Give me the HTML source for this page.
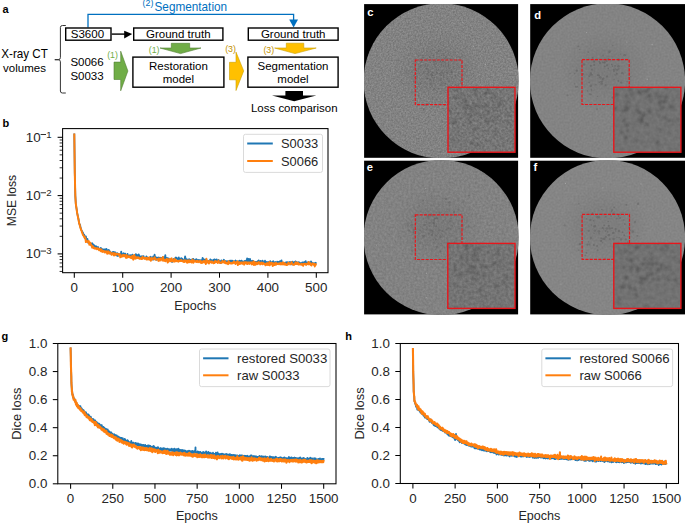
<!DOCTYPE html>
<html><head><meta charset="utf-8"><title>Figure</title>
<style>html,body{margin:0;padding:0;background:#fff;}svg{display:block;}text{font-family:"Liberation Sans",sans-serif;}</style>
</head><body>
<svg width="685" height="523" viewBox="0 0 685 523" font-family="Liberation Sans, sans-serif">
<rect width="685" height="523" fill="#fff"/>
<defs>
<clipPath id="clipb"><rect x="62.6" y="128.6" width="265.4" height="144.1"/></clipPath>
<clipPath id="clipg"><rect x="57.8" y="343.5" width="278.2" height="140.3"/></clipPath>
<clipPath id="cliph"><rect x="400.3" y="343.5" width="278.2" height="140"/></clipPath>
<filter id="hblur" x="-50%" y="-50%" width="200%" height="200%"><feGaussianBlur stdDeviation="10"/></filter>
<filter id="pblur" x="-50%" y="-50%" width="200%" height="200%"><feGaussianBlur stdDeviation="0.75"/></filter>
<filter id="pblur2" x="-50%" y="-50%" width="200%" height="200%"><feGaussianBlur stdDeviation="1.1"/></filter>
<filter id="nc" x="0" y="0" width="100%" height="100%" color-interpolation-filters="sRGB"><feTurbulence type="fractalNoise" baseFrequency="0.6" numOctaves="2" seed="1"/><feColorMatrix type="matrix" values="0.2028 0 0 0 0.4084  0.2028 0 0 0 0.4084  0.2028 0 0 0 0.4084  0 0 0 0 1"/></filter>
<filter id="nic" x="0" y="0" width="100%" height="100%" color-interpolation-filters="sRGB"><feTurbulence type="fractalNoise" baseFrequency="0.4" numOctaves="2" seed="21"/><feColorMatrix type="matrix" values="0.2197 0 0 0 0.3529  0.2197 0 0 0 0.3529  0.2197 0 0 0 0.3529  0 0 0 0 1"/></filter>
<filter id="nd" x="0" y="0" width="100%" height="100%" color-interpolation-filters="sRGB"><feTurbulence type="fractalNoise" baseFrequency="0.5" numOctaves="2" seed="2"/><feColorMatrix type="matrix" values="0.0744 0 0 0 0.4765  0.0744 0 0 0 0.4765  0.0744 0 0 0 0.4765  0 0 0 0 1"/></filter>
<filter id="nid" x="0" y="0" width="100%" height="100%" color-interpolation-filters="sRGB"><feTurbulence type="fractalNoise" baseFrequency="0.25" numOctaves="2" seed="22"/><feColorMatrix type="matrix" values="0.0845 0 0 0 0.4048  0.0845 0 0 0 0.4048  0.0845 0 0 0 0.4048  0 0 0 0 1"/></filter>
<filter id="ne" x="0" y="0" width="100%" height="100%" color-interpolation-filters="sRGB"><feTurbulence type="fractalNoise" baseFrequency="0.45" numOctaves="2" seed="3"/><feColorMatrix type="matrix" values="0.1285 0 0 0 0.4456  0.1285 0 0 0 0.4456  0.1285 0 0 0 0.4456  0 0 0 0 1"/></filter>
<filter id="nie" x="0" y="0" width="100%" height="100%" color-interpolation-filters="sRGB"><feTurbulence type="fractalNoise" baseFrequency="0.35" numOctaves="2" seed="23"/><feColorMatrix type="matrix" values="0.1521 0 0 0 0.3788  0.1521 0 0 0 0.3788  0.1521 0 0 0 0.3788  0 0 0 0 1"/></filter>
<filter id="nf" x="0" y="0" width="100%" height="100%" color-interpolation-filters="sRGB"><feTurbulence type="fractalNoise" baseFrequency="0.5" numOctaves="2" seed="4"/><feColorMatrix type="matrix" values="0.0744 0 0 0 0.4844  0.0744 0 0 0 0.4844  0.0744 0 0 0 0.4844  0 0 0 0 1"/></filter>
<filter id="nif" x="0" y="0" width="100%" height="100%" color-interpolation-filters="sRGB"><feTurbulence type="fractalNoise" baseFrequency="0.25" numOctaves="2" seed="24"/><feColorMatrix type="matrix" values="0.0845 0 0 0 0.4048  0.0845 0 0 0 0.4048  0.0845 0 0 0 0.4048  0 0 0 0 1"/></filter>
</defs>
<g font-family="Liberation Sans, sans-serif">
<text x="2.5" y="13.2" font-size="11" font-weight="bold" fill="#000">a</text>
<path d="M88,27.6 V14.3 H293.6 V20.5" fill="none" stroke="#0070C0" stroke-width="1.3"/>
<polygon points="289.2,19.4 298,19.4 293.6,27.6" fill="#0070C0"/>
<text x="142.6" y="6.0" font-size="8.8" fill="#0070C0">(2)</text>
<text x="154.5" y="10.9" font-size="11.9" fill="#0070C0" textLength="72.6" lengthAdjust="spacingAndGlyphs">Segmentation</text>
<path d="M65.8,25.5 H62.4 Q60.4,25.5 60.4,27.5 V57.6 Q60.4,59.7 58.2,59.7 H54.8 H58.2 Q60.4,59.7 60.4,61.8 V91 Q60.4,93 62.4,93 H65.8" fill="none" stroke="#333" stroke-width="1"/>
<text x="24.6" y="57.9" font-size="12.2" text-anchor="middle" fill="#000" textLength="46.6" lengthAdjust="spacingAndGlyphs">X-ray CT</text>
<text x="24.5" y="71.6" font-size="11.5" text-anchor="middle" fill="#000">volumes</text>
<text x="70.4" y="66.4" font-size="11.5" fill="#000">S0066</text>
<text x="70.4" y="79.9" font-size="11.5" fill="#000">S0033</text>
<rect x="65.70" y="28.00" width="45.30" height="12.20" fill="#fff" stroke="#000" stroke-width="1.4"/>
<rect x="133.70" y="28.00" width="89.20" height="12.20" fill="#fff" stroke="#000" stroke-width="1.4"/>
<rect x="248.30" y="28.00" width="89.80" height="12.20" fill="#fff" stroke="#000" stroke-width="1.4"/>
<rect x="132.90" y="57.10" width="91.00" height="30.10" fill="#fff" stroke="#000" stroke-width="1.4"/>
<rect x="247.90" y="57.10" width="90.20" height="30.10" fill="#fff" stroke="#000" stroke-width="1.4"/>
<text x="87.4" y="38.1" font-size="11.5" text-anchor="middle" fill="#000" textLength="33.4" lengthAdjust="spacingAndGlyphs">S3600</text>
<text x="178.3" y="38.1" font-size="11.5" text-anchor="middle" fill="#000">Ground truth</text>
<text x="293.2" y="38.1" font-size="11.5" text-anchor="middle" fill="#000">Ground truth</text>
<text x="178.4" y="69.7" font-size="11.5" text-anchor="middle" fill="#000">Restoration</text>
<text x="178.4" y="83.3" font-size="11.5" text-anchor="middle" fill="#000">model</text>
<text x="293" y="69.7" font-size="11.5" text-anchor="middle" fill="#000">Segmentation</text>
<text x="293" y="83.3" font-size="11.5" text-anchor="middle" fill="#000">model</text>
<path d="M111.7,34.1 H125" stroke="#000" stroke-width="1.4"/>
<polygon points="124.2,30.7 132.2,34.1 124.2,38.4" fill="#000"/>
<polygon points="114,62.1 120.7,62.1 120.7,51.2 127.9,71 120.7,90.8 120.7,79.5 114,79.5" fill="#70AD47" stroke="#507E32" stroke-width="0.6"/>
<polygon points="171.3,43.3 189.7,43.3 189.7,48 201,48 180.5,53.6 160,48 171.3,48" fill="#70AD47" stroke="#507E32" stroke-width="0.6"/>
<text x="107.2" y="58.3" font-size="8.8" fill="#70AD47">(1)</text>
<text x="148.8" y="53.4" font-size="8.8" fill="#70AD47">(1)</text>
<polygon points="229.5,62.3 236,62.3 236,52.1 243.7,70.9 236,90.5 236,79.8 229.5,79.8" fill="#FFC000" stroke="#C9A000" stroke-width="0.6"/>
<polygon points="286.3,43.2 303.8,43.2 303.8,48 316.2,48 295,53.6 274.6,48 286.3,48" fill="#FFC000" stroke="#C9A000" stroke-width="0.6"/>
<text x="225.2" y="52.3" font-size="8.8" fill="#BF9000">(3)</text>
<text x="263.4" y="53.4" font-size="8.8" fill="#BF9000">(3)</text>
<polygon points="285.4,91 303,91 303,95.4 316.3,95.4 294.2,101.2 272,95.4 285.4,95.4" fill="#000"/>
<text x="294.3" y="111.5" font-size="11.5" text-anchor="middle" fill="#000" textLength="86.6" lengthAdjust="spacingAndGlyphs">Loss comparison</text>
</g>
<g clip-path="url(#clipb)">
<polyline points="74.3,134.5 74.8,173.3 75.3,195.6 75.8,203.4 76.2,206.6 76.7,209.4 77.2,213.1 77.7,215.4 78.2,217.7 78.7,220.1 79.1,223.1 79.6,224.4 80.1,224.9 80.6,227.9 81.1,229.3 81.6,230.5 82.0,231.0 82.5,232.2 83.0,232.8 83.5,235.1 84.0,234.4 84.5,235.7 84.9,238.4 85.4,236.6 85.9,236.5 86.4,239.6 86.9,239.5 87.4,239.0 87.9,241.9 88.3,242.9 88.8,242.9 89.3,242.9 89.8,243.5 90.3,243.1 90.8,243.7 91.2,245.2 91.7,244.1 92.2,243.3 92.7,244.2 93.2,244.7 93.7,245.8 94.1,245.3 94.6,247.2 95.1,246.1 95.6,247.1 96.1,246.3 96.6,247.0 97.0,248.4 97.5,247.6 98.0,246.9 98.5,249.0 99.0,248.7 99.5,249.1 100.0,249.9 100.4,248.1 100.9,248.0 101.4,248.6 101.9,249.2 102.4,249.6 102.9,249.5 103.3,250.5 103.8,249.3 104.3,249.3 104.8,249.5 105.3,250.9 105.8,250.5 106.2,248.8 106.7,249.4 107.2,250.9 107.7,252.7 108.2,251.0 108.7,249.9 109.1,251.1 109.6,251.1 110.1,251.9 110.6,253.7 111.1,253.7 111.6,253.3 112.1,252.5 112.5,252.2 113.0,252.0 113.5,252.9 114.0,252.0 114.5,253.1 115.0,253.5 115.4,252.3 115.9,253.9 116.4,255.5 116.9,254.2 117.4,253.3 117.9,256.0 118.3,253.9 118.8,254.0 119.3,255.0 119.8,255.1 120.3,254.4 120.8,254.6 121.2,251.7 121.7,254.0 122.2,255.7 122.7,255.2 123.2,254.1 123.7,253.2 124.2,254.6 124.6,254.7 125.1,253.6 125.6,255.2 126.1,255.5 126.6,256.6 127.1,255.9 127.5,253.8 128.0,256.8 128.5,255.6 129.0,256.8 129.5,255.6 130.0,255.1 130.4,256.0 130.9,255.3 131.4,255.3 131.9,255.6 132.4,254.6 132.9,255.4 133.3,256.3 133.8,256.7 134.3,256.9 134.8,255.8 135.3,256.5 135.8,254.1 136.3,254.8 136.7,254.8 137.2,256.7 137.7,255.1 138.2,258.1 138.7,254.3 139.2,255.8 139.6,257.4 140.1,257.1 140.6,257.0 141.1,256.3 141.6,256.7 142.1,256.6 142.5,256.4 143.0,256.9 143.5,256.1 144.0,257.7 144.5,258.3 145.0,258.6 145.4,258.5 145.9,257.7 146.4,256.4 146.9,257.2 147.4,257.8 147.9,258.2 148.4,257.8 148.8,257.8 149.3,257.9 149.8,258.7 150.3,257.9 150.8,256.8 151.3,259.4 151.7,257.9 152.2,259.4 152.7,257.6 153.2,256.5 153.7,259.5 154.2,257.8 154.6,254.7 155.1,257.8 155.6,257.0 156.1,258.0 156.6,259.8 157.1,257.7 157.5,258.4 158.0,259.3 158.5,257.5 159.0,258.0 159.5,258.7 160.0,257.6 160.5,259.0 160.9,257.8 161.4,259.1 161.9,258.0 162.4,259.4 162.9,257.3 163.4,258.3 163.8,257.4 164.3,259.3 164.8,259.0 165.3,255.2 165.8,260.9 166.3,259.6 166.7,257.9 167.2,258.4 167.7,258.1 168.2,259.1 168.7,258.5 169.2,259.6 169.6,260.1 170.1,260.4 170.6,259.5 171.1,259.6 171.6,259.6 172.1,262.0 172.6,260.8 173.0,259.6 173.5,259.0 174.0,259.7 174.5,260.0 175.0,261.1 175.5,257.6 175.9,257.5 176.4,257.9 176.9,258.1 177.4,259.1 177.9,259.8 178.4,259.3 178.8,257.5 179.3,259.2 179.8,259.4 180.3,259.0 180.8,258.7 181.3,258.1 181.7,259.8 182.2,258.7 182.7,260.2 183.2,260.3 183.7,260.1 184.2,260.4 184.7,258.8 185.1,256.5 185.6,258.6 186.1,259.7 186.6,259.5 187.1,260.2 187.6,260.7 188.0,259.4 188.5,259.6 189.0,260.7 189.5,259.3 190.0,261.3 190.5,260.0 190.9,260.4 191.4,260.3 191.9,260.8 192.4,259.2 192.9,259.5 193.4,259.0 193.8,259.9 194.3,261.1 194.8,260.3 195.3,261.0 195.8,259.7 196.3,259.1 196.8,259.9 197.2,260.6 197.7,260.5 198.2,260.0 198.7,261.4 199.2,260.1 199.7,260.1 200.1,260.7 200.6,260.6 201.1,260.2 201.6,261.0 202.1,261.0 202.6,257.9 203.0,260.2 203.5,259.0 204.0,261.2 204.5,261.9 205.0,259.7 205.5,259.7 205.9,261.1 206.4,261.7 206.9,260.6 207.4,262.0 207.9,260.8 208.4,262.4 208.9,260.8 209.3,262.4 209.8,260.8 210.3,259.4 210.8,260.9 211.3,260.1 211.8,261.3 212.2,261.5 212.7,262.0 213.2,259.9 213.7,260.9 214.2,259.5 214.7,259.5 215.1,261.0 215.6,260.8 216.1,259.8 216.6,259.4 217.1,261.5 217.6,261.9 218.0,262.4 218.5,259.9 219.0,261.1 219.5,261.6 220.0,261.1 220.5,263.2 221.0,262.5 221.4,260.3 221.9,260.8 222.4,261.0 222.9,262.0 223.4,260.7 223.9,259.7 224.3,262.2 224.8,261.2 225.3,261.6 225.8,261.0 226.3,261.3 226.8,261.4 227.2,262.0 227.7,261.3 228.2,261.8 228.7,261.5 229.2,261.4 229.7,260.8 230.1,261.9 230.6,261.7 231.1,260.5 231.6,261.6 232.1,261.7 232.6,260.8 233.1,261.3 233.5,261.4 234.0,261.3 234.5,262.5 235.0,261.2 235.5,260.5 236.0,261.1 236.4,262.9 236.9,261.4 237.4,262.4 237.9,261.8 238.4,261.5 238.9,262.6 239.3,260.6 239.8,261.7 240.3,261.1 240.8,261.2 241.3,260.6 241.8,260.8 242.2,263.0 242.7,261.7 243.2,263.5 243.7,262.2 244.2,261.2 244.7,261.1 245.2,260.8 245.6,262.2 246.1,261.6 246.6,261.8 247.1,258.3 247.6,260.6 248.1,262.2 248.5,258.9 249.0,262.0 249.5,262.3 250.0,258.9 250.5,261.4 251.0,261.6 251.4,262.6 251.9,260.9 252.4,262.0 252.9,260.8 253.4,261.0 253.9,263.2 254.3,262.9 254.8,263.0 255.3,262.0 255.8,262.1 256.3,262.0 256.8,262.9 257.3,261.9 257.7,261.1 258.2,263.3 258.7,260.5 259.2,262.1 259.7,262.4 260.2,262.5 260.6,260.9 261.1,261.3 261.6,261.7 262.1,263.0 262.6,260.6 263.1,262.1 263.5,262.9 264.0,262.7 264.5,262.9 265.0,260.7 265.5,262.3 266.0,262.5 266.4,264.3 266.9,261.9 267.4,263.4 267.9,263.5 268.4,262.1 268.9,263.3 269.4,261.9 269.8,261.7 270.3,261.2 270.8,262.7 271.3,263.9 271.8,262.7 272.3,261.9 272.7,263.7 273.2,261.2 273.7,262.9 274.2,263.6 274.7,262.7 275.2,262.0 275.6,263.8 276.1,262.7 276.6,263.8 277.1,261.7 277.6,262.6 278.1,263.0 278.5,261.8 279.0,263.7 279.5,263.0 280.0,261.2 280.5,262.8 281.0,261.6 281.5,260.4 281.9,263.3 282.4,262.9 282.9,262.7 283.4,263.1 283.9,263.4 284.4,263.4 284.8,264.0 285.3,262.7 285.8,262.5 286.3,262.2 286.8,264.3 287.3,262.1 287.7,262.8 288.2,264.0 288.7,262.7 289.2,262.2 289.7,262.4 290.2,262.2 290.6,262.1 291.1,262.1 291.6,262.9 292.1,264.5 292.6,261.6 293.1,262.6 293.6,263.2 294.0,262.3 294.5,262.2 295.0,262.8 295.5,261.4 296.0,263.7 296.5,262.1 296.9,263.3 297.4,263.5 297.9,262.4 298.4,263.4 298.9,262.2 299.4,263.9 299.8,262.9 300.3,263.6 300.8,263.1 301.3,263.3 301.8,263.9 302.3,262.4 302.7,264.0 303.2,263.8 303.7,262.3 304.2,262.2 304.7,262.4 305.2,262.7 305.7,261.1 306.1,264.0 306.6,263.6 307.1,263.8 307.6,262.3 308.1,262.8 308.6,262.1 309.0,262.2 309.5,263.2 310.0,263.7 310.5,263.9 311.0,261.3 311.5,262.3 311.9,262.6 312.4,263.4 312.9,263.2 313.4,263.4 313.9,263.4 314.4,265.1 314.8,263.2 315.3,263.4 315.8,262.9" fill="none" stroke="#1f77b4" stroke-width="1.8" stroke-linejoin="round" stroke-linecap="square" />
<polyline points="74.3,134.5 74.8,173.4 75.3,195.6 75.8,203.6 76.2,206.5 76.7,209.9 77.2,213.4 77.7,215.8 78.2,218.2 78.7,220.6 79.1,223.1 79.6,224.5 80.1,226.8 80.6,228.1 81.1,229.9 81.6,230.8 82.0,232.4 82.5,233.6 83.0,235.0 83.5,235.6 84.0,236.3 84.5,237.6 84.9,237.1 85.4,238.0 85.9,242.1 86.4,241.9 86.9,240.9 87.4,241.7 87.9,241.7 88.3,242.3 88.8,241.1 89.3,244.7 89.8,244.6 90.3,242.8 90.8,244.5 91.2,244.8 91.7,246.2 92.2,247.6 92.7,246.2 93.2,246.5 93.7,248.1 94.1,247.9 94.6,247.7 95.1,248.8 95.6,248.3 96.1,248.3 96.6,248.5 97.0,249.2 97.5,248.3 98.0,248.3 98.5,249.0 99.0,250.2 99.5,249.0 100.0,250.3 100.4,249.2 100.9,251.2 101.4,249.5 101.9,250.6 102.4,251.9 102.9,251.2 103.3,251.0 103.8,250.9 104.3,252.2 104.8,252.5 105.3,251.4 105.8,252.2 106.2,251.7 106.7,251.4 107.2,253.7 107.7,252.1 108.2,251.4 108.7,252.9 109.1,253.6 109.6,252.2 110.1,252.9 110.6,252.4 111.1,253.7 111.6,254.8 112.1,253.7 112.5,254.1 113.0,253.0 113.5,253.7 114.0,255.5 114.5,255.1 115.0,253.3 115.4,253.6 115.9,254.9 116.4,254.4 116.9,254.1 117.4,254.2 117.9,253.9 118.3,254.5 118.8,255.0 119.3,255.2 119.8,254.1 120.3,257.3 120.8,255.4 121.2,255.4 121.7,256.8 122.2,255.3 122.7,256.3 123.2,255.0 123.7,256.1 124.2,255.4 124.6,255.0 125.1,255.9 125.6,257.2 126.1,257.9 126.6,255.0 127.1,256.8 127.5,257.4 128.0,256.7 128.5,257.0 129.0,256.1 129.5,256.9 130.0,257.0 130.4,257.7 130.9,256.6 131.4,258.1 131.9,256.5 132.4,255.8 132.9,258.7 133.3,259.6 133.8,256.7 134.3,255.0 134.8,258.3 135.3,258.6 135.8,256.9 136.3,258.3 136.7,258.1 137.2,258.0 137.7,257.2 138.2,258.1 138.7,257.5 139.2,258.0 139.6,258.6 140.1,258.2 140.6,258.8 141.1,258.0 141.6,259.1 142.1,259.1 142.5,256.8 143.0,258.2 143.5,258.3 144.0,257.8 144.5,258.7 145.0,258.6 145.4,258.0 145.9,258.2 146.4,259.5 146.9,257.7 147.4,259.1 147.9,259.6 148.4,259.4 148.8,259.0 149.3,257.2 149.8,259.8 150.3,258.6 150.8,260.8 151.3,258.8 151.7,258.0 152.2,259.1 152.7,259.5 153.2,258.8 153.7,258.4 154.2,258.4 154.6,257.2 155.1,258.9 155.6,259.7 156.1,259.3 156.6,259.3 157.1,259.2 157.5,259.3 158.0,259.2 158.5,260.9 159.0,258.6 159.5,260.0 160.0,260.6 160.5,258.9 160.9,258.3 161.4,259.1 161.9,259.5 162.4,260.5 162.9,257.0 163.4,258.9 163.8,260.8 164.3,260.5 164.8,259.8 165.3,261.3 165.8,259.8 166.3,260.4 166.7,258.8 167.2,259.1 167.7,262.6 168.2,260.1 168.7,261.6 169.2,259.1 169.6,260.0 170.1,259.7 170.6,261.3 171.1,258.6 171.6,258.4 172.1,261.3 172.6,260.0 173.0,261.0 173.5,260.4 174.0,261.6 174.5,258.7 175.0,261.4 175.5,260.8 175.9,260.0 176.4,261.1 176.9,260.8 177.4,261.1 177.9,260.7 178.4,261.7 178.8,261.0 179.3,260.8 179.8,261.0 180.3,260.6 180.8,261.0 181.3,260.0 181.7,261.0 182.2,260.9 182.7,261.4 183.2,261.3 183.7,262.0 184.2,260.3 184.7,261.9 185.1,261.6 185.6,260.6 186.1,260.5 186.6,261.3 187.1,262.8 187.6,260.6 188.0,260.7 188.5,262.3 189.0,260.3 189.5,261.7 190.0,262.1 190.5,261.0 190.9,261.3 191.4,260.9 191.9,262.6 192.4,259.5 192.9,261.7 193.4,262.6 193.8,260.6 194.3,261.6 194.8,261.0 195.3,261.6 195.8,261.3 196.3,261.1 196.8,262.0 197.2,260.7 197.7,261.8 198.2,262.2 198.7,261.3 199.2,261.0 199.7,261.7 200.1,262.3 200.6,260.9 201.1,263.1 201.6,262.5 202.1,261.5 202.6,262.8 203.0,261.6 203.5,261.7 204.0,260.8 204.5,262.5 205.0,262.2 205.5,261.4 205.9,264.0 206.4,258.8 206.9,262.4 207.4,262.4 207.9,261.0 208.4,261.8 208.9,263.5 209.3,261.2 209.8,261.1 210.3,262.3 210.8,262.2 211.3,261.5 211.8,262.8 212.2,261.5 212.7,261.8 213.2,262.6 213.7,263.3 214.2,262.2 214.7,262.9 215.1,261.1 215.6,261.9 216.1,261.4 216.6,262.0 217.1,261.9 217.6,262.9 218.0,261.6 218.5,260.5 219.0,262.5 219.5,262.8 220.0,262.4 220.5,262.7 221.0,262.9 221.4,262.2 221.9,262.6 222.4,261.0 222.9,262.3 223.4,262.1 223.9,261.5 224.3,262.7 224.8,261.1 225.3,263.0 225.8,263.2 226.3,262.8 226.8,262.6 227.2,263.8 227.7,262.5 228.2,264.1 228.7,261.2 229.2,262.6 229.7,263.2 230.1,263.4 230.6,263.0 231.1,262.8 231.6,263.6 232.1,263.5 232.6,262.8 233.1,263.2 233.5,261.8 234.0,261.6 234.5,262.7 235.0,262.3 235.5,264.0 236.0,262.2 236.4,262.8 236.9,262.4 237.4,261.3 237.9,265.0 238.4,262.6 238.9,263.9 239.3,262.3 239.8,264.1 240.3,263.4 240.8,262.7 241.3,262.4 241.8,262.9 242.2,263.7 242.7,263.5 243.2,262.2 243.7,263.0 244.2,264.6 244.7,262.3 245.2,262.7 245.6,262.3 246.1,263.4 246.6,262.3 247.1,264.1 247.6,262.6 248.1,263.6 248.5,262.6 249.0,262.3 249.5,263.9 250.0,263.3 250.5,263.2 251.0,262.2 251.4,262.6 251.9,264.4 252.4,262.9 252.9,262.6 253.4,261.4 253.9,264.9 254.3,263.9 254.8,262.1 255.3,264.7 255.8,264.5 256.3,263.0 256.8,262.5 257.3,264.1 257.7,263.0 258.2,263.4 258.7,262.1 259.2,263.5 259.7,262.6 260.2,264.4 260.6,263.7 261.1,263.7 261.6,262.5 262.1,263.1 262.6,264.3 263.1,263.0 263.5,263.0 264.0,263.8 264.5,263.9 265.0,263.9 265.5,265.3 266.0,263.6 266.4,263.5 266.9,264.6 267.4,263.1 267.9,265.1 268.4,264.3 268.9,264.3 269.4,262.0 269.8,265.3 270.3,263.3 270.8,263.0 271.3,263.5 271.8,262.8 272.3,264.8 272.7,266.0 273.2,263.2 273.7,265.0 274.2,264.2 274.7,265.0 275.2,262.9 275.6,263.1 276.1,264.6 276.6,263.1 277.1,263.8 277.6,264.1 278.1,263.9 278.5,264.1 279.0,263.4 279.5,263.7 280.0,264.3 280.5,263.0 281.0,264.5 281.5,263.7 281.9,263.6 282.4,262.6 282.9,264.5 283.4,262.4 283.9,263.8 284.4,264.2 284.8,264.6 285.3,263.5 285.8,264.0 286.3,265.1 286.8,265.1 287.3,264.6 287.7,264.7 288.2,263.0 288.7,262.8 289.2,263.3 289.7,263.7 290.2,264.5 290.6,264.0 291.1,263.3 291.6,262.1 292.1,263.3 292.6,264.4 293.1,264.1 293.6,264.6 294.0,264.9 294.5,264.3 295.0,264.0 295.5,262.4 296.0,264.1 296.5,262.9 296.9,262.5 297.4,264.1 297.9,262.7 298.4,263.5 298.9,264.6 299.4,263.9 299.8,264.2 300.3,264.4 300.8,264.4 301.3,264.1 301.8,263.8 302.3,265.1 302.7,264.2 303.2,265.7 303.7,264.0 304.2,263.7 304.7,264.1 305.2,264.0 305.7,263.7 306.1,264.9 306.6,264.5 307.1,263.8 307.6,263.4 308.1,263.9 308.6,261.9 309.0,264.4 309.5,263.4 310.0,263.1 310.5,264.4 311.0,265.1 311.5,265.4 311.9,264.2 312.4,263.3 312.9,264.1 313.4,264.2 313.9,264.7 314.4,263.8 314.8,266.4 315.3,264.2 315.8,264.4" fill="none" stroke="#ff7f0e" stroke-width="2.0" stroke-linejoin="round" stroke-linecap="square" />
</g>
<rect x="62.6" y="128.6" width="265.4" height="144.1" fill="none" stroke="#000" stroke-width="1.05"/>
<line x1="57.6" y1="137.30" x2="62.6" y2="137.30" stroke="#000" stroke-width="1.05"/>
<text x="25.800000000000004" y="141.60" font-size="12.2" fill="#262626" textLength="14.89" lengthAdjust="spacingAndGlyphs">10</text>
<rect x="40.60" y="134.00" width="5.4" height="0.95" fill="#262626"/>
<text x="46.20" y="137.70" font-size="9.6" fill="#262626">1</text>
<line x1="57.6" y1="195.60" x2="62.6" y2="195.60" stroke="#000" stroke-width="1.05"/>
<text x="25.800000000000004" y="199.90" font-size="12.2" fill="#262626" textLength="14.89" lengthAdjust="spacingAndGlyphs">10</text>
<rect x="40.60" y="192.30" width="5.4" height="0.95" fill="#262626"/>
<text x="46.20" y="196.00" font-size="9.6" fill="#262626">2</text>
<line x1="57.6" y1="253.90" x2="62.6" y2="253.90" stroke="#000" stroke-width="1.05"/>
<text x="25.800000000000004" y="258.20" font-size="12.2" fill="#262626" textLength="14.89" lengthAdjust="spacingAndGlyphs">10</text>
<rect x="40.60" y="250.60" width="5.4" height="0.95" fill="#262626"/>
<text x="46.20" y="254.30" font-size="9.6" fill="#262626">3</text>
<line x1="59.6" y1="271.45" x2="62.6" y2="271.45" stroke="#000" stroke-width="0.8"/>
<line x1="59.6" y1="266.83" x2="62.6" y2="266.83" stroke="#000" stroke-width="0.8"/>
<line x1="59.6" y1="262.93" x2="62.6" y2="262.93" stroke="#000" stroke-width="0.8"/>
<line x1="59.6" y1="259.55" x2="62.6" y2="259.55" stroke="#000" stroke-width="0.8"/>
<line x1="59.6" y1="256.57" x2="62.6" y2="256.57" stroke="#000" stroke-width="0.8"/>
<line x1="59.6" y1="236.35" x2="62.6" y2="236.35" stroke="#000" stroke-width="0.8"/>
<line x1="59.6" y1="226.08" x2="62.6" y2="226.08" stroke="#000" stroke-width="0.8"/>
<line x1="59.6" y1="218.80" x2="62.6" y2="218.80" stroke="#000" stroke-width="0.8"/>
<line x1="59.6" y1="213.15" x2="62.6" y2="213.15" stroke="#000" stroke-width="0.8"/>
<line x1="59.6" y1="208.53" x2="62.6" y2="208.53" stroke="#000" stroke-width="0.8"/>
<line x1="59.6" y1="204.63" x2="62.6" y2="204.63" stroke="#000" stroke-width="0.8"/>
<line x1="59.6" y1="201.25" x2="62.6" y2="201.25" stroke="#000" stroke-width="0.8"/>
<line x1="59.6" y1="198.27" x2="62.6" y2="198.27" stroke="#000" stroke-width="0.8"/>
<line x1="59.6" y1="178.05" x2="62.6" y2="178.05" stroke="#000" stroke-width="0.8"/>
<line x1="59.6" y1="167.78" x2="62.6" y2="167.78" stroke="#000" stroke-width="0.8"/>
<line x1="59.6" y1="160.50" x2="62.6" y2="160.50" stroke="#000" stroke-width="0.8"/>
<line x1="59.6" y1="154.85" x2="62.6" y2="154.85" stroke="#000" stroke-width="0.8"/>
<line x1="59.6" y1="150.23" x2="62.6" y2="150.23" stroke="#000" stroke-width="0.8"/>
<line x1="59.6" y1="146.33" x2="62.6" y2="146.33" stroke="#000" stroke-width="0.8"/>
<line x1="59.6" y1="142.95" x2="62.6" y2="142.95" stroke="#000" stroke-width="0.8"/>
<line x1="59.6" y1="139.97" x2="62.6" y2="139.97" stroke="#000" stroke-width="0.8"/>
<line x1="74.30" y1="272.7" x2="74.30" y2="277.7" stroke="#000" stroke-width="1.05"/>
<text x="74.30" y="292.00" font-size="12.2" text-anchor="middle" fill="#262626" textLength="7.44" lengthAdjust="spacingAndGlyphs" >0</text>
<line x1="122.70" y1="272.7" x2="122.70" y2="277.7" stroke="#000" stroke-width="1.05"/>
<text x="122.70" y="292.00" font-size="12.2" text-anchor="middle" fill="#262626" textLength="22.33" lengthAdjust="spacingAndGlyphs" >100</text>
<line x1="171.10" y1="272.7" x2="171.10" y2="277.7" stroke="#000" stroke-width="1.05"/>
<text x="171.10" y="292.00" font-size="12.2" text-anchor="middle" fill="#262626" textLength="22.33" lengthAdjust="spacingAndGlyphs" >200</text>
<line x1="219.50" y1="272.7" x2="219.50" y2="277.7" stroke="#000" stroke-width="1.05"/>
<text x="219.50" y="292.00" font-size="12.2" text-anchor="middle" fill="#262626" textLength="22.33" lengthAdjust="spacingAndGlyphs" >300</text>
<line x1="267.90" y1="272.7" x2="267.90" y2="277.7" stroke="#000" stroke-width="1.05"/>
<text x="267.90" y="292.00" font-size="12.2" text-anchor="middle" fill="#262626" textLength="22.33" lengthAdjust="spacingAndGlyphs" >400</text>
<line x1="316.30" y1="272.7" x2="316.30" y2="277.7" stroke="#000" stroke-width="1.05"/>
<text x="316.30" y="292.00" font-size="12.2" text-anchor="middle" fill="#262626" textLength="22.33" lengthAdjust="spacingAndGlyphs" >500</text>
<text x="195.30" y="309.50" font-size="12.2" text-anchor="middle" fill="#262626" textLength="41.92" lengthAdjust="spacingAndGlyphs" >Epochs</text>
<text transform="translate(16.1,200.6) rotate(-90)" font-size="12.2" text-anchor="middle" fill="#262626" textLength="51.23" lengthAdjust="spacingAndGlyphs">MSE loss</text>
<rect x="243.5" y="134.3" width="79.0" height="38.099999999999994" rx="2" fill="#fff" fill-opacity="0.8" stroke="#d6d6d6" stroke-width="0.9"/>
<line x1="247.2" y1="143.5" x2="272.8" y2="143.5" stroke="#1f77b4" stroke-width="2"/>
<text x="281.00" y="148.10" font-size="12.2" text-anchor="start" fill="#262626" textLength="37.20" lengthAdjust="spacingAndGlyphs" >S0033</text>
<line x1="247.2" y1="161.0" x2="272.8" y2="161.0" stroke="#ff7f0e" stroke-width="2"/>
<text x="281.00" y="165.50" font-size="12.2" text-anchor="start" fill="#262626" textLength="37.20" lengthAdjust="spacingAndGlyphs" >S0066</text>
<text x="2.6" y="126.5" font-size="11" font-weight="bold" fill="#000">b</text>
<g clip-path="url(#clipg)">
<polyline points="70.6,348.4 70.8,356.6 70.9,364.6 71.1,370.5 71.3,376.4 71.4,382.7 71.6,385.8 71.8,388.8 71.9,390.8 72.1,391.0 72.3,392.8 72.5,394.7 72.6,395.4 72.8,394.5 73.0,396.1 73.1,397.8 73.3,397.0 73.5,398.1 73.6,398.0 73.8,398.3 74.0,398.8 74.1,398.2 74.3,399.0 74.5,399.7 74.6,399.3 74.8,399.3 75.0,401.4 75.2,400.8 75.3,401.6 75.5,401.4 75.7,402.5 75.8,401.9 76.0,402.3 76.2,402.8 76.3,403.7 76.5,403.6 76.7,404.4 76.8,404.9 77.0,404.1 77.2,405.4 77.3,404.1 77.5,404.6 77.7,406.7 77.9,405.3 78.0,406.4 78.2,405.8 78.4,405.9 78.5,407.5 78.7,406.4 78.9,406.6 79.0,405.9 79.2,407.6 79.4,406.4 79.5,407.9 79.7,407.5 79.9,408.0 80.0,406.6 80.2,407.4 80.4,406.2 80.6,407.6 80.7,407.7 80.9,407.8 81.1,409.0 81.2,408.8 81.4,408.0 81.6,409.3 81.7,409.1 81.9,409.4 82.1,409.1 82.2,410.0 82.4,410.0 82.6,409.9 82.7,410.1 82.9,411.0 83.1,409.9 83.3,411.6 83.4,411.7 83.6,411.9 83.8,410.5 83.9,411.6 84.1,412.2 84.3,412.5 84.4,411.6 84.6,412.8 84.8,413.1 84.9,411.9 85.1,413.4 85.3,412.9 85.4,412.9 85.6,413.3 85.8,413.2 86.0,412.4 86.1,413.9 86.3,414.5 86.5,415.1 86.6,414.1 86.8,414.4 87.0,414.1 87.1,414.8 87.3,415.0 87.5,415.3 87.6,415.3 87.8,415.0 88.0,415.6 88.1,415.4 88.3,414.3 88.5,415.4 88.7,417.0 88.8,414.9 89.0,416.0 89.2,417.1 89.3,415.9 89.5,416.7 89.7,417.3 89.8,417.5 90.0,417.9 90.2,417.4 90.3,416.8 90.5,417.9 90.7,417.6 90.8,416.7 91.0,419.1 91.2,418.2 91.4,418.7 91.5,419.4 91.7,419.6 91.9,419.0 92.0,418.9 92.2,419.7 92.4,419.5 92.5,419.2 92.7,419.6 92.9,419.3 93.0,419.8 93.2,419.9 93.4,419.1 93.5,420.1 93.7,420.5 93.9,420.3 94.1,421.5 94.2,421.3 94.4,420.6 94.6,420.9 94.7,420.3 94.9,421.6 95.1,422.7 95.2,420.5 95.4,421.2 95.6,422.8 95.7,421.3 95.9,422.4 96.1,423.8 96.2,422.9 96.4,423.1 96.6,421.8 96.8,423.6 96.9,423.4 97.1,423.5 97.3,423.7 97.4,424.2 97.6,423.6 97.8,423.1 97.9,423.5 98.1,424.8 98.3,425.1 98.4,424.3 98.6,425.0 98.8,425.1 98.9,426.0 99.1,423.6 99.3,424.4 99.5,425.9 99.6,424.7 99.8,424.5 100.0,427.3 100.1,426.1 100.3,426.1 100.5,425.5 100.6,426.2 100.8,426.4 101.0,426.4 101.1,425.2 101.3,425.1 101.5,427.1 101.6,427.5 101.8,425.1 102.0,427.8 102.2,427.6 102.3,427.3 102.5,427.2 102.7,426.9 102.8,427.5 103.0,428.5 103.2,427.6 103.3,427.9 103.5,426.9 103.7,428.4 103.8,429.4 104.0,429.3 104.2,427.7 104.3,429.2 104.5,430.5 104.7,429.5 104.9,429.2 105.0,428.5 105.2,430.2 105.4,429.1 105.5,429.2 105.7,430.4 105.9,430.1 106.0,428.9 106.2,429.0 106.4,429.8 106.5,430.3 106.7,429.8 106.9,430.8 107.0,430.9 107.2,431.6 107.4,431.1 107.6,431.3 107.7,429.4 107.9,431.6 108.1,430.7 108.2,430.8 108.4,431.9 108.6,431.1 108.7,433.5 108.9,432.0 109.1,431.6 109.2,434.0 109.4,433.2 109.6,431.7 109.7,432.8 109.9,433.5 110.1,433.0 110.3,433.3 110.4,432.5 110.6,432.8 110.8,433.4 110.9,433.7 111.1,433.4 111.3,432.5 111.4,433.3 111.6,433.2 111.8,433.9 111.9,434.8 112.1,434.4 112.3,433.6 112.4,434.1 112.6,434.9 112.8,435.5 113.0,434.4 113.1,434.8 113.3,434.9 113.5,435.0 113.6,434.6 113.8,434.7 114.0,434.3 114.1,434.5 114.3,434.3 114.5,434.8 114.6,435.7 114.8,435.6 115.0,435.3 115.1,435.9 115.3,435.4 115.5,435.1 115.7,436.6 115.8,437.3 116.0,435.3 116.2,436.3 116.3,435.9 116.5,437.4 116.7,435.3 116.8,436.1 117.0,436.8 117.2,437.0 117.3,436.8 117.5,437.1 117.7,437.2 117.8,437.9 118.0,436.3 118.2,437.3 118.4,437.3 118.5,437.4 118.7,439.2 118.9,437.2 119.0,437.9 119.2,438.0 119.4,437.8 119.5,438.6 119.7,437.4 119.9,438.6 120.0,438.8 120.2,438.9 120.4,438.3 120.5,437.9 120.7,439.0 120.9,439.7 121.1,438.0 121.2,439.5 121.4,438.0 121.6,439.0 121.7,439.5 121.9,439.6 122.1,438.9 122.2,438.7 122.4,439.5 122.6,438.8 122.7,438.1 122.9,439.8 123.1,440.5 123.2,440.5 123.4,440.9 123.6,440.4 123.7,440.5 123.9,441.0 124.1,439.8 124.3,442.1 124.4,441.2 124.6,438.9 124.8,439.7 124.9,440.1 125.1,440.2 125.3,439.4 125.4,440.3 125.6,440.7 125.8,441.7 125.9,440.9 126.1,441.5 126.3,441.5 126.4,441.6 126.6,441.2 126.8,441.5 127.0,440.7 127.1,442.3 127.3,441.5 127.5,440.2 127.6,441.5 127.8,440.8 128.0,440.9 128.1,440.8 128.3,441.3 128.5,442.9 128.6,442.2 128.8,442.3 129.0,443.2 129.1,442.5 129.3,443.1 129.5,443.5 129.7,442.2 129.8,442.5 130.0,443.0 130.2,443.2 130.3,443.0 130.5,443.0 130.7,443.1 130.8,442.9 131.0,443.2 131.2,442.7 131.3,441.0 131.5,442.8 131.7,443.6 131.8,443.6 132.0,442.9 132.2,443.4 132.4,443.3 132.5,445.1 132.7,445.3 132.9,443.2 133.0,443.2 133.2,442.5 133.4,443.0 133.5,443.4 133.7,443.6 133.9,444.7 134.0,443.1 134.2,444.2 134.4,443.4 134.5,443.7 134.7,443.7 134.9,443.3 135.1,444.3 135.2,444.3 135.4,444.7 135.6,444.4 135.7,443.0 135.9,444.4 136.1,443.4 136.2,443.7 136.4,443.8 136.6,443.8 136.7,445.1 136.9,444.2 137.1,443.4 137.2,445.0 137.4,444.6 137.6,445.1 137.8,444.5 137.9,445.5 138.1,443.6 138.3,445.1 138.4,445.9 138.6,443.6 138.8,444.3 138.9,444.6 139.1,444.6 139.3,445.3 139.4,445.2 139.6,444.6 139.8,444.5 139.9,444.5 140.1,445.1 140.3,445.6 140.5,445.4 140.6,444.5 140.8,444.3 141.0,445.6 141.1,445.7 141.3,444.6 141.5,445.0 141.6,445.0 141.8,446.5 142.0,445.8 142.1,446.0 142.3,445.5 142.5,446.9 142.6,444.8 142.8,445.5 143.0,445.5 143.2,446.6 143.3,445.9 143.5,444.9 143.7,447.0 143.8,445.7 144.0,445.5 144.2,446.5 144.3,445.5 144.5,446.3 144.7,445.2 144.8,445.8 145.0,446.0 145.2,444.8 145.3,445.7 145.5,445.4 145.7,447.1 145.9,446.8 146.0,445.8 146.2,445.8 146.4,446.5 146.5,445.9 146.7,447.2 146.9,446.4 147.0,447.4 147.2,446.3 147.4,446.9 147.5,447.1 147.7,446.6 147.9,445.4 148.0,447.4 148.2,447.1 148.4,446.0 148.6,447.0 148.7,445.5 148.9,446.6 149.1,446.7 149.2,446.6 149.4,445.6 149.6,446.4 149.7,446.5 149.9,446.7 150.1,448.0 150.2,447.6 150.4,445.9 150.6,446.4 150.7,446.7 150.9,446.6 151.1,447.5 151.3,446.9 151.4,447.7 151.6,446.9 151.8,447.7 151.9,447.3 152.1,446.9 152.3,447.5 152.4,446.8 152.6,446.9 152.8,447.0 152.9,446.4 153.1,448.4 153.3,448.5 153.4,446.9 153.6,446.7 153.8,446.0 154.0,446.9 154.1,446.9 154.3,448.1 154.5,447.0 154.6,447.1 154.8,448.4 155.0,448.3 155.1,447.8 155.3,447.6 155.5,449.9 155.6,447.8 155.8,447.8 156.0,448.1 156.1,447.8 156.3,447.8 156.5,448.8 156.7,447.9 156.8,448.4 157.0,448.9 157.2,448.2 157.3,447.3 157.5,449.4 157.7,449.6 157.8,449.7 158.0,447.2 158.2,448.8 158.3,448.7 158.5,449.2 158.7,449.4 158.8,450.2 159.0,448.7 159.2,448.7 159.4,450.3 159.5,449.7 159.7,449.5 159.9,449.0 160.0,448.9 160.2,448.3 160.4,448.1 160.5,448.3 160.7,448.2 160.9,449.9 161.0,449.5 161.2,448.3 161.4,448.9 161.5,449.2 161.7,450.6 161.9,450.5 162.1,448.7 162.2,449.0 162.4,449.4 162.6,449.5 162.7,450.5 162.9,449.0 163.1,448.6 163.2,448.2 163.4,449.3 163.6,449.5 163.7,450.1 163.9,448.5 164.1,448.2 164.2,449.8 164.4,449.2 164.6,449.4 164.8,449.8 164.9,451.2 165.1,449.7 165.3,449.1 165.4,450.5 165.6,450.1 165.8,451.8 165.9,448.6 166.1,449.2 166.3,449.5 166.4,449.8 166.6,450.0 166.8,449.7 166.9,449.8 167.1,449.8 167.3,449.7 167.5,449.6 167.6,448.6 167.8,450.7 168.0,449.5 168.1,450.2 168.3,450.5 168.5,451.4 168.6,449.3 168.8,450.5 169.0,450.3 169.1,449.5 169.3,450.6 169.5,449.8 169.6,449.9 169.8,449.3 170.0,449.2 170.2,450.5 170.3,449.3 170.5,450.0 170.7,449.9 170.8,450.1 171.0,449.5 171.2,450.9 171.3,449.9 171.5,449.2 171.7,450.3 171.8,448.7 172.0,450.6 172.2,450.0 172.3,450.5 172.5,450.6 172.7,451.0 172.9,450.6 173.0,450.3 173.2,450.8 173.4,449.6 173.5,449.2 173.7,451.4 173.9,449.7 174.0,450.2 174.2,450.2 174.4,448.6 174.5,449.5 174.7,450.2 174.9,450.3 175.0,451.9 175.2,449.9 175.4,451.0 175.6,450.3 175.7,450.4 175.9,449.8 176.1,449.1 176.2,449.8 176.4,449.7 176.6,450.7 176.7,450.3 176.9,450.1 177.1,451.6 177.2,449.2 177.4,451.2 177.6,451.6 177.7,449.5 177.9,449.2 178.1,451.2 178.2,451.2 178.4,448.6 178.6,450.7 178.8,452.2 178.9,451.2 179.1,449.4 179.3,450.4 179.4,450.3 179.6,450.0 179.8,450.4 179.9,451.1 180.1,452.0 180.3,450.6 180.4,451.7 180.6,451.0 180.8,449.8 180.9,450.6 181.1,451.0 181.3,451.0 181.5,450.6 181.6,450.4 181.8,452.0 182.0,451.0 182.1,449.9 182.3,450.6 182.5,451.7 182.6,451.7 182.8,452.7 183.0,451.8 183.1,450.1 183.3,451.3 183.5,451.9 183.6,451.7 183.8,451.4 184.0,451.4 184.2,451.6 184.3,451.9 184.5,450.9 184.7,450.3 184.8,451.8 185.0,451.8 185.2,450.6 185.3,452.5 185.5,451.9 185.7,451.8 185.8,451.4 186.0,451.7 186.2,452.2 186.3,451.3 186.5,452.4 186.7,452.8 186.9,453.0 187.0,451.1 187.2,452.9 187.4,451.4 187.5,451.2 187.7,451.1 187.9,451.8 188.0,452.1 188.2,451.7 188.4,452.2 188.5,452.7 188.7,450.9 188.9,452.5 189.0,450.6 189.2,451.5 189.4,452.2 189.6,451.6 189.7,451.0 189.9,452.9 190.1,452.6 190.2,452.7 190.4,451.9 190.6,451.7 190.7,452.0 190.9,452.5 191.1,452.4 191.2,451.2 191.4,451.3 191.6,452.0 191.7,453.0 191.9,451.7 192.1,451.9 192.3,452.0 192.4,451.0 192.6,451.6 192.8,452.9 192.9,452.9 193.1,451.3 193.3,452.1 193.4,451.7 193.6,452.4 193.8,453.0 193.9,452.1 194.1,451.2 194.3,452.1 194.4,453.1 194.6,452.6 194.8,452.7 195.0,452.3 195.1,451.7 195.3,451.0 195.5,447.3 195.6,452.7 195.8,452.4 196.0,452.4 196.1,452.8 196.3,452.5 196.5,452.5 196.6,453.3 196.8,452.2 197.0,452.8 197.1,453.3 197.3,452.2 197.5,452.9 197.7,451.4 197.8,452.3 198.0,452.6 198.2,453.2 198.3,453.0 198.5,452.1 198.7,453.2 198.8,452.2 199.0,454.2 199.2,452.6 199.3,452.2 199.5,452.6 199.7,452.8 199.8,452.1 200.0,453.4 200.2,453.5 200.4,452.8 200.5,452.0 200.7,452.6 200.9,453.1 201.0,452.7 201.2,452.6 201.4,453.8 201.5,455.0 201.7,453.7 201.9,454.1 202.0,453.4 202.2,453.9 202.4,453.7 202.5,452.8 202.7,453.0 202.9,453.1 203.1,452.0 203.2,453.5 203.4,453.4 203.6,452.3 203.7,454.0 203.9,454.3 204.1,452.3 204.2,453.0 204.4,452.8 204.6,452.8 204.7,452.6 204.9,453.6 205.1,453.3 205.2,454.1 205.4,453.2 205.6,453.2 205.8,453.7 205.9,452.9 206.1,451.3 206.3,454.2 206.4,452.8 206.6,452.7 206.8,452.7 206.9,454.0 207.1,452.6 207.3,453.0 207.4,453.6 207.6,453.7 207.8,453.3 207.9,452.9 208.1,452.9 208.3,451.9 208.5,453.8 208.6,453.1 208.8,453.9 209.0,453.1 209.1,453.5 209.3,454.0 209.5,454.6 209.6,454.2 209.8,453.5 210.0,452.7 210.1,453.2 210.3,454.6 210.5,454.1 210.6,453.7 210.8,453.9 211.0,453.8 211.2,453.3 211.3,453.7 211.5,454.4 211.7,455.2 211.8,454.2 212.0,455.1 212.2,454.1 212.3,453.8 212.5,454.9 212.7,454.1 212.8,454.3 213.0,452.7 213.2,453.8 213.3,455.4 213.5,453.8 213.7,453.9 213.9,454.3 214.0,454.5 214.2,453.8 214.4,453.8 214.5,453.9 214.7,455.0 214.9,454.5 215.0,455.4 215.2,455.4 215.4,454.7 215.5,455.1 215.7,454.7 215.9,452.7 216.0,454.1 216.2,455.1 216.4,456.0 216.6,455.1 216.7,455.5 216.9,456.1 217.1,454.0 217.2,454.9 217.4,454.3 217.6,452.4 217.7,454.4 217.9,454.5 218.1,454.4 218.2,454.8 218.4,455.2 218.6,454.8 218.7,453.9 218.9,454.9 219.1,455.7 219.3,455.6 219.4,455.5 219.6,454.8 219.8,454.4 219.9,454.4 220.1,454.0 220.3,455.0 220.4,454.2 220.6,454.6 220.8,454.3 220.9,456.1 221.1,454.0 221.3,456.0 221.4,455.7 221.6,454.3 221.8,455.2 222.0,453.7 222.1,454.8 222.3,455.7 222.5,454.8 222.6,455.3 222.8,453.9 223.0,453.9 223.1,454.5 223.3,455.3 223.5,455.0 223.6,454.3 223.8,455.6 224.0,455.6 224.1,454.5 224.3,454.6 224.5,455.3 224.7,455.3 224.8,456.5 225.0,454.3 225.2,455.3 225.3,456.2 225.5,456.0 225.7,455.9 225.8,454.1 226.0,454.8 226.2,456.2 226.3,454.0 226.5,454.4 226.7,456.1 226.8,457.2 227.0,454.7 227.2,455.8 227.4,455.5 227.5,455.8 227.7,454.5 227.9,454.4 228.0,454.9 228.2,455.6 228.4,455.3 228.5,455.1 228.7,456.6 228.9,454.6 229.0,455.8 229.2,455.4 229.4,455.5 229.5,454.9 229.7,454.8 229.9,454.1 230.0,455.9 230.2,456.3 230.4,455.6 230.6,456.1 230.7,455.1 230.9,456.3 231.1,455.6 231.2,455.1 231.4,455.0 231.6,455.6 231.7,454.8 231.9,454.9 232.1,457.0 232.2,455.6 232.4,455.7 232.6,456.0 232.7,456.3 232.9,455.8 233.1,455.6 233.3,455.7 233.4,455.0 233.6,455.2 233.8,456.4 233.9,456.5 234.1,455.4 234.3,456.5 234.4,455.9 234.6,455.7 234.8,455.3 234.9,455.7 235.1,455.0 235.3,456.4 235.4,455.6 235.6,456.6 235.8,456.0 236.0,456.0 236.1,456.8 236.3,458.0 236.5,455.5 236.6,455.9 236.8,456.1 237.0,456.7 237.1,456.5 237.3,455.9 237.5,456.3 237.6,455.5 237.8,456.2 238.0,456.9 238.1,455.9 238.3,456.8 238.5,456.2 238.7,457.7 238.8,456.6 239.0,456.0 239.2,456.9 239.3,456.5 239.5,456.0 239.7,456.4 239.8,455.2 240.0,456.6 240.2,456.6 240.3,456.6 240.5,457.9 240.7,457.6 240.8,456.1 241.0,456.7 241.2,455.5 241.4,456.6 241.5,456.7 241.7,455.8 241.9,456.4 242.0,455.4 242.2,457.3 242.4,456.3 242.5,456.1 242.7,456.2 242.9,455.8 243.0,455.9 243.2,456.6 243.4,457.0 243.5,455.9 243.7,456.6 243.9,456.0 244.1,455.7 244.2,456.5 244.4,457.3 244.6,456.8 244.7,456.1 244.9,456.8 245.1,455.8 245.2,456.6 245.4,456.6 245.6,457.1 245.7,456.8 245.9,455.9 246.1,456.9 246.2,456.9 246.4,457.3 246.6,456.2 246.8,457.8 246.9,457.2 247.1,456.1 247.3,455.8 247.4,456.9 247.6,456.1 247.8,458.2 247.9,456.3 248.1,456.6 248.3,457.7 248.4,458.1 248.6,457.2 248.8,456.7 248.9,456.6 249.1,456.8 249.3,456.3 249.5,456.4 249.6,457.9 249.8,457.2 250.0,457.3 250.1,456.2 250.3,457.3 250.5,456.2 250.6,456.9 250.8,455.3 251.0,457.0 251.1,457.0 251.3,457.1 251.5,456.9 251.6,455.3 251.8,457.4 252.0,457.6 252.2,457.2 252.3,456.6 252.5,457.7 252.7,456.5 252.8,456.5 253.0,457.2 253.2,457.2 253.3,457.6 253.5,457.3 253.7,457.7 253.8,456.2 254.0,456.0 254.2,457.3 254.3,457.2 254.5,458.5 254.7,457.5 254.9,456.9 255.0,457.0 255.2,457.1 255.4,456.6 255.5,457.1 255.7,457.5 255.9,456.1 256.0,458.6 256.2,458.0 256.4,457.7 256.5,457.7 256.7,457.8 256.9,457.4 257.0,457.8 257.2,457.3 257.4,456.9 257.6,457.3 257.7,457.2 257.9,458.0 258.1,458.1 258.2,457.5 258.4,456.7 258.6,457.1 258.7,456.6 258.9,456.7 259.1,456.6 259.2,457.9 259.4,456.5 259.6,456.9 259.7,455.9 259.9,457.0 260.1,457.2 260.3,457.5 260.4,457.3 260.6,458.6 260.8,457.6 260.9,457.5 261.1,456.8 261.3,457.9 261.4,457.4 261.6,456.2 261.8,457.9 261.9,456.9 262.1,457.9 262.3,457.6 262.4,457.2 262.6,456.9 262.8,457.9 263.0,458.3 263.1,456.5 263.3,457.4 263.5,457.0 263.6,456.9 263.8,457.1 264.0,457.8 264.1,457.7 264.3,458.7 264.5,457.5 264.6,457.9 264.8,457.6 265.0,456.3 265.1,457.2 265.3,457.6 265.5,458.6 265.7,457.2 265.8,456.6 266.0,458.3 266.2,457.4 266.3,458.1 266.5,457.8 266.7,458.0 266.8,458.8 267.0,458.1 267.2,458.9 267.3,456.8 267.5,457.0 267.7,457.7 267.8,457.6 268.0,457.7 268.2,457.7 268.4,457.7 268.5,458.0 268.7,457.9 268.9,458.7 269.0,458.5 269.2,458.3 269.4,457.7 269.5,458.1 269.7,456.5 269.9,458.0 270.0,458.1 270.2,457.6 270.4,457.2 270.5,456.6 270.7,457.2 270.9,458.3 271.1,458.0 271.2,457.2 271.4,457.8 271.6,457.4 271.7,458.0 271.9,456.9 272.1,457.0 272.2,457.2 272.4,457.9 272.6,459.1 272.7,458.9 272.9,457.8 273.1,457.6 273.2,460.0 273.4,458.3 273.6,457.2 273.8,457.4 273.9,458.4 274.1,457.6 274.3,458.0 274.4,458.2 274.6,457.3 274.8,457.3 274.9,458.4 275.1,458.7 275.3,459.0 275.4,459.1 275.6,457.2 275.8,456.8 275.9,458.0 276.1,457.4 276.3,458.6 276.5,458.2 276.6,457.5 276.8,458.0 277.0,458.2 277.1,459.3 277.3,459.2 277.5,458.5 277.6,458.6 277.8,458.3 278.0,458.7 278.1,458.4 278.3,458.2 278.5,457.9 278.6,458.2 278.8,458.6 279.0,458.5 279.2,457.7 279.3,458.4 279.5,458.9 279.7,459.0 279.8,458.1 280.0,457.9 280.2,457.5 280.3,458.5 280.5,457.4 280.7,458.6 280.8,458.5 281.0,458.7 281.2,458.0 281.3,457.6 281.5,458.4 281.7,458.7 281.8,459.4 282.0,458.3 282.2,458.6 282.4,458.5 282.5,458.8 282.7,459.0 282.9,458.7 283.0,458.1 283.2,457.8 283.4,458.4 283.5,458.2 283.7,458.6 283.9,458.5 284.0,459.4 284.2,457.9 284.4,458.1 284.5,457.5 284.7,458.9 284.9,458.4 285.1,459.1 285.2,458.3 285.4,458.6 285.6,458.1 285.7,458.6 285.9,458.1 286.1,458.9 286.2,458.1 286.4,458.8 286.6,458.9 286.7,458.5 286.9,458.3 287.1,459.5 287.2,459.6 287.4,458.5 287.6,458.6 287.8,460.0 287.9,459.8 288.1,459.1 288.3,458.4 288.4,458.5 288.6,457.9 288.8,457.8 288.9,457.0 289.1,459.6 289.3,458.7 289.4,457.9 289.6,459.5 289.8,459.6 289.9,458.5 290.1,457.9 290.3,457.8 290.5,459.9 290.6,459.5 290.8,458.8 291.0,459.1 291.1,458.5 291.3,458.6 291.5,457.5 291.6,458.8 291.8,458.6 292.0,458.7 292.1,458.0 292.3,459.5 292.5,458.5 292.6,459.3 292.8,459.7 293.0,458.0 293.2,458.4 293.3,457.8 293.5,458.6 293.7,458.4 293.8,458.7 294.0,458.4 294.2,459.1 294.3,457.7 294.5,459.4 294.7,457.7 294.8,459.0 295.0,458.3 295.2,458.8 295.3,458.6 295.5,457.9 295.7,458.8 295.9,459.5 296.0,458.7 296.2,458.5 296.4,460.6 296.5,458.2 296.7,458.2 296.9,460.1 297.0,459.0 297.2,458.4 297.4,459.7 297.5,459.2 297.7,459.2 297.9,458.6 298.0,458.2 298.2,459.0 298.4,458.9 298.6,458.3 298.7,458.6 298.9,459.1 299.1,458.1 299.2,460.0 299.4,458.9 299.6,459.3 299.7,459.4 299.9,458.9 300.1,459.0 300.2,457.4 300.4,458.6 300.6,458.8 300.7,457.9 300.9,458.4 301.1,460.4 301.3,459.0 301.4,458.6 301.6,459.5 301.8,458.9 301.9,459.4 302.1,458.9 302.3,460.3 302.4,460.5 302.6,459.5 302.8,459.0 302.9,458.2 303.1,459.4 303.3,459.7 303.4,458.5 303.6,459.2 303.8,457.9 304.0,459.3 304.1,460.5 304.3,459.8 304.5,459.9 304.6,460.2 304.8,459.8 305.0,459.7 305.1,459.4 305.3,459.6 305.5,459.0 305.6,459.0 305.8,459.1 306.0,459.1 306.1,460.6 306.3,460.4 306.5,459.9 306.7,459.1 306.8,460.3 307.0,459.6 307.2,459.2 307.3,458.0 307.5,459.2 307.7,459.7 307.8,458.6 308.0,459.2 308.2,459.6 308.3,458.6 308.5,460.0 308.7,459.3 308.8,459.3 309.0,458.8 309.2,460.2 309.4,460.3 309.5,459.7 309.7,459.6 309.9,459.4 310.0,459.7 310.2,457.7 310.4,459.0 310.5,459.3 310.7,460.2 310.9,458.7 311.0,460.6 311.2,459.6 311.4,458.9 311.5,459.9 311.7,458.6 311.9,458.2 312.1,458.4 312.2,459.2 312.4,458.9 312.6,459.9 312.7,459.3 312.9,459.2 313.1,459.5 313.2,459.5 313.4,459.7 313.6,461.0 313.7,459.3 313.9,459.4 314.1,458.2 314.2,459.1 314.4,459.6 314.6,459.0 314.8,459.2 314.9,459.6 315.1,459.9 315.3,460.7 315.4,459.6 315.6,458.5 315.8,461.0 315.9,460.3 316.1,459.2 316.3,459.6 316.4,459.4 316.6,461.0 316.8,460.1 316.9,459.4 317.1,459.3 317.3,459.5 317.5,460.3 317.6,459.4 317.8,460.6 318.0,460.4 318.1,460.6 318.3,458.8 318.5,460.1 318.6,459.7 318.8,461.3 319.0,459.0 319.1,459.5 319.3,461.0 319.5,460.9 319.6,458.7 319.8,460.5 320.0,458.5 320.2,460.2 320.3,461.6 320.5,459.1 320.7,459.5 320.8,459.4 321.0,460.2 321.2,460.0 321.3,459.2 321.5,460.5 321.7,461.3 321.8,459.3 322.0,460.3 322.2,459.0 322.3,460.3 322.5,460.2 322.7,460.1 322.9,461.6 323.0,459.1 323.2,460.4 323.4,460.1 323.5,458.9" fill="none" stroke="#1f77b4" stroke-width="1.8" stroke-linejoin="round" stroke-linecap="square" />
<polyline points="70.6,348.4 70.8,356.4 70.9,364.5 71.1,370.5 71.3,376.6 71.4,382.4 71.6,385.7 71.8,388.2 71.9,391.6 72.1,391.5 72.3,394.7 72.5,394.1 72.6,395.0 72.8,396.0 73.0,397.0 73.1,396.4 73.3,396.2 73.5,398.4 73.6,399.7 73.8,399.4 74.0,399.6 74.1,399.4 74.3,399.7 74.5,399.3 74.6,400.7 74.8,400.7 75.0,401.0 75.2,402.0 75.3,401.9 75.5,400.1 75.7,402.5 75.8,403.4 76.0,404.6 76.2,402.7 76.3,404.0 76.5,404.5 76.7,402.7 76.8,403.8 77.0,406.3 77.2,405.7 77.3,405.1 77.5,405.4 77.7,406.9 77.9,405.1 78.0,405.2 78.2,407.5 78.4,408.1 78.5,408.1 78.7,406.8 78.9,406.7 79.0,407.5 79.2,408.2 79.4,408.1 79.5,407.8 79.7,409.2 79.9,409.7 80.0,408.8 80.2,408.1 80.4,409.0 80.6,409.1 80.7,409.9 80.9,409.0 81.1,411.0 81.2,410.1 81.4,410.6 81.6,410.5 81.7,411.2 81.9,410.2 82.1,411.0 82.2,411.5 82.4,410.9 82.6,411.5 82.7,412.0 82.9,412.3 83.1,411.5 83.3,412.9 83.4,412.6 83.6,412.8 83.8,412.6 83.9,413.1 84.1,411.6 84.3,414.5 84.4,413.1 84.6,413.7 84.8,413.1 84.9,415.2 85.1,413.4 85.3,415.4 85.4,414.1 85.6,414.4 85.8,414.9 86.0,415.6 86.1,415.8 86.3,415.3 86.5,416.1 86.6,417.1 86.8,417.2 87.0,415.5 87.1,415.6 87.3,416.0 87.5,416.5 87.6,416.4 87.8,416.5 88.0,416.9 88.1,417.8 88.3,417.9 88.5,418.3 88.7,417.6 88.8,418.6 89.0,418.1 89.2,417.3 89.3,418.6 89.5,417.8 89.7,417.6 89.8,420.1 90.0,420.0 90.2,418.9 90.3,419.8 90.5,419.1 90.7,419.2 90.8,420.2 91.0,419.4 91.2,418.9 91.4,419.7 91.5,421.1 91.7,420.8 91.9,421.2 92.0,419.9 92.2,421.3 92.4,421.8 92.5,421.5 92.7,421.3 92.9,422.0 93.0,421.8 93.2,422.1 93.4,421.7 93.5,421.6 93.7,422.3 93.9,422.9 94.1,422.5 94.2,423.5 94.4,422.3 94.6,422.9 94.7,423.1 94.9,425.1 95.1,421.9 95.2,422.7 95.4,422.9 95.6,423.9 95.7,423.6 95.9,422.2 96.1,424.9 96.2,424.0 96.4,424.2 96.6,424.7 96.8,424.7 96.9,425.7 97.1,424.7 97.3,426.2 97.4,424.2 97.6,425.0 97.8,426.3 97.9,427.3 98.1,425.9 98.3,425.8 98.4,427.0 98.6,425.2 98.8,426.4 98.9,427.0 99.1,427.8 99.3,427.0 99.5,427.2 99.6,426.8 99.8,426.6 100.0,427.5 100.1,427.3 100.3,426.8 100.5,427.5 100.6,428.2 100.8,427.7 101.0,428.7 101.1,428.1 101.3,428.5 101.5,429.5 101.6,428.4 101.8,428.9 102.0,428.6 102.2,430.2 102.3,428.6 102.5,428.7 102.7,429.9 102.8,429.9 103.0,429.9 103.2,430.1 103.3,429.6 103.5,430.8 103.7,431.3 103.8,430.8 104.0,429.4 104.2,431.1 104.3,431.7 104.5,431.8 104.7,431.2 104.9,430.6 105.0,432.1 105.2,431.6 105.4,431.7 105.5,431.6 105.7,432.0 105.9,431.5 106.0,431.9 106.2,432.9 106.4,430.9 106.5,433.7 106.7,433.8 106.9,432.3 107.0,433.0 107.2,433.5 107.4,433.3 107.6,433.1 107.7,434.0 107.9,434.3 108.1,434.7 108.2,434.7 108.4,434.7 108.6,433.5 108.7,434.2 108.9,434.1 109.1,435.0 109.2,433.9 109.4,435.9 109.6,434.5 109.7,434.5 109.9,435.5 110.1,435.9 110.3,434.9 110.4,435.9 110.6,436.1 110.8,435.6 110.9,436.5 111.1,435.9 111.3,434.5 111.4,436.3 111.6,435.5 111.8,436.9 111.9,436.2 112.1,436.6 112.3,436.6 112.4,436.1 112.6,435.2 112.8,436.9 113.0,436.0 113.1,436.8 113.3,436.6 113.5,437.5 113.6,437.8 113.8,437.5 114.0,438.0 114.1,437.6 114.3,438.4 114.5,437.8 114.6,437.8 114.8,436.7 115.0,436.9 115.1,437.9 115.3,438.7 115.5,438.0 115.7,437.9 115.8,438.7 116.0,439.3 116.2,440.0 116.3,438.9 116.5,437.6 116.7,439.2 116.8,438.8 117.0,438.9 117.2,438.9 117.3,438.8 117.5,440.8 117.7,439.6 117.8,439.3 118.0,439.7 118.2,438.9 118.4,440.1 118.5,439.3 118.7,438.7 118.9,440.2 119.0,440.1 119.2,440.4 119.4,439.8 119.5,441.9 119.7,441.5 119.9,440.8 120.0,440.0 120.2,440.3 120.4,441.4 120.5,439.7 120.7,440.9 120.9,441.5 121.1,440.7 121.2,440.3 121.4,441.3 121.6,442.4 121.7,441.8 121.9,441.4 122.1,440.9 122.2,442.4 122.4,441.6 122.6,442.7 122.7,441.9 122.9,442.9 123.1,442.4 123.2,443.2 123.4,442.9 123.6,443.4 123.7,443.8 123.9,441.6 124.1,441.7 124.3,442.2 124.4,442.9 124.6,441.7 124.8,443.0 124.9,442.5 125.1,442.1 125.3,442.8 125.4,442.0 125.6,443.2 125.8,443.3 125.9,443.1 126.1,444.1 126.3,444.1 126.4,442.9 126.6,444.7 126.8,442.8 127.0,443.4 127.1,442.9 127.3,443.2 127.5,443.4 127.6,442.7 127.8,444.0 128.0,444.1 128.1,443.3 128.3,444.6 128.5,443.4 128.6,443.8 128.8,444.7 129.0,445.3 129.1,445.9 129.3,443.3 129.5,445.7 129.7,445.6 129.8,444.2 130.0,444.5 130.2,444.8 130.3,444.9 130.5,445.3 130.7,445.8 130.8,445.7 131.0,444.8 131.2,444.6 131.3,444.5 131.5,445.5 131.7,447.1 131.8,445.2 132.0,445.7 132.2,447.5 132.4,444.7 132.5,445.6 132.7,445.8 132.9,445.7 133.0,445.8 133.2,445.8 133.4,445.9 133.5,446.0 133.7,445.7 133.9,445.9 134.0,444.5 134.2,446.2 134.4,446.7 134.5,446.8 134.7,446.2 134.9,446.4 135.1,446.4 135.2,446.7 135.4,446.8 135.6,446.2 135.7,445.8 135.9,446.5 136.1,446.9 136.2,447.7 136.4,447.8 136.6,447.0 136.7,447.2 136.9,447.2 137.1,447.9 137.2,447.3 137.4,448.6 137.6,448.2 137.8,447.9 137.9,447.0 138.1,447.9 138.3,448.2 138.4,447.4 138.6,447.7 138.8,447.1 138.9,447.5 139.1,447.6 139.3,448.0 139.4,447.4 139.6,448.4 139.8,449.0 139.9,447.3 140.1,448.3 140.3,448.0 140.5,447.6 140.6,447.4 140.8,450.2 141.0,448.9 141.1,447.3 141.3,449.4 141.5,447.9 141.6,448.6 141.8,449.0 142.0,448.5 142.1,449.6 142.3,448.2 142.5,447.7 142.6,449.5 142.8,449.0 143.0,447.7 143.2,448.4 143.3,448.9 143.5,447.7 143.7,449.9 143.8,448.9 144.0,448.7 144.2,449.0 144.3,448.3 144.5,450.1 144.7,448.9 144.8,449.5 145.0,448.1 145.2,448.3 145.3,449.6 145.5,449.9 145.7,449.2 145.9,449.8 146.0,449.6 146.2,448.9 146.4,449.6 146.5,448.0 146.7,449.3 146.9,449.7 147.0,450.2 147.2,449.8 147.4,448.7 147.5,449.1 147.7,448.5 147.9,448.6 148.0,449.2 148.2,450.1 148.4,449.7 148.6,449.6 148.7,450.8 148.9,449.5 149.1,450.4 149.2,449.8 149.4,450.1 149.6,449.4 149.7,448.0 149.9,450.7 150.1,449.9 150.2,448.5 150.4,450.6 150.6,450.1 150.7,450.1 150.9,449.8 151.1,451.2 151.3,449.9 151.4,449.7 151.6,448.3 151.8,450.2 151.9,450.6 152.1,450.1 152.3,452.1 152.4,450.0 152.6,449.2 152.8,450.3 152.9,450.4 153.1,450.6 153.3,450.3 153.4,451.3 153.6,449.4 153.8,450.8 154.0,450.8 154.1,449.4 154.3,450.6 154.5,450.9 154.6,449.5 154.8,450.5 155.0,450.0 155.1,451.1 155.3,452.0 155.5,450.7 155.6,449.8 155.8,451.2 156.0,450.6 156.1,450.4 156.3,450.8 156.5,451.0 156.7,450.5 156.8,450.9 157.0,451.5 157.2,450.4 157.3,450.6 157.5,450.9 157.7,450.7 157.8,453.1 158.0,451.1 158.2,451.3 158.3,452.8 158.5,449.9 158.7,451.2 158.8,451.8 159.0,451.8 159.2,451.4 159.4,451.6 159.5,452.7 159.7,451.9 159.9,451.4 160.0,451.3 160.2,451.1 160.4,452.5 160.5,452.2 160.7,451.5 160.9,452.2 161.0,451.7 161.2,452.4 161.4,451.5 161.5,451.9 161.7,451.5 161.9,451.9 162.1,452.5 162.2,452.9 162.4,452.0 162.6,452.5 162.7,453.1 162.9,452.5 163.1,451.5 163.2,451.3 163.4,451.6 163.6,451.2 163.7,452.5 163.9,452.3 164.1,452.9 164.2,452.8 164.4,451.2 164.6,452.0 164.8,451.9 164.9,450.5 165.1,451.0 165.3,453.0 165.4,451.7 165.6,453.0 165.8,451.8 165.9,453.8 166.1,453.2 166.3,453.2 166.4,451.2 166.6,453.9 166.8,451.8 166.9,451.9 167.1,452.6 167.3,452.1 167.5,450.9 167.6,452.6 167.8,453.0 168.0,451.8 168.1,452.3 168.3,453.7 168.5,452.7 168.6,452.7 168.8,453.7 169.0,453.6 169.1,453.4 169.3,453.8 169.5,452.6 169.6,452.8 169.8,454.6 170.0,453.4 170.2,453.0 170.3,454.0 170.5,453.3 170.7,452.9 170.8,454.3 171.0,453.4 171.2,454.8 171.3,452.7 171.5,453.7 171.7,454.2 171.8,454.5 172.0,454.4 172.2,452.4 172.3,453.9 172.5,453.7 172.7,453.6 172.9,454.4 173.0,452.8 173.2,455.2 173.4,452.8 173.5,453.9 173.7,453.4 173.9,453.2 174.0,452.9 174.2,454.3 174.4,453.0 174.5,453.5 174.7,453.6 174.9,453.7 175.0,452.7 175.2,453.2 175.4,452.7 175.6,452.9 175.7,455.0 175.9,453.7 176.1,452.9 176.2,454.3 176.4,454.9 176.6,455.3 176.7,452.3 176.9,454.4 177.1,453.6 177.2,454.5 177.4,453.4 177.6,452.6 177.7,454.8 177.9,453.8 178.1,454.4 178.2,455.2 178.4,454.5 178.6,453.8 178.8,453.0 178.9,453.0 179.1,453.9 179.3,455.1 179.4,453.4 179.6,453.9 179.8,454.0 179.9,454.8 180.1,454.1 180.3,452.6 180.4,452.9 180.6,453.1 180.8,453.6 180.9,454.3 181.1,454.1 181.3,454.0 181.5,453.8 181.6,454.4 181.8,454.7 182.0,453.3 182.1,454.4 182.3,453.6 182.5,454.3 182.6,453.7 182.8,453.8 183.0,453.7 183.1,453.7 183.3,454.9 183.5,455.2 183.6,454.3 183.8,453.1 184.0,454.9 184.2,455.0 184.3,452.7 184.5,455.5 184.7,454.8 184.8,454.7 185.0,454.9 185.2,454.9 185.3,453.6 185.5,454.3 185.7,454.3 185.8,455.6 186.0,453.9 186.2,454.4 186.3,454.4 186.5,453.9 186.7,454.3 186.9,454.6 187.0,454.3 187.2,455.1 187.4,455.2 187.5,455.6 187.7,453.9 187.9,455.1 188.0,454.5 188.2,453.9 188.4,453.4 188.5,454.9 188.7,454.6 188.9,454.6 189.0,455.7 189.2,455.1 189.4,452.8 189.6,454.8 189.7,453.5 189.9,454.3 190.1,453.6 190.2,453.9 190.4,454.7 190.6,455.7 190.7,453.8 190.9,454.4 191.1,454.6 191.2,454.3 191.4,455.5 191.6,454.9 191.7,455.0 191.9,456.0 192.1,455.8 192.3,455.1 192.4,456.6 192.6,454.5 192.8,454.5 192.9,455.1 193.1,454.9 193.3,456.4 193.4,455.0 193.6,454.6 193.8,454.8 193.9,454.5 194.1,455.2 194.3,453.8 194.4,454.9 194.6,454.6 194.8,454.4 195.0,455.8 195.1,456.0 195.3,454.7 195.5,456.2 195.6,455.7 195.8,454.6 196.0,456.1 196.1,456.0 196.3,456.2 196.5,456.1 196.6,454.0 196.8,455.0 197.0,454.7 197.1,456.8 197.3,457.1 197.5,456.2 197.7,454.7 197.8,454.6 198.0,456.9 198.2,456.7 198.3,455.0 198.5,455.3 198.7,455.2 198.8,455.1 199.0,456.3 199.2,455.5 199.3,455.8 199.5,454.7 199.7,455.8 199.8,457.0 200.0,454.7 200.2,454.3 200.4,455.0 200.5,455.9 200.7,456.4 200.9,455.0 201.0,456.1 201.2,455.3 201.4,455.2 201.5,455.8 201.7,457.2 201.9,455.4 202.0,456.5 202.2,456.9 202.4,455.8 202.5,455.7 202.7,455.9 202.9,455.4 203.1,457.2 203.2,455.5 203.4,454.7 203.6,456.0 203.7,456.3 203.9,456.0 204.1,455.1 204.2,456.1 204.4,456.5 204.6,457.2 204.7,455.0 204.9,455.0 205.1,456.0 205.2,454.5 205.4,456.3 205.6,455.5 205.8,457.0 205.9,456.8 206.1,456.1 206.3,455.8 206.4,455.7 206.6,456.8 206.8,456.5 206.9,456.2 207.1,456.4 207.3,456.4 207.4,455.6 207.6,455.4 207.8,457.5 207.9,455.3 208.1,456.1 208.3,456.0 208.5,456.0 208.6,455.6 208.8,455.8 209.0,457.4 209.1,455.7 209.3,457.1 209.5,456.1 209.6,456.2 209.8,457.5 210.0,456.4 210.1,456.6 210.3,456.9 210.5,455.0 210.6,456.3 210.8,456.7 211.0,455.2 211.2,456.5 211.3,456.6 211.5,457.9 211.7,456.1 211.8,455.8 212.0,455.2 212.2,457.2 212.3,455.8 212.5,455.6 212.7,456.1 212.8,456.6 213.0,457.8 213.2,456.5 213.3,457.0 213.5,457.9 213.7,456.2 213.9,456.7 214.0,456.8 214.2,455.3 214.4,457.1 214.5,458.2 214.7,458.3 214.9,456.4 215.0,456.9 215.2,457.3 215.4,458.3 215.5,457.4 215.7,457.6 215.9,456.9 216.0,457.4 216.2,457.5 216.4,456.9 216.6,457.4 216.7,456.7 216.9,459.3 217.1,457.8 217.2,456.1 217.4,456.8 217.6,457.7 217.7,457.1 217.9,457.4 218.1,457.3 218.2,456.0 218.4,457.3 218.6,456.9 218.7,457.7 218.9,457.6 219.1,458.2 219.3,457.6 219.4,457.4 219.6,457.3 219.8,457.1 219.9,457.1 220.1,456.7 220.3,457.3 220.4,456.2 220.6,456.8 220.8,456.2 220.9,457.2 221.1,456.4 221.3,457.2 221.4,458.4 221.6,457.3 221.8,457.4 222.0,458.3 222.1,458.0 222.3,457.7 222.5,455.7 222.6,457.1 222.8,456.1 223.0,456.7 223.1,456.6 223.3,456.8 223.5,458.4 223.6,456.5 223.8,458.1 224.0,457.1 224.1,457.5 224.3,456.3 224.5,456.6 224.7,456.2 224.8,457.1 225.0,457.5 225.2,457.0 225.3,455.8 225.5,457.2 225.7,457.5 225.8,458.4 226.0,458.1 226.2,457.6 226.3,457.1 226.5,457.2 226.7,457.7 226.8,457.5 227.0,456.6 227.2,456.4 227.4,456.8 227.5,456.6 227.7,456.8 227.9,456.4 228.0,458.6 228.2,458.1 228.4,457.6 228.5,457.5 228.7,456.8 228.9,459.1 229.0,457.7 229.2,457.6 229.4,458.3 229.5,457.9 229.7,457.1 229.9,457.5 230.0,458.0 230.2,457.7 230.4,458.0 230.6,457.2 230.7,458.0 230.9,457.2 231.1,458.3 231.2,458.0 231.4,458.8 231.6,458.1 231.7,457.4 231.9,458.7 232.1,458.3 232.2,458.0 232.4,458.3 232.6,457.5 232.7,458.9 232.9,457.5 233.1,457.2 233.3,456.9 233.4,458.2 233.6,458.7 233.8,459.3 233.9,457.7 234.1,457.6 234.3,458.0 234.4,457.9 234.6,457.7 234.8,458.5 234.9,459.3 235.1,459.2 235.3,458.8 235.4,458.9 235.6,459.4 235.8,458.6 236.0,459.0 236.1,457.9 236.3,458.4 236.5,457.8 236.6,459.3 236.8,459.1 237.0,459.5 237.1,458.2 237.3,456.2 237.5,458.3 237.6,458.7 237.8,458.3 238.0,458.5 238.1,457.8 238.3,458.5 238.5,459.1 238.7,459.8 238.8,458.3 239.0,457.8 239.2,458.4 239.3,459.2 239.5,458.9 239.7,458.8 239.8,458.2 240.0,458.6 240.2,457.8 240.3,458.7 240.5,459.1 240.7,457.3 240.8,459.3 241.0,459.2 241.2,457.2 241.4,458.4 241.5,457.4 241.7,460.4 241.9,457.8 242.0,458.7 242.2,458.6 242.4,458.3 242.5,460.6 242.7,459.3 242.9,458.4 243.0,456.4 243.2,459.3 243.4,457.1 243.5,458.3 243.7,458.0 243.9,459.4 244.1,458.3 244.2,459.4 244.4,459.6 244.6,457.9 244.7,459.3 244.9,459.2 245.1,458.3 245.2,459.4 245.4,459.7 245.6,458.7 245.7,458.7 245.9,457.8 246.1,459.7 246.2,458.4 246.4,458.4 246.6,459.2 246.8,459.0 246.9,458.9 247.1,459.6 247.3,459.9 247.4,458.4 247.6,459.7 247.8,459.6 247.9,458.4 248.1,459.3 248.3,459.3 248.4,460.0 248.6,459.9 248.8,460.0 248.9,460.0 249.1,458.1 249.3,459.7 249.5,460.7 249.6,459.8 249.8,458.6 250.0,459.9 250.1,459.1 250.3,459.8 250.5,460.3 250.6,459.5 250.8,459.8 251.0,459.0 251.1,458.6 251.3,459.2 251.5,457.3 251.6,459.9 251.8,458.2 252.0,458.9 252.2,458.2 252.3,458.8 252.5,460.8 252.7,459.4 252.8,458.5 253.0,459.2 253.2,460.2 253.3,459.6 253.5,459.0 253.7,458.4 253.8,459.7 254.0,459.2 254.2,460.0 254.3,460.2 254.5,459.7 254.7,458.4 254.9,458.8 255.0,459.5 255.2,459.4 255.4,459.0 255.5,459.5 255.7,459.7 255.9,459.6 256.0,458.9 256.2,459.7 256.4,458.9 256.5,460.7 256.7,460.0 256.9,459.7 257.0,459.0 257.2,460.1 257.4,459.8 257.6,459.3 257.7,459.6 257.9,460.0 258.1,459.7 258.2,460.2 258.4,458.9 258.6,459.2 258.7,458.9 258.9,457.9 259.1,458.7 259.2,459.2 259.4,459.6 259.6,457.9 259.7,459.4 259.9,459.7 260.1,458.6 260.3,459.2 260.4,459.7 260.6,459.2 260.8,458.2 260.9,459.4 261.1,459.3 261.3,460.2 261.4,459.9 261.6,458.9 261.8,459.6 261.9,459.5 262.1,458.8 262.3,459.8 262.4,458.5 262.6,460.0 262.8,460.1 263.0,460.2 263.1,460.7 263.3,459.2 263.5,459.6 263.6,458.7 263.8,460.2 264.0,459.1 264.1,458.7 264.3,459.8 264.5,459.8 264.6,461.4 264.8,458.3 265.0,459.8 265.1,459.2 265.3,460.1 265.5,459.5 265.7,460.6 265.8,459.2 266.0,459.7 266.2,460.0 266.3,459.5 266.5,461.0 266.7,459.7 266.8,460.1 267.0,458.8 267.2,459.3 267.3,460.0 267.5,460.0 267.7,457.8 267.8,460.6 268.0,458.5 268.2,459.2 268.4,459.3 268.5,461.2 268.7,459.3 268.9,460.3 269.0,460.6 269.2,459.5 269.4,460.4 269.5,459.5 269.7,460.6 269.9,459.6 270.0,459.7 270.2,460.6 270.4,460.7 270.5,460.5 270.7,460.4 270.9,460.4 271.1,458.7 271.2,459.8 271.4,460.3 271.6,460.3 271.7,460.6 271.9,459.9 272.1,460.1 272.2,460.6 272.4,460.6 272.6,460.4 272.7,460.9 272.9,460.1 273.1,460.8 273.2,459.8 273.4,460.4 273.6,459.8 273.8,460.6 273.9,461.5 274.1,461.1 274.3,460.4 274.4,459.9 274.6,459.9 274.8,459.8 274.9,459.7 275.1,460.0 275.3,459.9 275.4,460.4 275.6,459.8 275.8,460.3 275.9,460.3 276.1,460.1 276.3,458.7 276.5,461.3 276.6,460.6 276.8,460.5 277.0,460.0 277.1,460.3 277.3,459.2 277.5,461.4 277.6,459.1 277.8,461.2 278.0,460.8 278.1,460.0 278.3,460.3 278.5,460.4 278.6,460.3 278.8,460.1 279.0,459.7 279.2,460.1 279.3,461.3 279.5,460.9 279.7,459.4 279.8,459.1 280.0,459.8 280.2,459.7 280.3,460.2 280.5,459.0 280.7,460.8 280.8,460.7 281.0,461.0 281.2,459.4 281.3,460.8 281.5,460.1 281.7,461.4 281.8,461.5 282.0,459.8 282.2,460.0 282.4,459.9 282.5,460.3 282.7,460.7 282.9,460.8 283.0,461.3 283.2,460.8 283.4,459.6 283.5,460.6 283.7,461.4 283.9,460.7 284.0,461.2 284.2,461.3 284.4,460.6 284.5,461.1 284.7,461.4 284.9,459.5 285.1,459.4 285.2,460.5 285.4,459.6 285.6,460.9 285.7,460.6 285.9,459.7 286.1,460.4 286.2,460.1 286.4,462.6 286.6,460.4 286.7,460.9 286.9,460.7 287.1,461.7 287.2,461.2 287.4,460.3 287.6,460.3 287.8,460.1 287.9,460.1 288.1,459.9 288.3,460.4 288.4,460.9 288.6,461.1 288.8,461.0 288.9,461.4 289.1,461.4 289.3,460.8 289.4,462.3 289.6,461.6 289.8,461.3 289.9,460.4 290.1,460.0 290.3,460.5 290.5,460.8 290.6,461.1 290.8,460.0 291.0,460.3 291.1,461.3 291.3,460.8 291.5,460.5 291.6,460.2 291.8,461.1 292.0,459.8 292.1,460.0 292.3,461.1 292.5,461.0 292.6,461.5 292.8,461.5 293.0,460.6 293.2,459.9 293.3,459.8 293.5,460.7 293.7,461.1 293.8,461.3 294.0,460.6 294.2,461.2 294.3,460.4 294.5,461.0 294.7,460.7 294.8,461.3 295.0,459.5 295.2,460.1 295.3,460.8 295.5,461.5 295.7,460.5 295.9,460.4 296.0,461.7 296.2,460.9 296.4,459.5 296.5,460.8 296.7,461.2 296.9,460.5 297.0,459.7 297.2,461.3 297.4,461.3 297.5,461.1 297.7,460.9 297.9,460.1 298.0,460.7 298.2,462.5 298.4,460.7 298.6,460.7 298.7,460.5 298.9,460.8 299.1,461.1 299.2,460.7 299.4,461.5 299.6,462.2 299.7,461.3 299.9,461.8 300.1,459.9 300.2,461.1 300.4,460.0 300.6,462.0 300.7,461.9 300.9,460.8 301.1,462.3 301.3,461.6 301.4,462.5 301.6,460.8 301.8,462.3 301.9,461.2 302.1,462.4 302.3,460.8 302.4,460.4 302.6,461.1 302.8,461.9 302.9,460.9 303.1,460.5 303.3,460.7 303.4,460.3 303.6,459.9 303.8,461.1 304.0,461.4 304.1,461.7 304.3,461.2 304.5,461.4 304.6,461.6 304.8,461.0 305.0,459.9 305.1,461.8 305.3,461.6 305.5,461.5 305.6,462.0 305.8,460.6 306.0,461.4 306.1,460.9 306.3,462.4 306.5,460.9 306.7,461.4 306.8,462.4 307.0,460.7 307.2,460.7 307.3,461.2 307.5,461.0 307.7,462.0 307.8,460.7 308.0,461.5 308.2,461.0 308.3,461.0 308.5,461.1 308.7,461.9 308.8,461.2 309.0,461.3 309.2,460.6 309.4,461.9 309.5,460.8 309.7,461.1 309.9,461.4 310.0,460.1 310.2,460.9 310.4,461.8 310.5,461.2 310.7,462.0 310.9,462.3 311.0,461.8 311.2,461.8 311.4,460.3 311.5,460.9 311.7,463.2 311.9,461.6 312.1,462.0 312.2,461.6 312.4,461.4 312.6,461.5 312.7,461.2 312.9,462.1 313.1,460.6 313.2,461.7 313.4,460.7 313.6,461.6 313.7,461.2 313.9,462.3 314.1,460.8 314.2,461.4 314.4,461.9 314.6,461.3 314.8,461.3 314.9,462.7 315.1,462.1 315.3,462.3 315.4,461.1 315.6,461.5 315.8,462.1 315.9,462.2 316.1,461.7 316.3,463.3 316.4,461.8 316.6,460.6 316.8,462.7 316.9,462.5 317.1,462.5 317.3,461.4 317.5,462.2 317.6,460.4 317.8,461.9 318.0,462.1 318.1,462.5 318.3,461.3 318.5,461.0 318.6,461.6 318.8,460.8 319.0,460.9 319.1,461.5 319.3,461.7 319.5,462.2 319.6,461.6 319.8,462.0 320.0,460.7 320.2,461.3 320.3,461.9 320.5,462.1 320.7,461.5 320.8,461.1 321.0,461.6 321.2,461.1 321.3,462.1 321.5,461.7 321.7,461.4 321.8,461.7 322.0,461.6 322.2,461.1 322.3,461.8 322.5,461.2 322.7,462.2 322.9,461.5 323.0,462.2 323.2,462.1 323.4,461.4 323.5,461.0" fill="none" stroke="#ff7f0e" stroke-width="2.1" stroke-linejoin="round" stroke-linecap="square" />
</g>
<rect x="57.8" y="343.5" width="278.2" height="140.3" fill="none" stroke="#000" stroke-width="1.05"/>
<line x1="52.8" y1="483.80" x2="57.8" y2="483.80" stroke="#000" stroke-width="1.05"/>
<text x="47.50" y="488.10" font-size="12.2" text-anchor="end" fill="#262626" textLength="18.61" lengthAdjust="spacingAndGlyphs" >0.0</text>
<line x1="52.8" y1="455.74" x2="57.8" y2="455.74" stroke="#000" stroke-width="1.05"/>
<text x="47.50" y="460.04" font-size="12.2" text-anchor="end" fill="#262626" textLength="18.61" lengthAdjust="spacingAndGlyphs" >0.2</text>
<line x1="52.8" y1="427.68" x2="57.8" y2="427.68" stroke="#000" stroke-width="1.05"/>
<text x="47.50" y="431.98" font-size="12.2" text-anchor="end" fill="#262626" textLength="18.61" lengthAdjust="spacingAndGlyphs" >0.4</text>
<line x1="52.8" y1="399.62" x2="57.8" y2="399.62" stroke="#000" stroke-width="1.05"/>
<text x="47.50" y="403.92" font-size="12.2" text-anchor="end" fill="#262626" textLength="18.61" lengthAdjust="spacingAndGlyphs" >0.6</text>
<line x1="52.8" y1="371.56" x2="57.8" y2="371.56" stroke="#000" stroke-width="1.05"/>
<text x="47.50" y="375.86" font-size="12.2" text-anchor="end" fill="#262626" textLength="18.61" lengthAdjust="spacingAndGlyphs" >0.8</text>
<line x1="52.8" y1="343.50" x2="57.8" y2="343.50" stroke="#000" stroke-width="1.05"/>
<text x="47.50" y="347.80" font-size="12.2" text-anchor="end" fill="#262626" textLength="18.61" lengthAdjust="spacingAndGlyphs" >1.0</text>
<line x1="70.60" y1="483.8" x2="70.60" y2="488.8" stroke="#000" stroke-width="1.05"/>
<text x="70.60" y="503.00" font-size="12.2" text-anchor="middle" fill="#262626" textLength="7.44" lengthAdjust="spacingAndGlyphs" >0</text>
<line x1="112.78" y1="483.8" x2="112.78" y2="488.8" stroke="#000" stroke-width="1.05"/>
<text x="112.78" y="503.00" font-size="12.2" text-anchor="middle" fill="#262626" textLength="22.33" lengthAdjust="spacingAndGlyphs" >250</text>
<line x1="154.96" y1="483.8" x2="154.96" y2="488.8" stroke="#000" stroke-width="1.05"/>
<text x="154.96" y="503.00" font-size="12.2" text-anchor="middle" fill="#262626" textLength="22.33" lengthAdjust="spacingAndGlyphs" >500</text>
<line x1="197.15" y1="483.8" x2="197.15" y2="488.8" stroke="#000" stroke-width="1.05"/>
<text x="197.15" y="503.00" font-size="12.2" text-anchor="middle" fill="#262626" textLength="22.33" lengthAdjust="spacingAndGlyphs" >750</text>
<line x1="239.33" y1="483.8" x2="239.33" y2="488.8" stroke="#000" stroke-width="1.05"/>
<text x="239.33" y="503.00" font-size="12.2" text-anchor="middle" fill="#262626" textLength="29.78" lengthAdjust="spacingAndGlyphs" >1000</text>
<line x1="281.51" y1="483.8" x2="281.51" y2="488.8" stroke="#000" stroke-width="1.05"/>
<text x="281.51" y="503.00" font-size="12.2" text-anchor="middle" fill="#262626" textLength="29.78" lengthAdjust="spacingAndGlyphs" >1250</text>
<line x1="323.69" y1="483.8" x2="323.69" y2="488.8" stroke="#000" stroke-width="1.05"/>
<text x="323.69" y="503.00" font-size="12.2" text-anchor="middle" fill="#262626" textLength="29.78" lengthAdjust="spacingAndGlyphs" >1500</text>
<text x="196.90" y="520.40" font-size="12.2" text-anchor="middle" fill="#262626" textLength="41.92" lengthAdjust="spacingAndGlyphs" >Epochs</text>
<text transform="translate(21.4,413.6) rotate(-90)" font-size="12.2" text-anchor="middle" fill="#262626" textLength="52.21" lengthAdjust="spacingAndGlyphs">Dice loss</text>
<rect x="199.5" y="349.0" width="130.5" height="37.60000000000002" rx="2" fill="#fff" fill-opacity="0.8" stroke="#d6d6d6" stroke-width="0.9"/>
<line x1="203.1" y1="358.3" x2="228.5" y2="358.3" stroke="#1f77b4" stroke-width="2"/>
<text x="237.10" y="362.80" font-size="12.2" text-anchor="start" fill="#262626" textLength="90.21" lengthAdjust="spacingAndGlyphs" >restored S0033</text>
<line x1="203.1" y1="375.3" x2="228.5" y2="375.3" stroke="#ff7f0e" stroke-width="2"/>
<text x="237.10" y="379.80" font-size="12.2" text-anchor="start" fill="#262626" textLength="62.47" lengthAdjust="spacingAndGlyphs" >raw S0033</text>
<text x="1.5" y="339.6" font-size="11" font-weight="bold" fill="#000">g</text>
<g clip-path="url(#cliph)">
<polyline points="412.9,349.1 413.1,360.3 413.2,371.5 413.4,378.2 413.6,384.7 413.7,391.4 413.9,393.4 414.1,395.1 414.3,398.4 414.4,400.8 414.6,401.4 414.8,401.9 414.9,402.5 415.1,403.6 415.3,403.3 415.4,403.2 415.6,405.0 415.8,404.8 415.9,406.2 416.1,406.2 416.3,406.9 416.4,406.2 416.6,407.3 416.8,406.6 417.0,407.1 417.1,407.7 417.3,409.7 417.5,408.7 417.6,408.5 417.8,408.6 418.0,409.9 418.1,409.4 418.3,409.9 418.5,410.0 418.6,408.9 418.8,410.3 419.0,410.0 419.2,409.5 419.3,410.7 419.5,410.6 419.7,410.6 419.8,410.8 420.0,411.9 420.2,411.2 420.3,410.5 420.5,412.7 420.7,411.2 420.8,411.9 421.0,412.6 421.2,410.9 421.3,412.0 421.5,413.5 421.7,412.8 421.9,412.7 422.0,413.4 422.2,413.0 422.4,413.7 422.5,413.3 422.7,413.0 422.9,414.6 423.0,414.2 423.2,414.9 423.4,414.6 423.5,415.7 423.7,415.5 423.9,415.4 424.0,414.8 424.2,414.8 424.4,416.7 424.6,416.5 424.7,415.7 424.9,417.7 425.1,416.9 425.2,416.8 425.4,416.0 425.6,416.5 425.7,417.4 425.9,417.5 426.1,417.6 426.2,416.5 426.4,418.0 426.6,418.1 426.8,417.7 426.9,418.2 427.1,418.4 427.3,419.2 427.4,418.5 427.6,419.0 427.8,418.0 427.9,418.5 428.1,419.1 428.3,418.8 428.4,419.6 428.6,418.8 428.8,419.7 428.9,419.4 429.1,420.8 429.3,419.8 429.5,421.4 429.6,421.8 429.8,420.7 430.0,421.3 430.1,420.7 430.3,419.3 430.5,421.6 430.6,421.6 430.8,421.2 431.0,421.1 431.1,421.7 431.3,421.9 431.5,421.4 431.7,421.7 431.8,422.9 432.0,422.4 432.2,422.4 432.3,423.3 432.5,422.6 432.7,423.5 432.8,422.3 433.0,423.0 433.2,423.2 433.3,423.8 433.5,423.6 433.7,425.0 433.8,424.6 434.0,423.6 434.2,425.5 434.4,423.6 434.5,425.5 434.7,423.9 434.9,425.1 435.0,424.1 435.2,424.7 435.4,426.0 435.5,424.1 435.7,424.1 435.9,425.3 436.0,425.6 436.2,425.6 436.4,426.3 436.6,425.0 436.7,426.3 436.9,426.1 437.1,426.7 437.2,426.7 437.4,427.3 437.6,425.6 437.7,426.7 437.9,426.1 438.1,426.9 438.2,427.5 438.4,427.4 438.6,427.7 438.7,427.4 438.9,427.8 439.1,427.8 439.3,428.7 439.4,428.5 439.6,426.9 439.8,428.6 439.9,429.0 440.1,428.1 440.3,427.5 440.4,429.7 440.6,428.9 440.8,429.3 440.9,430.2 441.1,428.6 441.3,429.2 441.4,429.3 441.6,429.9 441.8,429.2 442.0,430.0 442.1,429.8 442.3,430.6 442.5,430.8 442.6,429.1 442.8,430.5 443.0,430.1 443.1,430.4 443.3,430.8 443.5,431.0 443.6,430.3 443.8,431.0 444.0,431.0 444.2,431.0 444.3,430.3 444.5,430.8 444.7,431.1 444.8,431.9 445.0,432.6 445.2,431.0 445.3,431.1 445.5,432.0 445.7,431.6 445.8,431.6 446.0,431.7 446.2,431.7 446.3,432.8 446.5,431.5 446.7,433.6 446.9,432.2 447.0,432.6 447.2,432.4 447.4,431.8 447.5,432.2 447.7,434.1 447.9,434.6 448.0,433.0 448.2,434.4 448.4,433.8 448.5,433.3 448.7,435.1 448.9,435.5 449.1,434.0 449.2,434.2 449.4,434.5 449.6,434.4 449.7,435.2 449.9,435.7 450.1,434.9 450.2,435.5 450.4,436.1 450.6,434.7 450.7,435.2 450.9,435.0 451.1,436.1 451.2,435.9 451.4,436.3 451.6,436.3 451.8,435.6 451.9,436.4 452.1,435.7 452.3,435.8 452.4,434.8 452.6,437.2 452.8,435.8 452.9,436.5 453.1,436.6 453.3,437.7 453.4,437.1 453.6,436.4 453.8,437.0 453.9,437.0 454.1,437.4 454.3,436.5 454.5,437.4 454.6,439.0 454.8,438.1 455.0,439.1 455.1,440.1 455.3,438.2 455.5,437.0 455.6,438.0 455.8,439.0 456.0,434.0 456.1,437.6 456.3,438.4 456.5,438.6 456.7,438.7 456.8,438.8 457.0,438.3 457.2,438.6 457.3,439.0 457.5,439.9 457.7,438.9 457.8,439.9 458.0,438.7 458.2,440.5 458.3,439.8 458.5,439.8 458.7,440.8 458.8,438.8 459.0,439.1 459.2,440.6 459.4,439.8 459.5,440.2 459.7,442.4 459.9,440.5 460.0,440.8 460.2,440.8 460.4,441.7 460.5,441.2 460.7,441.3 460.9,440.4 461.0,441.1 461.2,441.5 461.4,440.5 461.6,442.1 461.7,442.0 461.9,443.1 462.1,440.9 462.2,441.4 462.4,441.5 462.6,441.8 462.7,442.3 462.9,442.3 463.1,442.8 463.2,442.8 463.4,442.8 463.6,441.8 463.7,442.6 463.9,443.1 464.1,443.5 464.3,443.6 464.4,442.1 464.6,442.9 464.8,443.3 464.9,443.7 465.1,444.3 465.3,443.6 465.4,443.0 465.6,443.9 465.8,443.9 465.9,443.9 466.1,443.8 466.3,445.0 466.5,444.2 466.6,444.6 466.8,443.5 467.0,444.7 467.1,443.8 467.3,443.2 467.5,444.6 467.6,444.9 467.8,444.4 468.0,444.6 468.1,445.3 468.3,444.4 468.5,443.3 468.6,445.0 468.8,445.0 469.0,445.7 469.2,444.8 469.3,445.9 469.5,445.9 469.7,444.3 469.8,445.9 470.0,444.6 470.2,444.3 470.3,445.3 470.5,445.1 470.7,444.2 470.8,445.8 471.0,446.1 471.2,446.7 471.3,445.8 471.5,444.9 471.7,445.3 471.9,446.7 472.0,446.7 472.2,446.5 472.4,446.0 472.5,446.4 472.7,446.1 472.9,446.1 473.0,446.6 473.2,446.4 473.4,446.3 473.5,446.6 473.7,446.2 473.9,445.3 474.1,446.3 474.2,446.7 474.4,448.0 474.6,446.6 474.7,448.3 474.9,447.9 475.1,446.4 475.2,446.6 475.4,447.2 475.6,448.4 475.7,447.5 475.9,447.7 476.1,446.9 476.2,445.8 476.4,447.3 476.6,448.0 476.8,448.4 476.9,447.6 477.1,447.8 477.3,448.5 477.4,447.7 477.6,448.6 477.8,447.1 477.9,447.2 478.1,447.2 478.3,448.3 478.4,447.7 478.6,448.2 478.8,448.4 479.0,448.5 479.1,449.2 479.3,449.3 479.5,447.8 479.6,448.5 479.8,448.3 480.0,447.8 480.1,449.7 480.3,449.1 480.5,448.5 480.6,448.4 480.8,449.0 481.0,448.0 481.1,448.6 481.3,449.7 481.5,449.5 481.7,448.3 481.8,448.6 482.0,450.3 482.2,448.1 482.3,448.7 482.5,448.2 482.7,449.4 482.8,449.4 483.0,450.0 483.2,447.5 483.3,449.5 483.5,448.3 483.7,449.9 483.9,449.3 484.0,450.7 484.2,449.8 484.4,448.9 484.5,450.5 484.7,448.9 484.9,449.5 485.0,450.5 485.2,450.1 485.4,450.2 485.5,449.9 485.7,450.3 485.9,450.5 486.0,450.2 486.2,450.8 486.4,451.0 486.6,450.2 486.7,449.6 486.9,451.3 487.1,450.2 487.2,450.7 487.4,451.0 487.6,449.8 487.7,450.7 487.9,449.4 488.1,451.0 488.2,450.2 488.4,450.7 488.6,451.1 488.7,450.2 488.9,450.7 489.1,450.2 489.3,450.7 489.4,451.5 489.6,450.8 489.8,450.8 489.9,450.2 490.1,451.5 490.3,450.9 490.4,452.1 490.6,450.5 490.8,451.8 490.9,452.3 491.1,451.1 491.3,450.3 491.5,452.2 491.6,451.9 491.8,451.7 492.0,452.0 492.1,451.0 492.3,451.9 492.5,451.8 492.6,451.0 492.8,451.9 493.0,451.1 493.1,452.2 493.3,452.4 493.5,452.8 493.6,450.3 493.8,451.8 494.0,451.5 494.2,451.7 494.3,451.6 494.5,451.7 494.7,450.5 494.8,452.6 495.0,453.1 495.2,452.7 495.3,453.0 495.5,451.6 495.7,451.6 495.8,452.9 496.0,453.3 496.2,452.6 496.4,451.5 496.5,454.5 496.7,452.2 496.9,453.4 497.0,452.0 497.2,453.5 497.4,453.0 497.5,453.9 497.7,453.6 497.9,452.0 498.0,452.5 498.2,453.4 498.4,453.8 498.5,454.6 498.7,453.6 498.9,453.4 499.1,453.5 499.2,453.5 499.4,454.3 499.6,453.6 499.7,453.7 499.9,452.8 500.1,452.5 500.2,453.9 500.4,454.4 500.6,454.0 500.7,454.4 500.9,454.5 501.1,454.0 501.3,454.8 501.4,453.6 501.6,454.1 501.8,453.9 501.9,454.2 502.1,454.6 502.3,454.8 502.4,454.3 502.6,454.5 502.8,454.0 502.9,454.2 503.1,455.1 503.3,454.2 503.4,455.2 503.6,454.7 503.8,454.5 504.0,455.7 504.1,454.2 504.3,454.2 504.5,454.4 504.6,454.6 504.8,454.6 505.0,455.0 505.1,454.6 505.3,454.8 505.5,454.3 505.6,455.3 505.8,454.3 506.0,454.4 506.1,454.6 506.3,454.8 506.5,454.1 506.7,455.7 506.8,454.2 507.0,454.4 507.2,454.4 507.3,454.3 507.5,455.1 507.7,454.8 507.8,454.2 508.0,454.3 508.2,454.5 508.3,455.7 508.5,454.3 508.7,453.9 508.9,454.0 509.0,454.6 509.2,455.8 509.4,454.1 509.5,454.9 509.7,456.5 509.9,454.5 510.0,455.8 510.2,455.7 510.4,455.2 510.5,453.9 510.7,455.1 510.9,454.6 511.0,453.6 511.2,453.7 511.4,454.9 511.6,455.0 511.7,455.8 511.9,455.4 512.1,454.6 512.2,454.6 512.4,454.9 512.6,454.2 512.7,455.5 512.9,455.0 513.1,454.5 513.2,454.6 513.4,454.3 513.6,454.7 513.8,455.2 513.9,454.8 514.1,455.7 514.3,456.2 514.4,454.7 514.6,455.1 514.8,454.9 514.9,456.3 515.1,455.4 515.3,455.5 515.4,455.7 515.6,456.7 515.8,455.4 515.9,454.5 516.1,454.9 516.3,455.6 516.5,455.2 516.6,454.7 516.8,457.2 517.0,455.3 517.1,454.9 517.3,454.8 517.5,454.1 517.6,454.5 517.8,455.1 518.0,455.1 518.1,454.8 518.3,455.7 518.5,455.4 518.7,454.7 518.8,454.0 519.0,455.5 519.2,455.4 519.3,455.2 519.5,454.5 519.7,455.4 519.8,454.4 520.0,456.1 520.2,455.6 520.3,455.6 520.5,454.9 520.7,454.7 520.8,456.5 521.0,456.1 521.2,455.3 521.4,456.0 521.5,456.6 521.7,454.8 521.9,455.2 522.0,455.2 522.2,455.9 522.4,454.9 522.5,455.8 522.7,454.8 522.9,456.3 523.0,456.2 523.2,455.5 523.4,456.1 523.5,455.2 523.7,455.5 523.9,456.3 524.1,455.6 524.2,455.9 524.4,455.1 524.6,456.2 524.7,456.0 524.9,454.9 525.1,454.2 525.2,454.4 525.4,455.7 525.6,455.6 525.7,454.7 525.9,455.9 526.1,456.5 526.3,455.8 526.4,455.5 526.6,456.4 526.8,457.0 526.9,456.9 527.1,455.4 527.3,456.4 527.4,456.0 527.6,455.8 527.8,455.5 527.9,456.2 528.1,455.6 528.3,456.6 528.4,456.2 528.6,456.7 528.8,455.2 529.0,456.0 529.1,456.5 529.3,456.3 529.5,456.2 529.6,455.6 529.8,457.2 530.0,456.8 530.1,456.4 530.3,454.3 530.5,455.4 530.6,456.2 530.8,455.6 531.0,454.7 531.2,456.3 531.3,456.4 531.5,455.3 531.7,455.8 531.8,455.7 532.0,456.6 532.2,454.9 532.3,455.0 532.5,455.8 532.7,455.8 532.8,457.7 533.0,455.8 533.2,456.4 533.3,456.0 533.5,455.8 533.7,456.6 533.9,457.5 534.0,456.1 534.2,456.9 534.4,456.6 534.5,456.8 534.7,456.6 534.9,458.0 535.0,455.6 535.2,456.2 535.4,455.6 535.5,455.1 535.7,456.4 535.9,457.7 536.0,457.1 536.2,457.3 536.4,456.8 536.6,456.4 536.7,457.9 536.9,456.3 537.1,457.6 537.2,456.3 537.4,456.6 537.6,456.8 537.7,456.6 537.9,457.0 538.1,457.0 538.2,457.8 538.4,456.6 538.6,455.3 538.8,455.3 538.9,455.7 539.1,456.2 539.3,457.2 539.4,455.7 539.6,456.7 539.8,456.8 539.9,456.9 540.1,456.7 540.3,457.1 540.4,456.8 540.6,457.5 540.8,457.0 540.9,455.2 541.1,456.8 541.3,457.0 541.5,456.5 541.6,456.3 541.8,457.6 542.0,457.0 542.1,456.2 542.3,456.7 542.5,456.8 542.6,455.8 542.8,457.4 543.0,456.9 543.1,457.3 543.3,455.9 543.5,458.3 543.7,457.4 543.8,457.3 544.0,456.5 544.2,456.6 544.3,456.0 544.5,458.1 544.7,456.5 544.8,457.2 545.0,457.5 545.2,456.7 545.3,457.7 545.5,458.5 545.7,457.4 545.8,458.2 546.0,457.6 546.2,456.9 546.4,456.9 546.5,456.0 546.7,457.3 546.9,458.2 547.0,457.7 547.2,457.8 547.4,458.1 547.5,456.9 547.7,457.7 547.9,458.6 548.0,456.8 548.2,457.3 548.4,457.0 548.6,457.2 548.7,456.9 548.9,457.3 549.1,456.5 549.2,457.0 549.4,457.1 549.6,457.1 549.7,458.4 549.9,457.5 550.1,457.6 550.2,457.2 550.4,458.4 550.6,456.3 550.7,457.4 550.9,458.3 551.1,458.6 551.3,457.7 551.4,457.5 551.6,458.0 551.8,457.4 551.9,458.0 552.1,457.1 552.3,458.0 552.4,457.6 552.6,456.9 552.8,455.8 552.9,458.3 553.1,457.9 553.3,458.2 553.4,457.1 553.6,458.4 553.8,458.0 554.0,457.7 554.1,458.3 554.3,458.3 554.5,458.0 554.6,459.1 554.8,458.7 555.0,458.0 555.1,457.6 555.3,457.9 555.5,459.0 555.6,458.1 555.8,457.2 556.0,457.4 556.2,457.8 556.3,458.4 556.5,457.4 556.7,458.2 556.8,458.6 557.0,458.4 557.2,456.8 557.3,457.7 557.5,457.1 557.7,458.2 557.8,457.2 558.0,458.3 558.2,458.0 558.3,456.2 558.5,457.4 558.7,458.3 558.9,458.0 559.0,457.7 559.2,457.1 559.4,458.3 559.5,459.2 559.7,458.2 559.9,458.0 560.0,458.0 560.2,457.1 560.4,457.8 560.5,457.5 560.7,458.8 560.9,457.5 561.1,456.6 561.2,457.6 561.4,457.9 561.6,458.0 561.7,456.9 561.9,458.8 562.1,458.2 562.2,457.8 562.4,457.6 562.6,458.5 562.7,458.0 562.9,458.4 563.1,458.1 563.2,458.3 563.4,459.0 563.6,458.2 563.8,457.6 563.9,458.9 564.1,458.4 564.3,457.8 564.4,459.0 564.6,458.2 564.8,459.0 564.9,457.5 565.1,456.7 565.3,456.9 565.4,458.5 565.6,457.8 565.8,458.3 566.0,458.3 566.1,457.3 566.3,459.3 566.5,457.6 566.6,458.4 566.8,457.4 567.0,458.3 567.1,458.9 567.3,458.2 567.5,457.9 567.6,458.4 567.8,458.1 568.0,458.8 568.1,460.0 568.3,457.9 568.5,458.0 568.7,458.4 568.8,458.5 569.0,457.8 569.2,458.8 569.3,459.0 569.5,458.7 569.7,457.7 569.8,459.5 570.0,457.7 570.2,459.0 570.3,459.4 570.5,457.7 570.7,458.7 570.8,459.5 571.0,458.9 571.2,458.0 571.4,457.8 571.5,459.0 571.7,458.4 571.9,458.2 572.0,459.1 572.2,458.4 572.4,458.7 572.5,459.1 572.7,459.1 572.9,458.7 573.0,458.7 573.2,459.1 573.4,459.1 573.6,458.0 573.7,458.6 573.9,458.2 574.1,458.0 574.2,458.4 574.4,457.2 574.6,459.4 574.7,458.3 574.9,459.1 575.1,457.6 575.2,457.7 575.4,460.2 575.6,459.6 575.7,458.4 575.9,458.3 576.1,458.4 576.3,459.0 576.4,458.6 576.6,458.5 576.8,459.0 576.9,458.2 577.1,460.5 577.3,458.5 577.4,459.7 577.6,458.3 577.8,459.2 577.9,459.6 578.1,458.8 578.3,459.7 578.5,459.7 578.6,460.1 578.8,459.1 579.0,458.7 579.1,458.4 579.3,459.2 579.5,458.4 579.6,459.1 579.8,459.2 580.0,458.7 580.1,458.4 580.3,459.4 580.5,459.3 580.6,459.3 580.8,459.1 581.0,459.8 581.2,458.5 581.3,459.5 581.5,458.9 581.7,459.8 581.8,457.6 582.0,459.0 582.2,459.5 582.3,457.8 582.5,459.0 582.7,458.0 582.8,458.6 583.0,459.7 583.2,459.6 583.4,459.0 583.5,459.3 583.7,459.3 583.9,459.5 584.0,460.6 584.2,459.5 584.4,460.9 584.5,459.1 584.7,459.9 584.9,459.9 585.0,459.5 585.2,459.2 585.4,460.4 585.5,460.6 585.7,460.2 585.9,460.9 586.1,460.1 586.2,458.3 586.4,460.2 586.6,459.0 586.7,460.4 586.9,459.3 587.1,459.7 587.2,459.6 587.4,459.1 587.6,458.3 587.7,459.4 587.9,459.5 588.1,460.2 588.2,459.2 588.4,459.8 588.6,459.0 588.8,459.6 588.9,458.4 589.1,461.0 589.3,459.8 589.4,459.0 589.6,459.9 589.8,460.2 589.9,459.9 590.1,460.6 590.3,459.6 590.4,458.0 590.6,458.9 590.8,460.5 591.0,460.3 591.1,460.0 591.3,459.0 591.5,460.3 591.6,460.2 591.8,459.1 592.0,459.2 592.1,460.0 592.3,460.6 592.5,460.9 592.6,460.3 592.8,461.4 593.0,459.3 593.1,460.3 593.3,459.5 593.5,458.6 593.7,459.0 593.8,460.7 594.0,459.3 594.2,459.1 594.3,460.4 594.5,460.6 594.7,460.0 594.8,461.1 595.0,458.9 595.2,461.6 595.3,460.7 595.5,460.2 595.7,460.1 595.9,459.9 596.0,459.8 596.2,460.2 596.4,459.2 596.5,461.5 596.7,460.0 596.9,460.5 597.0,460.0 597.2,459.9 597.4,460.7 597.5,460.5 597.7,459.5 597.9,459.9 598.0,460.6 598.2,458.7 598.4,458.5 598.6,461.2 598.7,459.9 598.9,458.4 599.1,459.6 599.2,460.0 599.4,460.3 599.6,460.6 599.7,460.3 599.9,460.6 600.1,459.7 600.2,460.5 600.4,460.5 600.6,461.1 600.8,460.3 600.9,460.9 601.1,460.4 601.3,459.6 601.4,460.0 601.6,459.9 601.8,460.1 601.9,460.3 602.1,460.4 602.3,460.6 602.4,459.8 602.6,461.1 602.8,459.4 602.9,460.4 603.1,460.9 603.3,460.7 603.5,460.9 603.6,460.3 603.8,460.9 604.0,459.6 604.1,461.0 604.3,462.0 604.5,461.0 604.6,461.9 604.8,460.5 605.0,459.7 605.1,460.0 605.3,461.4 605.5,461.0 605.6,459.3 605.8,460.3 606.0,460.5 606.2,459.8 606.3,458.8 606.5,459.7 606.7,460.5 606.8,460.3 607.0,460.2 607.2,461.0 607.3,461.4 607.5,460.6 607.7,461.3 607.8,460.7 608.0,460.6 608.2,459.0 608.4,461.3 608.5,460.8 608.7,460.8 608.9,460.4 609.0,460.0 609.2,461.1 609.4,461.3 609.5,461.9 609.7,461.4 609.9,460.4 610.0,460.7 610.2,461.5 610.4,461.0 610.5,460.8 610.7,460.4 610.9,461.2 611.1,461.0 611.2,462.1 611.4,461.6 611.6,459.7 611.7,462.4 611.9,461.1 612.1,460.7 612.2,461.1 612.4,461.4 612.6,460.9 612.7,460.9 612.9,461.0 613.1,462.2 613.3,461.0 613.4,461.5 613.6,461.3 613.8,460.8 613.9,460.5 614.1,460.3 614.3,461.3 614.4,460.3 614.6,460.2 614.8,460.2 614.9,460.0 615.1,461.1 615.3,461.1 615.4,460.4 615.6,462.0 615.8,460.9 616.0,461.4 616.1,461.3 616.3,462.3 616.5,461.7 616.6,461.1 616.8,460.5 617.0,460.4 617.1,461.2 617.3,461.2 617.5,461.7 617.6,460.8 617.8,461.3 618.0,460.7 618.1,459.9 618.3,461.2 618.5,462.2 618.7,461.8 618.8,462.2 619.0,462.0 619.2,460.3 619.3,461.0 619.5,462.3 619.7,460.8 619.8,460.3 620.0,461.5 620.2,461.7 620.3,461.5 620.5,461.1 620.7,460.8 620.9,460.5 621.0,460.4 621.2,460.5 621.4,460.3 621.5,460.8 621.7,462.4 621.9,461.4 622.0,461.1 622.2,461.6 622.4,460.7 622.5,461.6 622.7,462.0 622.9,460.4 623.0,460.9 623.2,461.2 623.4,460.8 623.6,460.7 623.7,461.2 623.9,463.1 624.1,461.9 624.2,461.8 624.4,462.1 624.6,461.3 624.7,460.6 624.9,461.8 625.1,462.3 625.2,460.1 625.4,461.8 625.6,462.4 625.8,461.3 625.9,461.2 626.1,462.0 626.3,461.0 626.4,461.9 626.6,462.2 626.8,461.4 626.9,461.0 627.1,462.0 627.3,461.4 627.4,461.7 627.6,459.6 627.8,462.1 627.9,460.7 628.1,461.7 628.3,461.7 628.5,461.1 628.6,461.0 628.8,460.8 629.0,461.4 629.1,462.1 629.3,462.1 629.5,461.3 629.6,461.3 629.8,460.7 630.0,461.4 630.1,461.0 630.3,460.7 630.5,461.6 630.7,462.8 630.8,462.6 631.0,462.8 631.2,460.7 631.3,462.4 631.5,460.9 631.7,461.4 631.8,460.6 632.0,461.1 632.2,461.9 632.3,462.0 632.5,461.8 632.7,461.7 632.8,462.2 633.0,461.9 633.2,460.7 633.4,463.1 633.5,461.7 633.7,462.5 633.9,461.8 634.0,461.3 634.2,462.0 634.4,461.4 634.5,463.1 634.7,461.2 634.9,462.4 635.0,461.5 635.2,461.8 635.4,463.8 635.5,462.5 635.7,461.8 635.9,460.9 636.1,461.8 636.2,461.8 636.4,463.0 636.6,461.0 636.7,460.8 636.9,462.0 637.1,462.2 637.2,463.2 637.4,461.5 637.6,460.2 637.7,461.6 637.9,461.2 638.1,461.7 638.3,462.8 638.4,461.2 638.6,463.0 638.8,462.3 638.9,462.0 639.1,461.5 639.3,461.9 639.4,461.9 639.6,462.7 639.8,463.1 639.9,462.2 640.1,462.7 640.3,463.1 640.4,463.1 640.6,462.6 640.8,463.5 641.0,463.2 641.1,463.4 641.3,462.1 641.5,462.0 641.6,460.9 641.8,463.3 642.0,462.8 642.1,461.7 642.3,462.5 642.5,462.6 642.6,461.1 642.8,462.6 643.0,463.2 643.2,463.3 643.3,462.1 643.5,462.2 643.7,463.3 643.8,463.1 644.0,462.0 644.2,462.0 644.3,462.9 644.5,462.0 644.7,462.0 644.8,463.7 645.0,462.7 645.2,462.2 645.3,462.9 645.5,464.0 645.7,462.7 645.9,462.0 646.0,461.4 646.2,464.0 646.4,460.7 646.5,463.3 646.7,461.9 646.9,461.7 647.0,461.9 647.2,462.5 647.4,463.4 647.5,462.1 647.7,463.1 647.9,464.4 648.1,460.6 648.2,462.1 648.4,461.3 648.6,463.3 648.7,461.6 648.9,461.5 649.1,461.6 649.2,462.7 649.4,463.5 649.6,462.8 649.7,464.2 649.9,463.9 650.1,462.6 650.2,463.4 650.4,462.8 650.6,462.8 650.8,461.4 650.9,461.8 651.1,462.8 651.3,461.9 651.4,463.3 651.6,463.0 651.8,462.1 651.9,463.7 652.1,463.0 652.3,463.7 652.4,462.7 652.6,461.7 652.8,463.4 652.9,462.7 653.1,463.5 653.3,463.7 653.5,463.7 653.6,461.8 653.8,461.2 654.0,462.5 654.1,463.4 654.3,462.4 654.5,463.1 654.6,462.4 654.8,462.7 655.0,462.7 655.1,462.5 655.3,463.4 655.5,463.2 655.7,464.2 655.8,463.3 656.0,464.0 656.2,463.1 656.3,463.7 656.5,462.9 656.7,462.7 656.8,464.0 657.0,463.6 657.2,463.7 657.3,462.5 657.5,461.9 657.7,462.5 657.8,463.3 658.0,462.1 658.2,464.1 658.4,462.0 658.5,463.6 658.7,465.1 658.9,461.3 659.0,462.0 659.2,463.9 659.4,463.0 659.5,463.3 659.7,463.1 659.9,464.2 660.0,463.7 660.2,462.9 660.4,463.0 660.6,462.4 660.7,463.2 660.9,461.6 661.1,463.7 661.2,463.1 661.4,464.6 661.6,464.1 661.7,462.3 661.9,463.9 662.1,462.9 662.2,463.3 662.4,464.0 662.6,463.5 662.7,463.7 662.9,463.7 663.1,462.8 663.3,462.9 663.4,463.7 663.6,464.0 663.8,463.2 663.9,463.4 664.1,462.7 664.3,461.5 664.4,462.8 664.6,463.4 664.8,463.5 664.9,464.0 665.1,464.1 665.3,464.1 665.5,463.7 665.6,463.7 665.8,462.9 666.0,463.7 666.1,463.6" fill="none" stroke="#1f77b4" stroke-width="1.8" stroke-linejoin="round" stroke-linecap="square" />
<polyline points="412.9,349.1 413.1,360.2 413.2,371.4 413.4,377.7 413.6,384.3 413.7,390.6 413.9,393.5 414.1,395.4 414.3,396.6 414.4,401.2 414.6,400.9 414.8,400.9 414.9,402.1 415.1,402.2 415.3,402.1 415.4,403.8 415.6,403.4 415.8,404.6 415.9,404.8 416.1,405.1 416.3,405.1 416.4,405.2 416.6,405.3 416.8,406.9 417.0,404.8 417.1,405.7 417.3,406.4 417.5,407.5 417.6,407.4 417.8,407.2 418.0,407.5 418.1,409.1 418.3,407.6 418.5,406.2 418.6,409.8 418.8,407.9 419.0,408.6 419.2,409.1 419.3,408.2 419.5,410.2 419.7,409.5 419.8,408.7 420.0,410.1 420.2,410.4 420.3,410.2 420.5,410.8 420.7,409.6 420.8,411.5 421.0,410.4 421.2,412.1 421.3,410.9 421.5,411.7 421.7,413.6 421.9,412.0 422.0,412.9 422.2,412.6 422.4,411.4 422.5,413.5 422.7,413.6 422.9,412.0 423.0,413.1 423.2,412.3 423.4,413.4 423.5,414.4 423.7,414.0 423.9,413.3 424.0,413.6 424.2,414.5 424.4,414.7 424.6,415.0 424.7,415.5 424.9,413.8 425.1,415.4 425.2,416.4 425.4,416.1 425.6,415.4 425.7,415.6 425.9,416.3 426.1,416.8 426.2,416.4 426.4,417.8 426.6,417.7 426.8,416.3 426.9,417.3 427.1,416.9 427.3,416.4 427.4,417.0 427.6,417.5 427.8,416.2 427.9,417.4 428.1,418.2 428.3,417.6 428.4,418.0 428.6,419.0 428.8,418.5 428.9,418.8 429.1,420.2 429.3,419.1 429.5,419.3 429.6,419.6 429.8,420.6 430.0,419.8 430.1,419.7 430.3,419.7 430.5,420.8 430.6,419.6 430.8,421.1 431.0,420.5 431.1,419.6 431.3,421.1 431.5,421.1 431.7,420.1 431.8,421.3 432.0,421.4 432.2,421.2 432.3,420.7 432.5,423.2 432.7,422.4 432.8,422.6 433.0,422.8 433.2,422.8 433.3,422.9 433.5,422.2 433.7,423.2 433.8,422.6 434.0,422.5 434.2,423.4 434.4,422.9 434.5,422.0 434.7,423.0 434.9,423.9 435.0,423.6 435.2,424.3 435.4,423.6 435.5,423.3 435.7,424.6 435.9,424.3 436.0,423.5 436.2,424.8 436.4,424.4 436.6,425.4 436.7,425.4 436.9,425.3 437.1,423.5 437.2,425.4 437.4,425.6 437.6,425.8 437.7,425.6 437.9,425.2 438.1,425.6 438.2,424.5 438.4,425.9 438.6,425.1 438.7,426.1 438.9,426.0 439.1,427.5 439.3,426.7 439.4,426.8 439.6,427.1 439.8,428.5 439.9,426.5 440.1,427.5 440.3,427.7 440.4,427.7 440.6,427.8 440.8,427.5 440.9,428.7 441.1,428.6 441.3,427.9 441.4,428.1 441.6,428.6 441.8,428.8 442.0,429.1 442.1,428.7 442.3,427.9 442.5,429.6 442.6,427.9 442.8,428.5 443.0,429.5 443.1,428.7 443.3,430.4 443.5,430.7 443.6,430.5 443.8,430.0 444.0,430.0 444.2,430.3 444.3,430.0 444.5,431.6 444.7,429.9 444.8,431.4 445.0,430.9 445.2,430.9 445.3,431.5 445.5,431.8 445.7,431.6 445.8,431.0 446.0,430.7 446.2,430.8 446.3,432.0 446.5,432.0 446.7,432.2 446.9,431.4 447.0,433.2 447.2,431.0 447.4,432.3 447.5,432.7 447.7,432.0 447.9,431.6 448.0,432.2 448.2,431.8 448.4,432.5 448.5,431.9 448.7,432.0 448.9,433.0 449.1,432.0 449.2,433.0 449.4,433.2 449.6,434.0 449.7,433.6 449.9,433.0 450.1,434.6 450.2,433.3 450.4,433.6 450.6,433.8 450.7,435.6 450.9,434.2 451.1,433.8 451.2,434.9 451.4,434.4 451.6,436.2 451.8,434.2 451.9,435.2 452.1,434.2 452.3,436.2 452.4,434.6 452.6,435.3 452.8,434.7 452.9,436.0 453.1,435.9 453.3,434.0 453.4,436.2 453.6,436.2 453.8,436.0 453.9,436.7 454.1,435.2 454.3,434.9 454.5,436.7 454.6,437.6 454.8,435.6 455.0,435.8 455.1,436.1 455.3,435.9 455.5,437.5 455.6,437.1 455.8,438.0 456.0,438.2 456.1,436.6 456.3,437.8 456.5,435.9 456.7,437.5 456.8,438.1 457.0,437.2 457.2,436.6 457.3,437.6 457.5,438.9 457.7,437.9 457.8,437.3 458.0,438.7 458.2,439.0 458.3,437.9 458.5,438.6 458.7,439.6 458.8,439.2 459.0,439.5 459.2,438.9 459.4,439.1 459.5,438.5 459.7,438.9 459.9,440.6 460.0,439.3 460.2,439.1 460.4,439.5 460.5,439.2 460.7,440.4 460.9,440.8 461.0,439.6 461.2,441.1 461.4,442.0 461.6,439.8 461.7,441.2 461.9,441.0 462.1,441.8 462.2,441.9 462.4,441.9 462.6,441.4 462.7,441.0 462.9,443.0 463.1,440.9 463.2,442.4 463.4,442.4 463.6,441.3 463.7,441.9 463.9,443.0 464.1,440.7 464.3,442.6 464.4,441.9 464.6,442.0 464.8,441.2 464.9,442.6 465.1,441.6 465.3,442.9 465.4,441.7 465.6,443.1 465.8,442.9 465.9,441.3 466.1,442.5 466.3,442.7 466.5,441.3 466.6,442.7 466.8,443.6 467.0,442.5 467.1,443.9 467.3,442.4 467.5,442.4 467.6,443.7 467.8,443.8 468.0,443.3 468.1,443.5 468.3,444.3 468.5,443.2 468.6,445.1 468.8,444.1 469.0,444.1 469.2,444.1 469.3,443.7 469.5,444.9 469.7,443.7 469.8,444.3 470.0,444.7 470.2,445.2 470.3,445.2 470.5,444.1 470.7,445.1 470.8,444.5 471.0,443.8 471.2,443.9 471.3,443.6 471.5,445.0 471.7,445.6 471.9,444.2 472.0,444.7 472.2,444.2 472.4,445.0 472.5,444.3 472.7,444.6 472.9,444.7 473.0,444.9 473.2,445.0 473.4,445.2 473.5,445.2 473.7,444.8 473.9,445.9 474.1,444.4 474.2,445.7 474.4,445.0 474.6,445.8 474.7,446.0 474.9,444.4 475.1,446.1 475.2,446.8 475.4,446.5 475.6,446.3 475.7,444.6 475.9,446.0 476.1,445.5 476.2,447.0 476.4,446.1 476.6,445.9 476.8,445.2 476.9,447.0 477.1,446.1 477.3,446.4 477.4,447.3 477.6,446.7 477.8,446.9 477.9,448.4 478.1,446.4 478.3,446.5 478.4,447.2 478.6,447.9 478.8,446.0 479.0,446.9 479.1,446.4 479.3,446.2 479.5,447.6 479.6,446.7 479.8,447.5 480.0,447.4 480.1,447.5 480.3,447.4 480.5,446.7 480.6,447.4 480.8,447.7 481.0,447.8 481.1,447.4 481.3,448.3 481.5,448.1 481.7,447.8 481.8,448.2 482.0,447.9 482.2,448.3 482.3,446.5 482.5,447.1 482.7,447.7 482.8,448.1 483.0,446.6 483.2,447.9 483.3,448.3 483.5,448.0 483.7,448.1 483.9,447.3 484.0,448.4 484.2,447.0 484.4,449.1 484.5,448.0 484.7,449.2 484.9,447.3 485.0,448.9 485.2,448.7 485.4,448.1 485.5,447.9 485.7,449.6 485.9,449.1 486.0,449.9 486.2,448.8 486.4,449.0 486.6,449.3 486.7,449.5 486.9,449.4 487.1,449.7 487.2,448.8 487.4,448.1 487.6,450.6 487.7,449.3 487.9,449.6 488.1,449.0 488.2,450.0 488.4,449.5 488.6,450.2 488.7,449.0 488.9,449.4 489.1,449.7 489.3,449.3 489.4,449.8 489.6,450.7 489.8,449.3 489.9,449.5 490.1,449.9 490.3,449.1 490.4,449.0 490.6,450.6 490.8,450.4 490.9,448.8 491.1,449.0 491.3,450.5 491.5,450.8 491.6,450.5 491.8,450.4 492.0,451.2 492.1,450.1 492.3,451.1 492.5,451.1 492.6,449.6 492.8,450.8 493.0,450.4 493.1,449.9 493.3,449.8 493.5,450.7 493.6,450.4 493.8,451.1 494.0,449.3 494.2,450.1 494.3,451.4 494.5,450.7 494.7,450.2 494.8,450.4 495.0,449.6 495.2,449.9 495.3,451.3 495.5,451.1 495.7,452.0 495.8,451.0 496.0,451.1 496.2,449.4 496.4,451.3 496.5,452.9 496.7,451.9 496.9,451.4 497.0,452.4 497.2,452.2 497.4,451.9 497.5,451.5 497.7,451.9 497.9,452.5 498.0,451.4 498.2,452.4 498.4,452.4 498.5,453.1 498.7,452.7 498.9,451.8 499.1,453.4 499.2,452.4 499.4,451.9 499.6,452.7 499.7,452.4 499.9,453.4 500.1,451.7 500.2,451.9 500.4,452.6 500.6,454.1 500.7,453.6 500.9,452.2 501.1,451.7 501.3,452.7 501.4,452.0 501.6,453.4 501.8,453.1 501.9,453.0 502.1,452.7 502.3,454.1 502.4,452.4 502.6,452.1 502.8,453.8 502.9,454.0 503.1,452.8 503.3,453.5 503.4,454.8 503.6,452.6 503.8,453.0 504.0,453.5 504.1,451.7 504.3,453.1 504.5,453.7 504.6,453.1 504.8,454.0 505.0,453.8 505.1,453.0 505.3,453.7 505.5,453.6 505.6,452.1 505.8,452.7 506.0,452.8 506.1,453.0 506.3,453.0 506.5,452.4 506.7,453.4 506.8,452.1 507.0,454.1 507.2,453.6 507.3,454.4 507.5,453.7 507.7,453.1 507.8,452.5 508.0,454.0 508.2,453.5 508.3,453.8 508.5,452.4 508.7,454.4 508.9,453.5 509.0,454.8 509.2,453.5 509.4,453.6 509.5,454.1 509.7,454.3 509.9,454.6 510.0,452.4 510.2,454.6 510.4,452.6 510.5,453.3 510.7,454.0 510.9,454.5 511.0,453.0 511.2,452.5 511.4,454.4 511.6,454.0 511.7,453.0 511.9,453.5 512.1,452.4 512.2,454.2 512.4,453.4 512.6,454.7 512.7,452.4 512.9,454.4 513.1,455.4 513.2,454.0 513.4,454.0 513.6,452.6 513.8,454.1 513.9,453.9 514.1,453.5 514.3,452.8 514.4,454.0 514.6,453.2 514.8,453.6 514.9,454.2 515.1,453.9 515.3,454.0 515.4,454.7 515.6,453.2 515.8,455.0 515.9,453.2 516.1,453.4 516.3,454.1 516.5,454.6 516.6,454.2 516.8,453.8 517.0,453.6 517.1,453.9 517.3,453.4 517.5,454.5 517.6,454.0 517.8,455.3 518.0,453.6 518.1,454.1 518.3,454.5 518.5,453.4 518.7,453.7 518.8,456.2 519.0,454.2 519.2,455.3 519.3,453.5 519.5,452.5 519.7,454.6 519.8,454.2 520.0,454.5 520.2,454.1 520.3,453.9 520.5,453.4 520.7,455.0 520.8,453.3 521.0,455.0 521.2,454.2 521.4,453.6 521.5,453.9 521.7,455.1 521.9,454.9 522.0,454.8 522.2,454.5 522.4,453.7 522.5,455.4 522.7,454.2 522.9,454.1 523.0,454.1 523.2,454.2 523.4,453.5 523.5,454.2 523.7,454.0 523.9,454.2 524.1,453.3 524.2,455.9 524.4,453.7 524.6,454.8 524.7,454.8 524.9,455.3 525.1,455.9 525.2,454.9 525.4,455.1 525.6,454.3 525.7,455.7 525.9,453.7 526.1,454.5 526.3,454.9 526.4,455.2 526.6,455.3 526.8,455.5 526.9,455.1 527.1,454.8 527.3,454.9 527.4,455.8 527.6,455.0 527.8,455.4 527.9,454.7 528.1,453.5 528.3,454.4 528.4,455.1 528.6,456.0 528.8,455.9 529.0,456.1 529.1,454.4 529.3,455.4 529.5,454.9 529.6,455.4 529.8,454.9 530.0,454.0 530.1,455.4 530.3,455.2 530.5,455.6 530.6,454.4 530.8,455.7 531.0,455.8 531.2,456.0 531.3,456.0 531.5,454.7 531.7,453.3 531.8,455.8 532.0,454.4 532.2,454.9 532.3,455.9 532.5,455.3 532.7,455.3 532.8,455.6 533.0,453.8 533.2,456.5 533.3,454.9 533.5,455.0 533.7,455.6 533.9,455.1 534.0,454.6 534.2,455.1 534.4,454.9 534.5,454.8 534.7,456.7 534.9,454.2 535.0,453.7 535.2,454.6 535.4,454.6 535.5,456.3 535.7,455.4 535.9,455.9 536.0,455.8 536.2,454.7 536.4,455.9 536.6,455.5 536.7,456.7 536.9,455.5 537.1,455.4 537.2,455.9 537.4,455.9 537.6,454.1 537.7,456.3 537.9,456.2 538.1,456.0 538.2,454.7 538.4,454.0 538.6,455.3 538.8,456.0 538.9,455.8 539.1,454.8 539.3,456.2 539.4,454.6 539.6,454.6 539.8,455.5 539.9,455.2 540.1,455.1 540.3,454.5 540.4,456.4 540.6,454.8 540.8,455.9 540.9,456.2 541.1,455.6 541.3,455.8 541.5,456.4 541.6,456.8 541.8,456.4 542.0,454.7 542.1,454.4 542.3,455.3 542.5,454.9 542.6,456.1 542.8,455.8 543.0,455.6 543.1,456.6 543.3,456.5 543.5,455.8 543.7,456.1 543.8,456.6 544.0,455.6 544.2,456.1 544.3,455.2 544.5,455.9 544.7,456.1 544.8,455.8 545.0,456.1 545.2,456.4 545.3,456.2 545.5,455.4 545.7,455.5 545.8,455.1 546.0,457.2 546.2,456.3 546.4,456.3 546.5,455.9 546.7,456.4 546.9,456.4 547.0,455.5 547.2,456.0 547.4,456.9 547.5,455.2 547.7,455.4 547.9,456.5 548.0,455.5 548.2,456.7 548.4,455.4 548.6,456.3 548.7,456.7 548.9,456.4 549.1,456.7 549.2,456.1 549.4,456.1 549.6,456.2 549.7,456.6 549.9,458.8 550.1,456.2 550.2,457.6 550.4,456.1 550.6,455.5 550.7,456.1 550.9,456.6 551.1,456.5 551.3,456.4 551.4,456.7 551.6,456.8 551.8,457.0 551.9,455.6 552.1,456.4 552.3,455.7 552.4,456.6 552.6,456.4 552.8,456.6 552.9,456.1 553.1,455.9 553.3,456.3 553.4,457.0 553.6,457.0 553.8,455.3 554.0,456.7 554.1,456.7 554.3,455.5 554.5,455.8 554.6,456.2 554.8,456.9 555.0,454.9 555.1,456.3 555.3,456.2 555.5,456.7 555.6,457.6 555.8,457.6 556.0,456.4 556.2,456.4 556.3,456.8 556.5,457.5 556.7,457.7 556.8,456.9 557.0,457.7 557.2,456.1 557.3,455.9 557.5,454.8 557.7,456.1 557.8,457.2 558.0,457.4 558.2,459.2 558.3,457.2 558.5,456.9 558.7,456.1 558.9,456.4 559.0,456.4 559.2,456.7 559.4,456.4 559.5,455.9 559.7,457.6 559.9,452.3 560.0,457.9 560.2,455.8 560.4,456.0 560.5,456.4 560.7,457.8 560.9,456.8 561.1,457.1 561.2,456.9 561.4,457.1 561.6,456.6 561.7,457.3 561.9,456.4 562.1,456.9 562.2,457.2 562.4,457.1 562.6,457.4 562.7,456.5 562.9,457.3 563.1,456.9 563.2,457.4 563.4,458.1 563.6,456.5 563.8,457.9 563.9,456.6 564.1,456.8 564.3,458.3 564.4,457.8 564.6,457.5 564.8,457.7 564.9,458.0 565.1,456.7 565.3,457.4 565.4,456.9 565.6,457.5 565.8,457.0 566.0,457.8 566.1,457.3 566.3,456.8 566.5,457.2 566.6,457.6 566.8,458.0 567.0,457.2 567.1,457.1 567.3,457.5 567.5,457.9 567.6,456.9 567.8,455.6 568.0,457.6 568.1,457.1 568.3,457.1 568.5,459.2 568.7,457.3 568.8,457.9 569.0,456.4 569.2,457.6 569.3,458.0 569.5,457.6 569.7,457.3 569.8,457.8 570.0,457.5 570.2,458.4 570.3,457.6 570.5,456.9 570.7,456.1 570.8,457.0 571.0,457.3 571.2,456.7 571.4,456.8 571.5,456.4 571.7,456.8 571.9,457.6 572.0,457.4 572.2,457.4 572.4,457.4 572.5,457.5 572.7,458.1 572.9,459.1 573.0,458.1 573.2,459.0 573.4,457.6 573.6,457.6 573.7,458.8 573.9,457.2 574.1,457.1 574.2,457.6 574.4,456.5 574.6,456.4 574.7,458.6 574.9,457.0 575.1,457.4 575.2,457.4 575.4,457.1 575.6,458.3 575.7,458.2 575.9,458.4 576.1,458.3 576.3,457.9 576.4,458.8 576.6,458.5 576.8,457.4 576.9,457.9 577.1,457.6 577.3,459.2 577.4,458.4 577.6,458.3 577.8,457.9 577.9,458.3 578.1,457.2 578.3,457.9 578.5,457.9 578.6,457.9 578.8,457.4 579.0,458.3 579.1,457.2 579.3,457.6 579.5,457.9 579.6,458.0 579.8,457.6 580.0,457.3 580.1,457.3 580.3,457.8 580.5,457.4 580.6,458.0 580.8,457.2 581.0,458.1 581.2,459.5 581.3,457.1 581.5,458.0 581.7,458.9 581.8,456.1 582.0,458.7 582.2,456.6 582.3,457.8 582.5,459.2 582.7,457.8 582.8,458.4 583.0,456.8 583.2,458.9 583.4,459.8 583.5,458.1 583.7,458.4 583.9,458.5 584.0,459.7 584.2,457.9 584.4,457.1 584.5,459.6 584.7,457.4 584.9,458.7 585.0,456.6 585.2,458.0 585.4,458.4 585.5,457.5 585.7,457.9 585.9,458.7 586.1,457.8 586.2,458.7 586.4,459.6 586.6,456.9 586.7,458.6 586.9,458.8 587.1,458.1 587.2,459.5 587.4,459.4 587.6,458.8 587.7,458.8 587.9,458.4 588.1,457.7 588.2,458.8 588.4,458.1 588.6,458.0 588.8,459.2 588.9,458.3 589.1,459.2 589.3,457.8 589.4,458.2 589.6,458.5 589.8,459.5 589.9,458.5 590.1,459.1 590.3,458.1 590.4,458.7 590.6,459.1 590.8,457.9 591.0,458.1 591.1,459.0 591.3,457.8 591.5,458.8 591.6,458.9 591.8,458.6 592.0,459.2 592.1,459.0 592.3,458.8 592.5,457.6 592.6,457.6 592.8,458.9 593.0,457.6 593.1,458.7 593.3,458.5 593.5,458.1 593.7,458.5 593.8,457.1 594.0,458.6 594.2,459.6 594.3,457.9 594.5,459.1 594.7,459.0 594.8,460.9 595.0,458.1 595.2,458.3 595.3,458.3 595.5,458.2 595.7,457.7 595.9,458.9 596.0,458.2 596.2,459.4 596.4,459.1 596.5,458.2 596.7,458.6 596.9,459.9 597.0,458.7 597.2,459.1 597.4,459.5 597.5,458.7 597.7,459.3 597.9,460.1 598.0,459.8 598.2,457.8 598.4,460.1 598.6,458.9 598.7,458.6 598.9,458.6 599.1,459.9 599.2,459.3 599.4,459.0 599.6,458.5 599.7,459.5 599.9,459.9 600.1,458.4 600.2,458.3 600.4,458.9 600.6,459.6 600.8,458.9 600.9,459.1 601.1,456.5 601.3,460.0 601.4,459.1 601.6,459.3 601.8,460.0 601.9,459.0 602.1,459.2 602.3,459.5 602.4,459.0 602.6,460.2 602.8,459.3 602.9,459.0 603.1,459.1 603.3,458.5 603.5,460.1 603.6,460.3 603.8,459.1 604.0,459.0 604.1,457.8 604.3,458.9 604.5,460.0 604.6,458.8 604.8,459.9 605.0,460.4 605.1,457.5 605.3,459.2 605.5,458.9 605.6,459.0 605.8,458.1 606.0,459.2 606.2,458.6 606.3,460.2 606.5,460.4 606.7,458.5 606.8,458.4 607.0,459.1 607.2,459.3 607.3,459.4 607.5,460.0 607.7,458.4 607.8,459.1 608.0,459.2 608.2,459.3 608.4,458.8 608.5,459.2 608.7,459.0 608.9,460.4 609.0,459.2 609.2,458.1 609.4,460.0 609.5,459.7 609.7,459.0 609.9,459.0 610.0,459.2 610.2,460.8 610.4,459.3 610.5,460.5 610.7,460.2 610.9,459.3 611.1,459.9 611.2,459.1 611.4,457.5 611.6,459.2 611.7,459.2 611.9,460.4 612.1,460.2 612.2,460.5 612.4,460.1 612.6,460.5 612.7,460.2 612.9,459.9 613.1,460.5 613.3,460.8 613.4,460.8 613.6,459.5 613.8,459.8 613.9,459.1 614.1,459.1 614.3,460.1 614.4,459.4 614.6,460.9 614.8,458.3 614.9,459.0 615.1,460.0 615.3,460.7 615.4,459.6 615.6,461.2 615.8,460.5 616.0,459.4 616.1,459.9 616.3,460.3 616.5,459.3 616.6,460.7 616.8,459.8 617.0,460.3 617.1,460.6 617.3,459.7 617.5,460.7 617.6,458.7 617.8,460.4 618.0,458.6 618.1,460.8 618.3,459.6 618.5,460.9 618.7,461.0 618.8,459.9 619.0,459.6 619.2,461.0 619.3,459.3 619.5,460.7 619.7,460.0 619.8,459.8 620.0,459.7 620.2,461.4 620.3,459.0 620.5,459.7 620.7,460.4 620.9,460.9 621.0,461.4 621.2,461.1 621.4,459.8 621.5,460.4 621.7,461.0 621.9,460.6 622.0,459.1 622.2,460.5 622.4,460.6 622.5,459.3 622.7,459.9 622.9,460.2 623.0,460.7 623.2,461.4 623.4,461.1 623.6,460.6 623.7,460.5 623.9,460.1 624.1,459.9 624.2,460.2 624.4,460.2 624.6,461.0 624.7,461.9 624.9,460.7 625.1,461.0 625.2,460.8 625.4,460.6 625.6,461.3 625.8,461.2 625.9,460.5 626.1,460.3 626.3,460.9 626.4,460.1 626.6,460.6 626.8,461.2 626.9,460.4 627.1,459.1 627.3,460.9 627.4,459.7 627.6,459.5 627.8,459.4 627.9,461.1 628.1,459.1 628.3,460.4 628.5,460.7 628.6,460.7 628.8,460.1 629.0,460.5 629.1,460.7 629.3,459.7 629.5,461.1 629.6,461.3 629.8,460.0 630.0,460.1 630.1,459.8 630.3,461.4 630.5,459.9 630.7,460.3 630.8,459.4 631.0,461.5 631.2,460.5 631.3,460.9 631.5,461.8 631.7,461.2 631.8,459.9 632.0,461.0 632.2,461.2 632.3,460.1 632.5,460.0 632.7,460.0 632.8,461.3 633.0,460.8 633.2,460.0 633.4,461.2 633.5,461.3 633.7,460.2 633.9,459.7 634.0,461.6 634.2,462.6 634.4,461.8 634.5,461.5 634.7,460.9 634.9,460.4 635.0,460.9 635.2,459.2 635.4,460.8 635.5,461.5 635.7,460.9 635.9,461.3 636.1,459.0 636.2,460.3 636.4,461.5 636.6,461.6 636.7,461.2 636.9,462.1 637.1,461.5 637.2,461.5 637.4,460.3 637.6,461.3 637.7,461.5 637.9,461.9 638.1,461.8 638.3,461.0 638.4,461.2 638.6,460.2 638.8,461.5 638.9,460.3 639.1,460.9 639.3,461.1 639.4,462.5 639.6,462.0 639.8,460.6 639.9,460.1 640.1,460.9 640.3,460.6 640.4,461.4 640.6,461.4 640.8,461.6 641.0,460.4 641.1,460.9 641.3,461.3 641.5,461.4 641.6,460.8 641.8,460.9 642.0,461.8 642.1,460.0 642.3,461.0 642.5,461.2 642.6,460.2 642.8,460.5 643.0,461.3 643.2,460.9 643.3,462.0 643.5,461.7 643.7,462.8 643.8,460.4 644.0,462.6 644.2,460.8 644.3,461.9 644.5,462.0 644.7,461.4 644.8,461.1 645.0,460.9 645.2,460.1 645.3,461.1 645.5,460.7 645.7,461.8 645.9,460.9 646.0,461.3 646.2,461.7 646.4,461.5 646.5,461.4 646.7,461.3 646.9,461.1 647.0,461.8 647.2,462.0 647.4,460.9 647.5,462.6 647.7,461.9 647.9,460.4 648.1,463.4 648.2,462.0 648.4,461.0 648.6,462.7 648.7,459.7 648.9,463.3 649.1,460.5 649.2,460.4 649.4,460.9 649.6,461.7 649.7,461.3 649.9,462.2 650.1,461.0 650.2,462.4 650.4,461.8 650.6,460.9 650.8,462.4 650.9,461.9 651.1,461.5 651.3,462.6 651.4,460.8 651.6,461.4 651.8,462.7 651.9,461.7 652.1,462.2 652.3,462.1 652.4,461.6 652.6,462.2 652.8,461.0 652.9,462.2 653.1,461.0 653.3,461.8 653.5,461.1 653.6,462.1 653.8,462.1 654.0,462.6 654.1,461.4 654.3,461.1 654.5,460.3 654.6,460.9 654.8,461.6 655.0,462.0 655.1,461.5 655.3,461.8 655.5,460.8 655.7,461.2 655.8,462.4 656.0,462.3 656.2,460.9 656.3,461.7 656.5,462.0 656.7,461.1 656.8,462.2 657.0,462.1 657.2,462.2 657.3,463.3 657.5,461.3 657.7,462.8 657.8,462.3 658.0,462.5 658.2,461.5 658.4,462.0 658.5,462.0 658.7,463.2 658.9,462.1 659.0,463.0 659.2,461.8 659.4,461.8 659.5,462.0 659.7,460.6 659.9,461.7 660.0,461.6 660.2,462.0 660.4,462.2 660.6,461.4 660.7,461.3 660.9,463.0 661.1,461.4 661.2,461.8 661.4,461.5 661.6,461.8 661.7,463.0 661.9,463.0 662.1,460.9 662.2,462.0 662.4,463.2 662.6,461.9 662.7,462.4 662.9,463.5 663.1,463.8 663.3,463.3 663.4,462.0 663.6,462.3 663.8,462.4 663.9,462.0 664.1,461.8 664.3,463.7 664.4,462.5 664.6,462.9 664.8,463.1 664.9,462.7 665.1,462.4 665.3,462.5 665.5,463.3 665.6,462.7 665.8,460.9 666.0,463.1 666.1,463.5" fill="none" stroke="#ff7f0e" stroke-width="2.1" stroke-linejoin="round" stroke-linecap="square" />
</g>
<rect x="400.3" y="343.5" width="278.2" height="140.0" fill="none" stroke="#000" stroke-width="1.05"/>
<line x1="395.3" y1="483.50" x2="400.3" y2="483.50" stroke="#000" stroke-width="1.05"/>
<text x="390.00" y="487.80" font-size="12.2" text-anchor="end" fill="#262626" textLength="18.61" lengthAdjust="spacingAndGlyphs" >0.0</text>
<line x1="395.3" y1="455.50" x2="400.3" y2="455.50" stroke="#000" stroke-width="1.05"/>
<text x="390.00" y="459.80" font-size="12.2" text-anchor="end" fill="#262626" textLength="18.61" lengthAdjust="spacingAndGlyphs" >0.2</text>
<line x1="395.3" y1="427.50" x2="400.3" y2="427.50" stroke="#000" stroke-width="1.05"/>
<text x="390.00" y="431.80" font-size="12.2" text-anchor="end" fill="#262626" textLength="18.61" lengthAdjust="spacingAndGlyphs" >0.4</text>
<line x1="395.3" y1="399.50" x2="400.3" y2="399.50" stroke="#000" stroke-width="1.05"/>
<text x="390.00" y="403.80" font-size="12.2" text-anchor="end" fill="#262626" textLength="18.61" lengthAdjust="spacingAndGlyphs" >0.6</text>
<line x1="395.3" y1="371.50" x2="400.3" y2="371.50" stroke="#000" stroke-width="1.05"/>
<text x="390.00" y="375.80" font-size="12.2" text-anchor="end" fill="#262626" textLength="18.61" lengthAdjust="spacingAndGlyphs" >0.8</text>
<line x1="395.3" y1="343.50" x2="400.3" y2="343.50" stroke="#000" stroke-width="1.05"/>
<text x="390.00" y="347.80" font-size="12.2" text-anchor="end" fill="#262626" textLength="18.61" lengthAdjust="spacingAndGlyphs" >1.0</text>
<line x1="412.90" y1="483.5" x2="412.90" y2="488.5" stroke="#000" stroke-width="1.05"/>
<text x="412.90" y="503.00" font-size="12.2" text-anchor="middle" fill="#262626" textLength="7.44" lengthAdjust="spacingAndGlyphs" >0</text>
<line x1="455.13" y1="483.5" x2="455.13" y2="488.5" stroke="#000" stroke-width="1.05"/>
<text x="455.13" y="503.00" font-size="12.2" text-anchor="middle" fill="#262626" textLength="22.33" lengthAdjust="spacingAndGlyphs" >250</text>
<line x1="497.37" y1="483.5" x2="497.37" y2="488.5" stroke="#000" stroke-width="1.05"/>
<text x="497.37" y="503.00" font-size="12.2" text-anchor="middle" fill="#262626" textLength="22.33" lengthAdjust="spacingAndGlyphs" >500</text>
<line x1="539.60" y1="483.5" x2="539.60" y2="488.5" stroke="#000" stroke-width="1.05"/>
<text x="539.60" y="503.00" font-size="12.2" text-anchor="middle" fill="#262626" textLength="22.33" lengthAdjust="spacingAndGlyphs" >750</text>
<line x1="581.83" y1="483.5" x2="581.83" y2="488.5" stroke="#000" stroke-width="1.05"/>
<text x="581.83" y="503.00" font-size="12.2" text-anchor="middle" fill="#262626" textLength="29.78" lengthAdjust="spacingAndGlyphs" >1000</text>
<line x1="624.06" y1="483.5" x2="624.06" y2="488.5" stroke="#000" stroke-width="1.05"/>
<text x="624.06" y="503.00" font-size="12.2" text-anchor="middle" fill="#262626" textLength="29.78" lengthAdjust="spacingAndGlyphs" >1250</text>
<line x1="666.29" y1="483.5" x2="666.29" y2="488.5" stroke="#000" stroke-width="1.05"/>
<text x="666.29" y="503.00" font-size="12.2" text-anchor="middle" fill="#262626" textLength="29.78" lengthAdjust="spacingAndGlyphs" >1500</text>
<text x="539.40" y="520.40" font-size="12.2" text-anchor="middle" fill="#262626" textLength="41.92" lengthAdjust="spacingAndGlyphs" >Epochs</text>
<text transform="translate(364.0,413.5) rotate(-90)" font-size="12.2" text-anchor="middle" fill="#262626" textLength="52.21" lengthAdjust="spacingAndGlyphs">Dice loss</text>
<rect x="541.8" y="349.0" width="130.80000000000007" height="37.60000000000002" rx="2" fill="#fff" fill-opacity="0.8" stroke="#d6d6d6" stroke-width="0.9"/>
<line x1="545.4" y1="358.3" x2="570.8" y2="358.3" stroke="#1f77b4" stroke-width="2"/>
<text x="579.40" y="362.80" font-size="12.2" text-anchor="start" fill="#262626" textLength="90.21" lengthAdjust="spacingAndGlyphs" >restored S0066</text>
<line x1="545.4" y1="375.3" x2="570.8" y2="375.3" stroke="#ff7f0e" stroke-width="2"/>
<text x="579.40" y="379.80" font-size="12.2" text-anchor="start" fill="#262626" textLength="62.47" lengthAdjust="spacingAndGlyphs" >raw S0066</text>
<text x="345.3" y="339.6" font-size="11" font-weight="bold" fill="#000">h</text>
<rect x="364.1" y="4.1" width="154.0" height="153.7" fill="#000"/>
<clipPath id="ccc"><circle cx="441.20000000000005" cy="80.94999999999999" r="77.6"/></clipPath>
<g clip-path="url(#ccc)">
<rect x="364.1" y="4.1" width="154.0" height="153.7" filter="url(#nc)"/>
<ellipse cx="438.1" cy="70.1" rx="30" ry="26" fill="#000" opacity="0.06" filter="url(#hblur)"/>
<g filter="url(#pblur)" fill="#303030" opacity="0.15">
<circle cx="443.3" cy="82.8" r="0.7"/>
<circle cx="418.6" cy="83.9" r="0.9"/>
<circle cx="430.0" cy="79.7" r="1.0"/>
<circle cx="442.5" cy="72.5" r="0.9"/>
<circle cx="427.1" cy="70.0" r="0.8"/>
<circle cx="447.1" cy="72.6" r="0.9"/>
<circle cx="426.4" cy="68.8" r="1.1"/>
<circle cx="434.0" cy="88.9" r="1.2"/>
<circle cx="397.4" cy="47.5" r="1.0"/>
<circle cx="431.8" cy="74.9" r="1.2"/>
<circle cx="436.3" cy="99.6" r="1.0"/>
<circle cx="432.4" cy="98.7" r="1.2"/>
<circle cx="448.0" cy="65.4" r="0.9"/>
<circle cx="440.6" cy="73.5" r="1.2"/>
<circle cx="427.9" cy="71.2" r="1.1"/>
<circle cx="436.6" cy="73.3" r="1.1"/>
<circle cx="430.5" cy="79.8" r="1.0"/>
<circle cx="442.9" cy="61.5" r="1.1"/>
<circle cx="430.6" cy="83.5" r="1.2"/>
<circle cx="451.8" cy="71.8" r="0.9"/>
<circle cx="433.4" cy="72.8" r="1.0"/>
<circle cx="423.4" cy="57.7" r="0.8"/>
<circle cx="431.1" cy="75.2" r="1.1"/>
<circle cx="413.4" cy="75.4" r="0.9"/>
<circle cx="433.6" cy="61.6" r="1.0"/>
<circle cx="441.9" cy="83.7" r="1.2"/>
<circle cx="415.9" cy="70.7" r="1.0"/>
<circle cx="449.7" cy="74.6" r="0.7"/>
<circle cx="420.2" cy="83.6" r="1.1"/>
<circle cx="428.5" cy="72.1" r="0.8"/>
<circle cx="445.1" cy="83.5" r="0.9"/>
<circle cx="436.7" cy="68.7" r="0.9"/>
<circle cx="404.3" cy="70.3" r="0.8"/>
<circle cx="416.7" cy="76.4" r="0.9"/>
<circle cx="451.0" cy="70.5" r="1.1"/>
<circle cx="456.4" cy="77.1" r="0.7"/>
<circle cx="415.4" cy="94.9" r="0.8"/>
<circle cx="427.8" cy="74.0" r="1.1"/>
<circle cx="450.9" cy="72.5" r="0.8"/>
<circle cx="427.4" cy="78.2" r="0.9"/>
<circle cx="448.1" cy="91.9" r="1.1"/>
<circle cx="401.1" cy="80.1" r="0.8"/>
<circle cx="423.1" cy="55.8" r="0.8"/>
<circle cx="425.5" cy="65.5" r="1.0"/>
<circle cx="446.1" cy="66.8" r="1.1"/>
<circle cx="435.5" cy="61.1" r="1.2"/>
<circle cx="423.8" cy="72.2" r="0.7"/>
<circle cx="421.7" cy="91.0" r="0.7"/>
<circle cx="437.3" cy="78.7" r="0.8"/>
<circle cx="434.7" cy="77.6" r="0.7"/>
<circle cx="420.7" cy="82.9" r="0.8"/>
<circle cx="422.3" cy="60.4" r="0.9"/>
<circle cx="462.5" cy="56.8" r="0.9"/>
<circle cx="406.0" cy="72.1" r="1.1"/>
<circle cx="434.6" cy="63.9" r="0.9"/>
<circle cx="448.6" cy="80.7" r="1.2"/>
<circle cx="441.2" cy="64.4" r="1.0"/>
<circle cx="437.0" cy="73.5" r="0.9"/>
<circle cx="440.7" cy="50.4" r="1.2"/>
<circle cx="429.5" cy="56.8" r="0.9"/>
<circle cx="457.9" cy="78.5" r="0.6"/>
<circle cx="424.1" cy="109.4" r="1.2"/>
<circle cx="421.0" cy="62.0" r="1.0"/>
<circle cx="414.8" cy="74.3" r="0.6"/>
<circle cx="456.5" cy="84.6" r="0.9"/>
<circle cx="438.7" cy="51.1" r="1.0"/>
<circle cx="440.6" cy="79.2" r="1.0"/>
<circle cx="465.5" cy="98.4" r="1.0"/>
<circle cx="443.7" cy="63.3" r="0.8"/>
<circle cx="419.1" cy="96.4" r="1.0"/>
<circle cx="433.7" cy="78.6" r="1.0"/>
<circle cx="434.5" cy="64.8" r="1.0"/>
<circle cx="420.5" cy="66.4" r="1.2"/>
<circle cx="433.1" cy="72.8" r="0.7"/>
<circle cx="449.4" cy="67.9" r="0.7"/>
<circle cx="428.1" cy="65.3" r="0.7"/>
<circle cx="445.9" cy="57.2" r="1.2"/>
<circle cx="443.5" cy="77.3" r="1.0"/>
<circle cx="407.8" cy="77.6" r="0.6"/>
<circle cx="416.9" cy="82.1" r="0.7"/>
</g>
<g fill="#d8d8d8" opacity="0.4">
<circle cx="485.3" cy="64.6" r="0.6"/>
<circle cx="453.9" cy="23.6" r="0.6"/>
<circle cx="421.3" cy="150.4" r="0.6"/>
<circle cx="473.5" cy="46.3" r="0.6"/>
<circle cx="479.3" cy="74.5" r="0.6"/>
<circle cx="462.6" cy="22.0" r="0.6"/>
</g>
</g>
<rect x="415.3" y="60.0" width="46.69999999999999" height="44.7" fill="none" stroke="#e8161b" stroke-width="1.2" stroke-dasharray="3.1,1.2"/>
<clipPath id="cic"><rect x="448.0" y="87.3" width="67.0" height="64.89999999999999"/></clipPath>
<g clip-path="url(#cic)">
<rect x="448.0" y="87.3" width="67.0" height="64.89999999999999" filter="url(#nic)"/>
<g filter="url(#pblur2)" fill="#303030" opacity="0.3">
<circle cx="488.1" cy="120.4" r="1.0"/>
<circle cx="452.7" cy="122.0" r="1.3"/>
<circle cx="469.2" cy="115.8" r="1.4"/>
<circle cx="487.0" cy="105.4" r="1.4"/>
<circle cx="464.9" cy="101.8" r="1.1"/>
<circle cx="493.6" cy="105.6" r="1.2"/>
<circle cx="463.9" cy="100.0" r="1.6"/>
<circle cx="474.8" cy="129.3" r="1.8"/>
<circle cx="471.6" cy="108.9" r="1.8"/>
<circle cx="478.1" cy="144.8" r="1.4"/>
<circle cx="472.6" cy="143.4" r="1.7"/>
<circle cx="495.0" cy="95.2" r="1.3"/>
<circle cx="484.3" cy="106.9" r="1.7"/>
<circle cx="466.0" cy="103.5" r="1.6"/>
<circle cx="478.6" cy="106.7" r="1.6"/>
<circle cx="469.8" cy="116.1" r="1.5"/>
<circle cx="487.6" cy="89.4" r="1.6"/>
<circle cx="469.9" cy="121.5" r="1.7"/>
<circle cx="500.4" cy="104.5" r="1.3"/>
<circle cx="474.0" cy="105.9" r="1.5"/>
<circle cx="470.7" cy="109.3" r="1.6"/>
<circle cx="445.2" cy="109.7" r="1.3"/>
<circle cx="474.3" cy="89.6" r="1.4"/>
<circle cx="486.2" cy="121.8" r="1.7"/>
<circle cx="448.8" cy="102.8" r="1.5"/>
<circle cx="497.4" cy="108.5" r="1.1"/>
<circle cx="455.0" cy="121.5" r="1.6"/>
<circle cx="466.9" cy="104.8" r="1.2"/>
<circle cx="490.8" cy="121.4" r="1.2"/>
<circle cx="478.7" cy="100.0" r="1.3"/>
<circle cx="450.0" cy="111.1" r="1.3"/>
<circle cx="499.3" cy="102.5" r="1.6"/>
<circle cx="506.9" cy="112.1" r="1.0"/>
<circle cx="448.1" cy="138.0" r="1.1"/>
<circle cx="465.9" cy="107.6" r="1.6"/>
<circle cx="499.0" cy="105.5" r="1.2"/>
<circle cx="465.3" cy="113.7" r="1.3"/>
<circle cx="495.0" cy="133.6" r="1.5"/>
<circle cx="462.6" cy="95.3" r="1.4"/>
<circle cx="492.2" cy="97.2" r="1.6"/>
<circle cx="476.9" cy="88.9" r="1.7"/>
<circle cx="460.3" cy="105.0" r="0.9"/>
<circle cx="457.2" cy="132.4" r="1.0"/>
<circle cx="479.6" cy="114.5" r="1.1"/>
<circle cx="475.8" cy="112.9" r="1.0"/>
<circle cx="455.8" cy="120.6" r="1.1"/>
<circle cx="458.0" cy="87.9" r="1.2"/>
<circle cx="475.6" cy="93.0" r="1.2"/>
<circle cx="495.8" cy="117.4" r="1.8"/>
<circle cx="485.2" cy="93.7" r="1.5"/>
<circle cx="479.2" cy="106.9" r="1.3"/>
<circle cx="509.1" cy="114.2" r="0.9"/>
<circle cx="456.2" cy="90.2" r="1.4"/>
<circle cx="447.3" cy="108.1" r="0.9"/>
<circle cx="507.1" cy="123.0" r="1.3"/>
<circle cx="484.3" cy="115.2" r="1.4"/>
<circle cx="488.7" cy="92.2" r="1.1"/>
<circle cx="453.5" cy="140.1" r="1.4"/>
<circle cx="474.3" cy="114.3" r="1.4"/>
<circle cx="475.6" cy="94.2" r="1.5"/>
<circle cx="455.5" cy="96.6" r="1.7"/>
<circle cx="473.5" cy="105.9" r="1.0"/>
<circle cx="496.9" cy="98.8" r="1.0"/>
<circle cx="466.4" cy="94.9" r="1.0"/>
<circle cx="488.4" cy="112.5" r="1.5"/>
<circle cx="450.3" cy="119.4" r="0.9"/>
</g>
</g>
<rect x="448.0" y="87.3" width="67.0" height="64.89999999999999" fill="none" stroke="#e8161b" stroke-width="1.4"/>
<text x="367.2" y="15.8" font-size="11.2" font-weight="bold" fill="#fff" font-family="Liberation Sans, sans-serif">c</text>
<rect x="530.2" y="4.1" width="154.79999999999995" height="153.7" fill="#000"/>
<clipPath id="ccd"><circle cx="607.5" cy="80.94999999999999" r="77.6"/></clipPath>
<g clip-path="url(#ccd)">
<rect x="530.2" y="4.1" width="154.79999999999995" height="153.7" filter="url(#nd)"/>
<ellipse cx="604.2" cy="70.1" rx="30" ry="26" fill="#000" opacity="0.06" filter="url(#hblur)"/>
<g filter="url(#pblur)" fill="#303030" opacity="0.2">
<circle cx="607.0" cy="65.3" r="1.1"/>
<circle cx="567.6" cy="95.5" r="1.1"/>
<circle cx="599.3" cy="82.2" r="0.8"/>
<circle cx="595.9" cy="84.8" r="0.7"/>
<circle cx="599.3" cy="61.8" r="0.9"/>
<circle cx="602.7" cy="79.2" r="1.0"/>
<circle cx="606.1" cy="60.5" r="0.8"/>
<circle cx="607.0" cy="76.4" r="1.1"/>
<circle cx="589.0" cy="82.3" r="0.9"/>
<circle cx="579.6" cy="49.6" r="0.7"/>
<circle cx="616.8" cy="73.8" r="1.0"/>
<circle cx="615.0" cy="74.8" r="0.9"/>
<circle cx="601.7" cy="83.4" r="1.2"/>
<circle cx="597.9" cy="75.3" r="1.0"/>
<circle cx="592.7" cy="58.1" r="1.1"/>
<circle cx="618.7" cy="69.0" r="0.7"/>
<circle cx="576.1" cy="86.8" r="1.1"/>
<circle cx="582.9" cy="74.1" r="1.1"/>
<circle cx="605.5" cy="85.1" r="1.0"/>
<circle cx="608.3" cy="68.5" r="0.7"/>
<circle cx="613.9" cy="69.5" r="1.0"/>
<circle cx="576.8" cy="70.7" r="1.1"/>
<circle cx="588.2" cy="52.2" r="0.9"/>
<circle cx="622.2" cy="73.1" r="1.2"/>
<circle cx="604.1" cy="62.5" r="1.0"/>
<circle cx="603.1" cy="55.8" r="0.7"/>
<circle cx="630.7" cy="76.7" r="0.6"/>
<circle cx="600.1" cy="63.1" r="1.1"/>
<circle cx="602.6" cy="62.2" r="0.6"/>
<circle cx="590.6" cy="74.6" r="1.2"/>
<circle cx="591.7" cy="90.7" r="0.6"/>
<circle cx="606.5" cy="61.2" r="0.9"/>
<circle cx="604.9" cy="66.4" r="0.7"/>
<circle cx="594.0" cy="61.4" r="1.0"/>
<circle cx="600.3" cy="77.3" r="1.2"/>
<circle cx="613.9" cy="104.0" r="1.0"/>
<circle cx="597.4" cy="96.4" r="0.7"/>
<circle cx="618.7" cy="59.7" r="1.2"/>
<circle cx="574.7" cy="83.8" r="0.6"/>
<circle cx="589.7" cy="93.9" r="0.7"/>
<circle cx="604.9" cy="62.4" r="0.9"/>
<circle cx="601.7" cy="81.5" r="1.1"/>
<circle cx="594.2" cy="65.0" r="0.9"/>
<circle cx="584.0" cy="64.4" r="1.2"/>
<circle cx="614.6" cy="89.3" r="0.7"/>
<circle cx="612.5" cy="66.3" r="0.7"/>
<circle cx="603.5" cy="78.6" r="1.0"/>
<circle cx="592.0" cy="74.7" r="0.9"/>
<circle cx="609.5" cy="51.8" r="1.2"/>
<circle cx="590.7" cy="94.5" r="1.0"/>
<circle cx="620.7" cy="54.0" r="0.7"/>
<circle cx="590.9" cy="65.8" r="1.0"/>
<circle cx="599.4" cy="75.5" r="0.8"/>
<circle cx="614.0" cy="71.0" r="1.0"/>
<circle cx="592.1" cy="69.6" r="1.1"/>
<circle cx="615.5" cy="69.0" r="0.8"/>
<circle cx="618.4" cy="80.8" r="1.0"/>
<circle cx="589.2" cy="76.1" r="0.9"/>
<circle cx="590.9" cy="85.7" r="1.2"/>
<circle cx="574.7" cy="73.7" r="0.7"/>
<circle cx="621.2" cy="82.6" r="1.1"/>
<circle cx="590.9" cy="73.4" r="1.1"/>
<circle cx="627.1" cy="81.7" r="0.8"/>
<circle cx="612.9" cy="45.7" r="0.6"/>
<circle cx="617.2" cy="69.8" r="1.1"/>
<circle cx="612.7" cy="97.6" r="1.2"/>
<circle cx="587.4" cy="90.9" r="0.8"/>
<circle cx="611.7" cy="64.5" r="0.7"/>
<circle cx="591.5" cy="89.3" r="0.8"/>
<circle cx="578.3" cy="46.4" r="1.0"/>
<circle cx="623.6" cy="73.8" r="0.6"/>
<circle cx="600.7" cy="81.7" r="0.7"/>
<circle cx="608.4" cy="59.3" r="1.0"/>
<circle cx="624.6" cy="55.2" r="1.2"/>
<circle cx="615.0" cy="65.8" r="0.9"/>
<circle cx="614.1" cy="79.3" r="0.7"/>
<circle cx="577.3" cy="86.7" r="0.7"/>
<circle cx="597.1" cy="109.1" r="0.9"/>
<circle cx="618.5" cy="66.2" r="1.2"/>
<circle cx="570.0" cy="73.5" r="0.7"/>
</g>
<g fill="#d8d8d8" opacity="0.4">
<circle cx="638.9" cy="130.3" r="0.6"/>
<circle cx="626.9" cy="42.1" r="0.6"/>
<circle cx="586.6" cy="32.6" r="0.6"/>
<circle cx="652.1" cy="44.7" r="0.6"/>
<circle cx="647.3" cy="79.2" r="0.6"/>
<circle cx="643.3" cy="110.3" r="0.6"/>
</g>
</g>
<rect x="582.0" y="59.6" width="47.200000000000045" height="44.9" fill="none" stroke="#e8161b" stroke-width="1.2" stroke-dasharray="3.1,1.2"/>
<clipPath id="cid"><rect x="613.8" y="87.3" width="67.10000000000002" height="64.89999999999999"/></clipPath>
<g clip-path="url(#cid)">
<rect x="613.8" y="87.3" width="67.10000000000002" height="64.89999999999999" filter="url(#nid)"/>
<g filter="url(#pblur2)" fill="#303030" opacity="0.4">
<circle cx="649.4" cy="95.5" r="1.6"/>
<circle cx="638.4" cy="119.9" r="1.1"/>
<circle cx="633.5" cy="123.7" r="1.0"/>
<circle cx="638.3" cy="90.5" r="1.2"/>
<circle cx="643.2" cy="115.6" r="1.5"/>
<circle cx="648.1" cy="88.6" r="1.2"/>
<circle cx="649.4" cy="111.6" r="1.6"/>
<circle cx="623.8" cy="120.1" r="1.3"/>
<circle cx="663.3" cy="107.8" r="1.5"/>
<circle cx="660.8" cy="109.3" r="1.2"/>
<circle cx="641.7" cy="121.7" r="1.6"/>
<circle cx="636.4" cy="109.9" r="1.4"/>
<circle cx="629.1" cy="85.1" r="1.5"/>
<circle cx="666.0" cy="101.0" r="1.1"/>
<circle cx="615.1" cy="108.3" r="1.6"/>
<circle cx="647.2" cy="124.2" r="1.4"/>
<circle cx="651.2" cy="100.1" r="1.0"/>
<circle cx="659.2" cy="101.7" r="1.4"/>
<circle cx="670.9" cy="106.8" r="1.7"/>
<circle cx="645.2" cy="91.4" r="1.4"/>
<circle cx="683.0" cy="112.0" r="0.9"/>
<circle cx="639.5" cy="92.4" r="1.6"/>
<circle cx="643.1" cy="91.1" r="0.9"/>
<circle cx="626.0" cy="108.9" r="1.8"/>
<circle cx="627.5" cy="132.2" r="0.9"/>
<circle cx="648.6" cy="89.7" r="1.3"/>
<circle cx="646.4" cy="97.2" r="1.0"/>
<circle cx="630.9" cy="89.9" r="1.4"/>
<circle cx="639.8" cy="112.9" r="1.7"/>
<circle cx="659.2" cy="151.5" r="1.4"/>
<circle cx="635.6" cy="140.5" r="1.0"/>
<circle cx="666.0" cy="87.4" r="1.7"/>
<circle cx="624.7" cy="136.9" r="0.9"/>
<circle cx="646.3" cy="91.4" r="1.2"/>
<circle cx="641.9" cy="119.0" r="1.6"/>
<circle cx="631.1" cy="95.0" r="1.2"/>
<circle cx="616.6" cy="94.3" r="1.7"/>
<circle cx="660.1" cy="130.2" r="1.0"/>
<circle cx="657.1" cy="97.0" r="1.0"/>
<circle cx="644.3" cy="114.8" r="1.5"/>
<circle cx="628.1" cy="109.2" r="1.3"/>
<circle cx="626.2" cy="137.7" r="1.4"/>
<circle cx="626.4" cy="96.2" r="1.4"/>
<circle cx="638.6" cy="110.3" r="1.1"/>
<circle cx="659.3" cy="103.7" r="1.4"/>
<circle cx="628.2" cy="101.7" r="1.5"/>
<circle cx="661.4" cy="100.9" r="1.1"/>
<circle cx="665.6" cy="117.9" r="1.5"/>
<circle cx="624.0" cy="111.2" r="1.3"/>
<circle cx="626.5" cy="125.0" r="1.7"/>
<circle cx="669.6" cy="120.5" r="1.6"/>
<circle cx="626.5" cy="107.3" r="1.6"/>
<circle cx="677.9" cy="119.3" r="1.1"/>
<circle cx="663.8" cy="102.0" r="1.5"/>
<circle cx="657.4" cy="142.2" r="1.7"/>
<circle cx="621.5" cy="132.5" r="1.2"/>
<circle cx="656.1" cy="94.4" r="1.0"/>
<circle cx="627.2" cy="130.2" r="1.1"/>
<circle cx="673.0" cy="107.8" r="0.9"/>
<circle cx="640.3" cy="119.2" r="1.0"/>
<circle cx="651.3" cy="86.9" r="1.4"/>
<circle cx="660.8" cy="96.2" r="1.3"/>
<circle cx="659.4" cy="115.8" r="1.0"/>
<circle cx="665.7" cy="96.8" r="1.7"/>
</g>
</g>
<rect x="613.8" y="87.3" width="67.10000000000002" height="64.89999999999999" fill="none" stroke="#e8161b" stroke-width="1.4"/>
<text x="534.3" y="18.6" font-size="11.2" font-weight="bold" fill="#fff" font-family="Liberation Sans, sans-serif">d</text>
<rect x="364.1" y="160.7" width="154.0" height="153.7" fill="#000"/>
<clipPath id="cce"><circle cx="441.20000000000005" cy="237.54999999999998" r="77.6"/></clipPath>
<g clip-path="url(#cce)">
<rect x="364.1" y="160.7" width="154.0" height="153.7" filter="url(#ne)"/>
<ellipse cx="438.1" cy="226.7" rx="30" ry="26" fill="#000" opacity="0.06" filter="url(#hblur)"/>
<g filter="url(#pblur)" fill="#303030" opacity="0.16">
<circle cx="468.7" cy="195.5" r="1.1"/>
<circle cx="429.6" cy="222.8" r="0.9"/>
<circle cx="407.8" cy="225.7" r="1.1"/>
<circle cx="487.9" cy="231.6" r="0.9"/>
<circle cx="433.9" cy="220.0" r="1.1"/>
<circle cx="432.2" cy="235.0" r="1.0"/>
<circle cx="452.5" cy="226.1" r="0.6"/>
<circle cx="461.3" cy="235.8" r="0.8"/>
<circle cx="435.4" cy="235.7" r="0.9"/>
<circle cx="434.1" cy="225.5" r="1.1"/>
<circle cx="424.8" cy="224.9" r="1.2"/>
<circle cx="446.8" cy="229.9" r="0.8"/>
<circle cx="395.7" cy="242.0" r="0.7"/>
<circle cx="413.1" cy="232.3" r="1.0"/>
<circle cx="431.4" cy="214.7" r="1.1"/>
<circle cx="437.3" cy="247.0" r="1.2"/>
<circle cx="441.0" cy="243.2" r="0.7"/>
<circle cx="424.2" cy="236.3" r="1.2"/>
<circle cx="434.9" cy="218.5" r="0.9"/>
<circle cx="400.7" cy="237.7" r="0.7"/>
<circle cx="413.5" cy="229.5" r="1.0"/>
<circle cx="449.5" cy="202.3" r="1.2"/>
<circle cx="448.7" cy="243.7" r="1.0"/>
<circle cx="423.0" cy="200.6" r="1.1"/>
<circle cx="443.0" cy="220.8" r="0.8"/>
<circle cx="420.2" cy="233.3" r="0.7"/>
<circle cx="459.2" cy="228.4" r="0.8"/>
<circle cx="412.3" cy="250.6" r="1.2"/>
<circle cx="449.4" cy="243.5" r="1.0"/>
<circle cx="428.5" cy="218.3" r="1.0"/>
<circle cx="458.7" cy="209.7" r="1.0"/>
<circle cx="433.3" cy="231.6" r="1.0"/>
<circle cx="419.4" cy="206.2" r="0.7"/>
<circle cx="456.3" cy="238.5" r="1.1"/>
<circle cx="433.3" cy="232.5" r="0.9"/>
<circle cx="450.4" cy="218.4" r="0.9"/>
<circle cx="436.4" cy="235.8" r="0.9"/>
<circle cx="476.4" cy="248.2" r="0.9"/>
<circle cx="407.5" cy="224.3" r="1.2"/>
<circle cx="446.1" cy="199.1" r="1.2"/>
<circle cx="454.1" cy="211.8" r="1.1"/>
<circle cx="426.1" cy="229.3" r="0.9"/>
<circle cx="468.8" cy="226.1" r="1.0"/>
<circle cx="440.4" cy="251.6" r="1.0"/>
<circle cx="458.6" cy="214.7" r="0.9"/>
<circle cx="425.9" cy="248.3" r="0.7"/>
<circle cx="433.5" cy="222.8" r="1.0"/>
<circle cx="427.6" cy="216.6" r="1.2"/>
<circle cx="475.0" cy="225.5" r="0.8"/>
<circle cx="420.5" cy="211.3" r="0.9"/>
<circle cx="450.9" cy="228.8" r="0.9"/>
<circle cx="439.8" cy="230.5" r="1.2"/>
<circle cx="434.1" cy="222.7" r="1.2"/>
<circle cx="426.4" cy="222.5" r="0.7"/>
<circle cx="433.1" cy="239.8" r="0.9"/>
<circle cx="435.8" cy="239.3" r="0.9"/>
<circle cx="463.5" cy="201.5" r="1.0"/>
<circle cx="430.9" cy="230.5" r="1.1"/>
<circle cx="454.3" cy="242.2" r="1.1"/>
<circle cx="462.2" cy="225.0" r="0.9"/>
<circle cx="450.1" cy="221.5" r="1.2"/>
<circle cx="453.4" cy="257.0" r="0.6"/>
<circle cx="432.4" cy="230.9" r="1.0"/>
<circle cx="429.3" cy="233.6" r="1.2"/>
<circle cx="462.3" cy="220.1" r="1.0"/>
<circle cx="428.4" cy="216.2" r="1.0"/>
<circle cx="420.2" cy="230.6" r="0.9"/>
<circle cx="440.6" cy="236.8" r="1.2"/>
<circle cx="442.2" cy="231.2" r="0.9"/>
<circle cx="414.0" cy="238.6" r="0.7"/>
<circle cx="447.9" cy="228.5" r="1.2"/>
<circle cx="437.1" cy="218.0" r="1.2"/>
<circle cx="429.7" cy="226.3" r="0.8"/>
<circle cx="436.1" cy="226.2" r="0.9"/>
<circle cx="435.3" cy="200.9" r="0.6"/>
<circle cx="420.1" cy="243.3" r="0.9"/>
<circle cx="408.8" cy="230.6" r="1.2"/>
<circle cx="422.4" cy="235.6" r="0.7"/>
<circle cx="411.6" cy="225.2" r="1.2"/>
<circle cx="439.7" cy="212.7" r="0.9"/>
</g>
<g fill="#d8d8d8" opacity="0.4">
<circle cx="426.4" cy="273.2" r="0.6"/>
<circle cx="470.2" cy="301.2" r="0.6"/>
<circle cx="459.4" cy="214.8" r="0.6"/>
<circle cx="426.2" cy="297.6" r="0.6"/>
<circle cx="425.7" cy="188.6" r="0.6"/>
<circle cx="376.5" cy="245.1" r="0.6"/>
</g>
</g>
<rect x="415.3" y="214.8" width="46.69999999999999" height="44.69999999999999" fill="none" stroke="#e8161b" stroke-width="1.2" stroke-dasharray="3.1,1.2"/>
<clipPath id="cie"><rect x="447.8" y="243.4" width="67.19999999999999" height="64.99999999999997"/></clipPath>
<g clip-path="url(#cie)">
<rect x="447.8" y="243.4" width="67.19999999999999" height="64.99999999999997" filter="url(#nie)"/>
<g filter="url(#pblur2)" fill="#303030" opacity="0.35">
<circle cx="468.4" cy="255.1" r="1.3"/>
<circle cx="474.5" cy="251.0" r="1.6"/>
<circle cx="472.2" cy="272.7" r="1.5"/>
<circle cx="501.3" cy="259.8" r="0.9"/>
<circle cx="514.0" cy="273.9" r="1.2"/>
<circle cx="476.7" cy="273.8" r="1.3"/>
<circle cx="474.8" cy="259.0" r="1.5"/>
<circle cx="461.5" cy="258.1" r="1.7"/>
<circle cx="493.1" cy="265.3" r="1.1"/>
<circle cx="471.0" cy="243.3" r="1.6"/>
<circle cx="479.5" cy="290.2" r="1.7"/>
<circle cx="484.8" cy="284.6" r="1.0"/>
<circle cx="460.6" cy="274.7" r="1.7"/>
<circle cx="476.0" cy="248.8" r="1.2"/>
<circle cx="445.2" cy="264.8" r="1.4"/>
<circle cx="495.9" cy="285.5" r="1.4"/>
<circle cx="487.7" cy="252.1" r="1.2"/>
<circle cx="454.9" cy="270.3" r="1.1"/>
<circle cx="511.0" cy="263.2" r="1.1"/>
<circle cx="496.9" cy="285.1" r="1.4"/>
<circle cx="466.8" cy="248.5" r="1.5"/>
<circle cx="473.7" cy="267.9" r="1.4"/>
<circle cx="506.8" cy="277.9" r="1.6"/>
<circle cx="473.8" cy="269.2" r="1.4"/>
<circle cx="498.2" cy="248.6" r="1.2"/>
<circle cx="478.2" cy="273.9" r="1.2"/>
<circle cx="463.3" cy="264.4" r="1.3"/>
<circle cx="484.0" cy="296.9" r="1.4"/>
<circle cx="510.1" cy="243.2" r="1.2"/>
<circle cx="463.0" cy="292.1" r="1.0"/>
<circle cx="474.0" cy="255.1" r="1.5"/>
<circle cx="465.5" cy="246.0" r="1.7"/>
<circle cx="499.0" cy="263.8" r="1.3"/>
<circle cx="483.1" cy="266.2" r="1.8"/>
<circle cx="474.9" cy="255.0" r="1.7"/>
<circle cx="463.7" cy="254.6" r="1.0"/>
<circle cx="473.4" cy="279.7" r="1.4"/>
<circle cx="477.3" cy="279.0" r="1.3"/>
<circle cx="470.2" cy="266.2" r="1.5"/>
<circle cx="504.0" cy="283.3" r="1.6"/>
<circle cx="515.4" cy="258.3" r="1.3"/>
<circle cx="497.9" cy="253.2" r="1.7"/>
<circle cx="502.6" cy="304.7" r="0.9"/>
<circle cx="472.3" cy="266.8" r="1.5"/>
<circle cx="467.9" cy="270.8" r="1.7"/>
<circle cx="515.5" cy="251.1" r="1.4"/>
<circle cx="466.7" cy="245.5" r="1.5"/>
<circle cx="454.9" cy="266.4" r="1.3"/>
<circle cx="484.2" cy="275.4" r="1.7"/>
<circle cx="486.4" cy="267.3" r="1.2"/>
<circle cx="445.9" cy="278.0" r="0.9"/>
<circle cx="494.7" cy="263.3" r="1.8"/>
<circle cx="479.1" cy="248.1" r="1.7"/>
<circle cx="468.5" cy="260.2" r="1.2"/>
<circle cx="477.7" cy="260.0" r="1.3"/>
<circle cx="454.7" cy="284.8" r="1.3"/>
<circle cx="458.0" cy="273.7" r="1.0"/>
</g>
</g>
<rect x="447.8" y="243.4" width="67.19999999999999" height="64.99999999999997" fill="none" stroke="#e8161b" stroke-width="1.4"/>
<text x="366.8" y="170.8" font-size="11.2" font-weight="bold" fill="#fff" font-family="Liberation Sans, sans-serif">e</text>
<rect x="530.2" y="160.7" width="154.79999999999995" height="153.7" fill="#000"/>
<clipPath id="ccf"><circle cx="607.5" cy="237.54999999999998" r="77.6"/></clipPath>
<g clip-path="url(#ccf)">
<rect x="530.2" y="160.7" width="154.79999999999995" height="153.7" filter="url(#nf)"/>
<ellipse cx="604.2" cy="226.7" rx="30" ry="26" fill="#000" opacity="0.06" filter="url(#hblur)"/>
<g filter="url(#pblur)" fill="#303030" opacity="0.2">
<circle cx="594.4" cy="226.4" r="1.2"/>
<circle cx="614.1" cy="207.4" r="0.8"/>
<circle cx="594.8" cy="230.6" r="1.2"/>
<circle cx="607.8" cy="231.8" r="0.9"/>
<circle cx="608.9" cy="235.3" r="1.2"/>
<circle cx="638.0" cy="203.8" r="1.2"/>
<circle cx="599.3" cy="217.3" r="1.1"/>
<circle cx="594.1" cy="233.6" r="0.7"/>
<circle cx="626.4" cy="204.9" r="0.9"/>
<circle cx="590.8" cy="238.8" r="0.7"/>
<circle cx="599.0" cy="231.4" r="1.2"/>
<circle cx="619.0" cy="231.0" r="1.2"/>
<circle cx="618.6" cy="216.0" r="0.9"/>
<circle cx="601.2" cy="238.4" r="0.9"/>
<circle cx="593.6" cy="220.8" r="0.7"/>
<circle cx="595.4" cy="225.6" r="0.8"/>
<circle cx="635.1" cy="222.1" r="1.2"/>
<circle cx="611.1" cy="216.3" r="0.8"/>
<circle cx="604.4" cy="238.8" r="1.2"/>
<circle cx="624.8" cy="224.1" r="0.9"/>
<circle cx="616.9" cy="237.3" r="0.7"/>
<circle cx="606.8" cy="228.4" r="1.2"/>
<circle cx="589.3" cy="244.5" r="1.1"/>
<circle cx="585.3" cy="255.4" r="0.9"/>
<circle cx="586.5" cy="252.8" r="0.9"/>
<circle cx="620.1" cy="217.9" r="1.0"/>
<circle cx="578.9" cy="203.9" r="0.8"/>
<circle cx="603.0" cy="239.1" r="1.0"/>
<circle cx="588.7" cy="241.8" r="0.6"/>
<circle cx="601.9" cy="209.4" r="0.7"/>
<circle cx="592.5" cy="213.2" r="0.9"/>
<circle cx="593.7" cy="245.0" r="1.0"/>
<circle cx="588.8" cy="230.8" r="1.1"/>
<circle cx="612.0" cy="228.2" r="0.9"/>
<circle cx="602.4" cy="242.7" r="0.7"/>
<circle cx="609.7" cy="239.1" r="0.9"/>
<circle cx="611.9" cy="210.3" r="1.1"/>
<circle cx="605.6" cy="231.1" r="0.8"/>
<circle cx="604.1" cy="225.4" r="0.8"/>
<circle cx="605.9" cy="216.8" r="0.8"/>
<circle cx="578.6" cy="250.2" r="0.9"/>
<circle cx="604.9" cy="258.1" r="0.7"/>
<circle cx="605.9" cy="236.8" r="1.1"/>
<circle cx="629.4" cy="227.0" r="1.1"/>
<circle cx="622.6" cy="232.2" r="0.7"/>
<circle cx="613.3" cy="213.9" r="1.2"/>
<circle cx="564.6" cy="225.3" r="1.1"/>
<circle cx="587.6" cy="244.7" r="1.1"/>
<circle cx="603.4" cy="228.6" r="0.9"/>
<circle cx="591.3" cy="225.0" r="0.8"/>
<circle cx="613.4" cy="239.0" r="1.2"/>
<circle cx="616.6" cy="218.6" r="1.0"/>
<circle cx="609.7" cy="228.4" r="1.2"/>
<circle cx="608.2" cy="221.5" r="0.8"/>
<circle cx="601.1" cy="241.2" r="1.1"/>
<circle cx="632.8" cy="231.5" r="1.2"/>
<circle cx="597.6" cy="250.3" r="1.0"/>
<circle cx="597.6" cy="217.3" r="1.2"/>
<circle cx="619.2" cy="237.4" r="0.6"/>
<circle cx="625.8" cy="239.4" r="1.1"/>
<circle cx="615.7" cy="230.9" r="0.7"/>
<circle cx="615.7" cy="229.1" r="1.1"/>
<circle cx="627.6" cy="242.2" r="0.8"/>
<circle cx="598.6" cy="231.6" r="1.0"/>
<circle cx="608.8" cy="225.7" r="1.0"/>
<circle cx="590.4" cy="219.9" r="1.1"/>
<circle cx="624.2" cy="235.2" r="0.9"/>
<circle cx="591.0" cy="238.0" r="1.1"/>
<circle cx="580.0" cy="244.0" r="1.2"/>
<circle cx="599.1" cy="233.7" r="0.7"/>
<circle cx="581.4" cy="231.1" r="1.1"/>
<circle cx="597.1" cy="246.2" r="1.1"/>
<circle cx="630.5" cy="230.3" r="0.9"/>
<circle cx="613.4" cy="232.9" r="1.2"/>
<circle cx="637.3" cy="235.8" r="0.9"/>
<circle cx="586.6" cy="218.9" r="0.8"/>
<circle cx="602.7" cy="228.1" r="1.0"/>
<circle cx="611.6" cy="211.1" r="0.8"/>
<circle cx="621.0" cy="239.6" r="1.2"/>
<circle cx="623.6" cy="219.9" r="0.7"/>
</g>
<g fill="#d8d8d8" opacity="0.4">
<circle cx="640.9" cy="183.9" r="0.6"/>
<circle cx="614.1" cy="267.9" r="0.6"/>
<circle cx="561.0" cy="284.0" r="0.6"/>
<circle cx="602.9" cy="187.8" r="0.6"/>
<circle cx="565.5" cy="183.4" r="0.6"/>
<circle cx="659.0" cy="260.3" r="0.6"/>
</g>
</g>
<rect x="582.1" y="214.4" width="47.39999999999998" height="44.900000000000006" fill="none" stroke="#e8161b" stroke-width="1.2" stroke-dasharray="3.1,1.2"/>
<clipPath id="cif"><rect x="613.8" y="243.4" width="67.10000000000002" height="64.99999999999997"/></clipPath>
<g clip-path="url(#cif)">
<rect x="613.8" y="243.4" width="67.10000000000002" height="64.99999999999997" filter="url(#nif)"/>
<g filter="url(#pblur2)" fill="#303030" opacity="0.4">
<circle cx="631.2" cy="260.8" r="1.7"/>
<circle cx="631.8" cy="266.9" r="1.7"/>
<circle cx="650.2" cy="268.5" r="1.3"/>
<circle cx="651.8" cy="273.7" r="1.8"/>
<circle cx="638.1" cy="247.5" r="1.5"/>
<circle cx="630.8" cy="271.3" r="1.0"/>
<circle cx="626.1" cy="278.7" r="1.1"/>
<circle cx="637.8" cy="268.1" r="1.7"/>
<circle cx="666.0" cy="267.5" r="1.7"/>
<circle cx="665.5" cy="245.7" r="1.3"/>
<circle cx="640.8" cy="278.2" r="1.3"/>
<circle cx="630.0" cy="252.7" r="1.1"/>
<circle cx="632.7" cy="259.6" r="1.2"/>
<circle cx="654.8" cy="246.2" r="1.1"/>
<circle cx="645.4" cy="278.7" r="1.7"/>
<circle cx="674.2" cy="257.5" r="1.2"/>
<circle cx="663.1" cy="276.5" r="0.9"/>
<circle cx="648.8" cy="263.7" r="1.7"/>
<circle cx="623.9" cy="287.0" r="1.6"/>
<circle cx="618.3" cy="302.8" r="1.3"/>
<circle cx="620.0" cy="299.0" r="1.3"/>
<circle cx="667.6" cy="248.5" r="1.4"/>
<circle cx="643.4" cy="279.1" r="1.4"/>
<circle cx="623.2" cy="283.1" r="0.9"/>
<circle cx="628.6" cy="241.6" r="1.3"/>
<circle cx="630.2" cy="287.6" r="1.4"/>
<circle cx="623.3" cy="267.2" r="1.5"/>
<circle cx="656.1" cy="263.4" r="1.3"/>
<circle cx="642.5" cy="284.4" r="1.0"/>
<circle cx="652.9" cy="279.1" r="1.2"/>
<circle cx="647.0" cy="267.6" r="1.1"/>
<circle cx="644.9" cy="259.3" r="1.2"/>
<circle cx="647.5" cy="246.9" r="1.2"/>
<circle cx="646.1" cy="306.6" r="1.0"/>
<circle cx="647.5" cy="275.9" r="1.6"/>
<circle cx="680.8" cy="261.6" r="1.6"/>
<circle cx="671.1" cy="269.2" r="0.9"/>
<circle cx="658.0" cy="242.7" r="1.7"/>
<circle cx="621.5" cy="287.3" r="1.6"/>
<circle cx="643.9" cy="264.0" r="1.2"/>
<circle cx="626.8" cy="258.8" r="1.2"/>
<circle cx="658.1" cy="279.0" r="1.7"/>
<circle cx="662.6" cy="249.5" r="1.4"/>
<circle cx="652.9" cy="263.7" r="1.7"/>
<circle cx="650.8" cy="253.7" r="1.2"/>
<circle cx="640.8" cy="282.2" r="1.5"/>
<circle cx="635.8" cy="295.4" r="1.4"/>
<circle cx="635.8" cy="247.7" r="1.8"/>
<circle cx="666.4" cy="276.7" r="0.9"/>
<circle cx="675.7" cy="279.6" r="1.6"/>
<circle cx="661.4" cy="267.3" r="1.0"/>
<circle cx="661.3" cy="264.6" r="1.5"/>
<circle cx="678.2" cy="283.6" r="1.1"/>
<circle cx="637.2" cy="268.4" r="1.4"/>
<circle cx="651.6" cy="259.8" r="1.5"/>
<circle cx="625.5" cy="251.3" r="1.6"/>
<circle cx="673.4" cy="273.6" r="1.3"/>
<circle cx="626.4" cy="277.6" r="1.5"/>
<circle cx="610.8" cy="286.2" r="1.7"/>
<circle cx="637.9" cy="271.3" r="1.1"/>
<circle cx="612.9" cy="267.6" r="1.6"/>
<circle cx="635.0" cy="289.4" r="1.6"/>
<circle cx="682.3" cy="266.4" r="1.3"/>
<circle cx="658.1" cy="270.1" r="1.8"/>
<circle cx="620.1" cy="249.9" r="1.1"/>
<circle cx="642.9" cy="263.3" r="1.4"/>
<circle cx="668.9" cy="279.9" r="1.7"/>
<circle cx="672.6" cy="251.4" r="1.0"/>
</g>
</g>
<rect x="613.8" y="243.4" width="67.10000000000002" height="64.99999999999997" fill="none" stroke="#e8161b" stroke-width="1.4"/>
<text x="533.5" y="170.8" font-size="11.2" font-weight="bold" fill="#fff" font-family="Liberation Sans, sans-serif">f</text>
</svg>
</body></html>
